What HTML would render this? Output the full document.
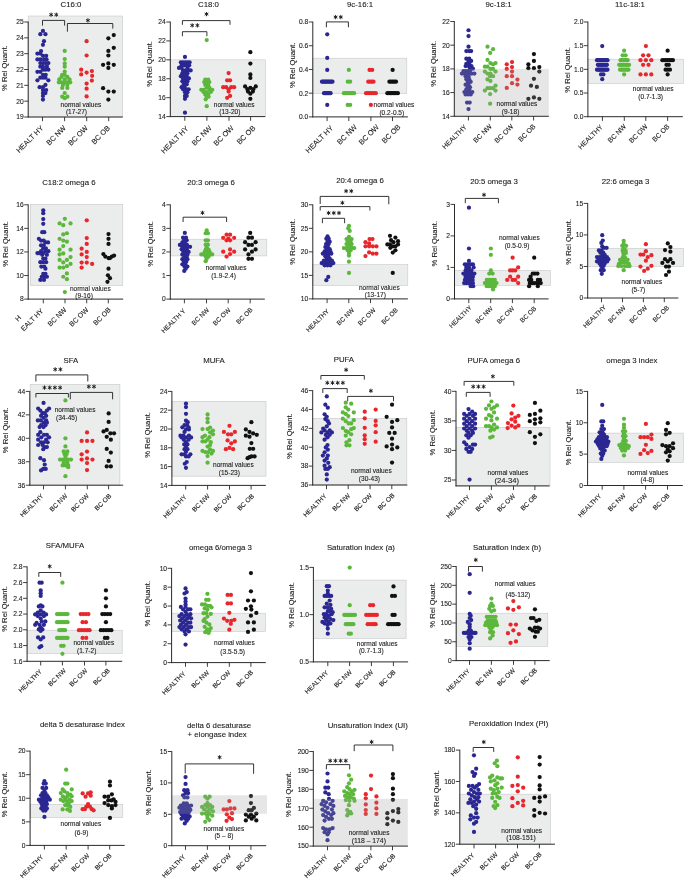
<!DOCTYPE html>
<html><head><meta charset="utf-8"><title>Fatty acid profile figure</title>
<style>
html,body{margin:0;padding:0;background:#fff;}
body{width:685px;height:881px;overflow:hidden;}
svg{display:block;will-change:transform;font-family:"Liberation Sans",sans-serif;}
text{fill:#1a1a1a;stroke:#1a1a1a;stroke-width:0.1px;}
</style></head><body>
<svg width="685" height="881" viewBox="0 0 685 881">
<rect width="685" height="881" fill="#ffffff"/>
<rect x="28.2" y="16" width="94.4" height="101" fill="#ebecec" stroke="#c9c9c9" stroke-width="0.6"/>
<circle cx="42.96" cy="30.98" r="2.12" fill="#2b2792"/>
<circle cx="40.33" cy="34.19" r="2.12" fill="#2b2792"/>
<circle cx="45.44" cy="34.19" r="2.12" fill="#2b2792"/>
<circle cx="43.98" cy="41.2" r="2.12" fill="#2b2792"/>
<circle cx="42.96" cy="44.85" r="2.12" fill="#2b2792"/>
<circle cx="41.06" cy="51.12" r="2.12" fill="#2b2792"/>
<circle cx="37.41" cy="53.61" r="2.12" fill="#2b2792"/>
<circle cx="40.33" cy="53.61" r="2.12" fill="#2b2792"/>
<circle cx="42.96" cy="55.8" r="2.12" fill="#2b2792"/>
<circle cx="46.17" cy="55.8" r="2.12" fill="#2b2792"/>
<circle cx="37.41" cy="59.45" r="2.12" fill="#2b2792"/>
<circle cx="40.33" cy="59.45" r="2.12" fill="#2b2792"/>
<circle cx="43.98" cy="59.45" r="2.12" fill="#2b2792"/>
<circle cx="46.61" cy="59.45" r="2.12" fill="#2b2792"/>
<circle cx="40.33" cy="63.09" r="2.12" fill="#2b2792"/>
<circle cx="42.96" cy="63.09" r="2.12" fill="#2b2792"/>
<circle cx="45.73" cy="63.09" r="2.12" fill="#2b2792"/>
<circle cx="48.36" cy="63.09" r="2.12" fill="#2b2792"/>
<circle cx="40.33" cy="66.74" r="2.12" fill="#2b2792"/>
<circle cx="42.96" cy="66.74" r="2.12" fill="#2b2792"/>
<circle cx="46.9" cy="66.74" r="2.12" fill="#2b2792"/>
<circle cx="42.96" cy="69.66" r="2.12" fill="#2b2792"/>
<circle cx="45.44" cy="69.66" r="2.12" fill="#2b2792"/>
<circle cx="48.36" cy="69.66" r="2.12" fill="#2b2792"/>
<circle cx="37.41" cy="71.85" r="2.12" fill="#2b2792"/>
<circle cx="40.33" cy="71.85" r="2.12" fill="#2b2792"/>
<circle cx="42.96" cy="74.77" r="2.12" fill="#2b2792"/>
<circle cx="45.73" cy="74.77" r="2.12" fill="#2b2792"/>
<circle cx="40.33" cy="77.69" r="2.12" fill="#2b2792"/>
<circle cx="42.96" cy="77.69" r="2.12" fill="#2b2792"/>
<circle cx="45.44" cy="77.69" r="2.12" fill="#2b2792"/>
<circle cx="37.41" cy="80.32" r="2.12" fill="#2b2792"/>
<circle cx="48.36" cy="80.32" r="2.12" fill="#2b2792"/>
<circle cx="45.44" cy="84.99" r="2.12" fill="#2b2792"/>
<circle cx="39.6" cy="87.18" r="2.12" fill="#2b2792"/>
<circle cx="42.96" cy="87.18" r="2.12" fill="#2b2792"/>
<circle cx="42.96" cy="90.1" r="2.12" fill="#2b2792"/>
<circle cx="46.17" cy="90.1" r="2.12" fill="#2b2792"/>
<circle cx="42.96" cy="93.02" r="2.12" fill="#2b2792"/>
<circle cx="45.44" cy="93.02" r="2.12" fill="#2b2792"/>
<circle cx="42.96" cy="95.94" r="2.12" fill="#2b2792"/>
<circle cx="42.96" cy="99.59" r="2.12" fill="#2b2792"/>
<circle cx="64.71" cy="50.98" r="2.12" fill="#5cb83c"/>
<circle cx="64.71" cy="59.01" r="2.12" fill="#5cb83c"/>
<circle cx="64.71" cy="63.39" r="2.12" fill="#5cb83c"/>
<circle cx="64.71" cy="66.74" r="2.12" fill="#5cb83c"/>
<circle cx="64.71" cy="71.56" r="2.12" fill="#5cb83c"/>
<circle cx="64.71" cy="74.77" r="2.12" fill="#5cb83c"/>
<circle cx="62.23" cy="74.77" r="2.12" fill="#5cb83c"/>
<circle cx="61.5" cy="76.96" r="2.12" fill="#5cb83c"/>
<circle cx="67.34" cy="76.96" r="2.12" fill="#5cb83c"/>
<circle cx="59.31" cy="79.45" r="2.12" fill="#5cb83c"/>
<circle cx="64.71" cy="79.45" r="2.12" fill="#5cb83c"/>
<circle cx="69.53" cy="79.45" r="2.12" fill="#5cb83c"/>
<circle cx="58.87" cy="82.36" r="2.12" fill="#5cb83c"/>
<circle cx="61.5" cy="82.36" r="2.12" fill="#5cb83c"/>
<circle cx="64.42" cy="82.36" r="2.12" fill="#5cb83c"/>
<circle cx="67.34" cy="82.36" r="2.12" fill="#5cb83c"/>
<circle cx="70.26" cy="82.36" r="2.12" fill="#5cb83c"/>
<circle cx="62.96" cy="84.99" r="2.12" fill="#5cb83c"/>
<circle cx="67.34" cy="84.99" r="2.12" fill="#5cb83c"/>
<circle cx="62.23" cy="87.91" r="2.12" fill="#5cb83c"/>
<circle cx="67.34" cy="87.91" r="2.12" fill="#5cb83c"/>
<circle cx="64.71" cy="93.02" r="2.12" fill="#5cb83c"/>
<circle cx="62.23" cy="96.67" r="2.12" fill="#5cb83c"/>
<circle cx="67.34" cy="96.67" r="2.12" fill="#5cb83c"/>
<circle cx="64.71" cy="98.13" r="2.12" fill="#5cb83c"/>
<circle cx="86.61" cy="41.2" r="2.12" fill="#e8262b"/>
<circle cx="86.61" cy="55.5" r="2.12" fill="#e8262b"/>
<circle cx="81.2" cy="69.66" r="2.12" fill="#e8262b"/>
<circle cx="86.61" cy="72.58" r="2.12" fill="#e8262b"/>
<circle cx="91.86" cy="71.12" r="2.12" fill="#e8262b"/>
<circle cx="81.2" cy="74.48" r="2.12" fill="#e8262b"/>
<circle cx="92.15" cy="75.8" r="2.12" fill="#e8262b"/>
<circle cx="91.86" cy="80.61" r="2.12" fill="#e8262b"/>
<circle cx="86.61" cy="83.53" r="2.12" fill="#e8262b"/>
<circle cx="86.61" cy="88.64" r="2.12" fill="#e8262b"/>
<circle cx="86.61" cy="96.38" r="2.12" fill="#e8262b"/>
<circle cx="113.76" cy="35.07" r="2.12" fill="#111111"/>
<circle cx="108.36" cy="38.28" r="2.12" fill="#111111"/>
<circle cx="113.76" cy="47.77" r="2.12" fill="#111111"/>
<circle cx="108.36" cy="50.98" r="2.12" fill="#111111"/>
<circle cx="108.36" cy="55.5" r="2.12" fill="#111111"/>
<circle cx="108.36" cy="63.39" r="2.12" fill="#111111"/>
<circle cx="103.1" cy="64.85" r="2.12" fill="#111111"/>
<circle cx="113.76" cy="64.85" r="2.12" fill="#111111"/>
<circle cx="108.36" cy="67.91" r="2.12" fill="#111111"/>
<circle cx="103.1" cy="88.2" r="2.12" fill="#111111"/>
<circle cx="108.36" cy="91.56" r="2.12" fill="#111111"/>
<circle cx="113.76" cy="91.56" r="2.12" fill="#111111"/>
<circle cx="108.36" cy="99.59" r="2.12" fill="#111111"/>
<text x="71" y="7.3" font-size="7.8" text-anchor="middle">C16:0</text>
<line x1="28.2" y1="21.6" x2="28.2" y2="117.45" stroke="#2a2a2a" stroke-width="1"/>
<line x1="27.75" y1="117" x2="122.8" y2="117" stroke="#2a2a2a" stroke-width="1"/>
<line x1="24.2" y1="22" x2="28.2" y2="22" stroke="#2a2a2a" stroke-width="0.9"/>
<text x="23.7" y="24.35" font-size="6.7" text-anchor="end">25</text>
<line x1="24.2" y1="37.83" x2="28.2" y2="37.83" stroke="#2a2a2a" stroke-width="0.9"/>
<text x="23.7" y="40.18" font-size="6.7" text-anchor="end">24</text>
<line x1="24.2" y1="53.67" x2="28.2" y2="53.67" stroke="#2a2a2a" stroke-width="0.9"/>
<text x="23.7" y="56.02" font-size="6.7" text-anchor="end">23</text>
<line x1="24.2" y1="69.5" x2="28.2" y2="69.5" stroke="#2a2a2a" stroke-width="0.9"/>
<text x="23.7" y="71.85" font-size="6.7" text-anchor="end">22</text>
<line x1="24.2" y1="85.33" x2="28.2" y2="85.33" stroke="#2a2a2a" stroke-width="0.9"/>
<text x="23.7" y="87.68" font-size="6.7" text-anchor="end">21</text>
<line x1="24.2" y1="101.17" x2="28.2" y2="101.17" stroke="#2a2a2a" stroke-width="0.9"/>
<text x="23.7" y="103.52" font-size="6.7" text-anchor="end">20</text>
<line x1="24.2" y1="117" x2="28.2" y2="117" stroke="#2a2a2a" stroke-width="0.9"/>
<text x="23.7" y="119.35" font-size="6.7" text-anchor="end">19</text>
<text x="7.1" y="68.2" font-size="7.7" text-anchor="middle" transform="rotate(-90 7.1 68.2)">% Rel Quant.</text>
<line x1="42.5" y1="117" x2="42.5" y2="121.2" stroke="#2a2a2a" stroke-width="0.9"/>
<text x="43.9" y="128.6" font-size="7.3" text-anchor="end" transform="rotate(-45 43.9 128.6)">HEALT HY</text>
<line x1="64.6" y1="117" x2="64.6" y2="121.2" stroke="#2a2a2a" stroke-width="0.9"/>
<text x="66.4" y="128.6" font-size="7.3" text-anchor="end" transform="rotate(-45 66.4 128.6)">BC NW</text>
<line x1="86.7" y1="117" x2="86.7" y2="121.2" stroke="#2a2a2a" stroke-width="0.9"/>
<text x="88.5" y="128.6" font-size="7.3" text-anchor="end" transform="rotate(-45 88.5 128.6)">BC OW</text>
<line x1="108.7" y1="117" x2="108.7" y2="121.2" stroke="#2a2a2a" stroke-width="0.9"/>
<text x="110.5" y="128.6" font-size="7.3" text-anchor="end" transform="rotate(-45 110.5 128.6)">BC OB</text>
<text x="81" y="106.5" font-size="6.55" text-anchor="middle">normal values</text>
<text x="76.5" y="114.3" font-size="6.55" text-anchor="middle">(17-27)</text>
<path d="M42.5 25.6 V20.4 H64.6 V25.6" fill="none" stroke="#2a2a2a" stroke-width="0.95"/>
<path d="M51.1 12.58 L51.1 16.82 M49.26 13.64 L52.94 15.76 M52.94 13.64 L49.26 15.76" stroke="#1a1a1a" stroke-width="0.95" fill="none"/>
<path d="M56.3 12.58 L56.3 16.82 M54.46 13.64 L58.14 15.76 M58.14 13.64 L54.46 15.76" stroke="#1a1a1a" stroke-width="0.95" fill="none"/>
<path d="M67.4 31.7 V23.5 H112.8 V28.6" fill="none" stroke="#2a2a2a" stroke-width="0.95"/>
<path d="M87.9 18.28 L87.9 22.52 M86.06 19.34 L89.74 21.46 M89.74 19.34 L86.06 21.46" stroke="#1a1a1a" stroke-width="0.95" fill="none"/>
<rect x="170.3" y="59.84" width="95" height="56.76" fill="#ebecec" stroke="#c9c9c9" stroke-width="0.6"/>
<circle cx="184.96" cy="56.96" r="2.12" fill="#2b2792"/>
<circle cx="180.87" cy="62.36" r="2.12" fill="#2b2792"/>
<circle cx="183.06" cy="62.36" r="2.12" fill="#2b2792"/>
<circle cx="185.25" cy="62.36" r="2.12" fill="#2b2792"/>
<circle cx="187.44" cy="62.36" r="2.12" fill="#2b2792"/>
<circle cx="189.63" cy="62.36" r="2.12" fill="#2b2792"/>
<circle cx="181.6" cy="65.28" r="2.12" fill="#2b2792"/>
<circle cx="184.23" cy="65.28" r="2.12" fill="#2b2792"/>
<circle cx="186.71" cy="65.28" r="2.12" fill="#2b2792"/>
<circle cx="189.19" cy="65.28" r="2.12" fill="#2b2792"/>
<circle cx="178.97" cy="67.91" r="2.12" fill="#2b2792"/>
<circle cx="181.6" cy="67.91" r="2.12" fill="#2b2792"/>
<circle cx="187.44" cy="67.91" r="2.12" fill="#2b2792"/>
<circle cx="183.06" cy="70.39" r="2.12" fill="#2b2792"/>
<circle cx="185.69" cy="70.39" r="2.12" fill="#2b2792"/>
<circle cx="188.17" cy="70.39" r="2.12" fill="#2b2792"/>
<circle cx="190.65" cy="70.39" r="2.12" fill="#2b2792"/>
<circle cx="182.33" cy="73.31" r="2.12" fill="#2b2792"/>
<circle cx="184.96" cy="73.31" r="2.12" fill="#2b2792"/>
<circle cx="187.44" cy="73.31" r="2.12" fill="#2b2792"/>
<circle cx="180.87" cy="76.23" r="2.12" fill="#2b2792"/>
<circle cx="183.79" cy="76.23" r="2.12" fill="#2b2792"/>
<circle cx="186.71" cy="76.23" r="2.12" fill="#2b2792"/>
<circle cx="183.06" cy="78.42" r="2.12" fill="#2b2792"/>
<circle cx="185.69" cy="78.42" r="2.12" fill="#2b2792"/>
<circle cx="188.9" cy="78.42" r="2.12" fill="#2b2792"/>
<circle cx="182.33" cy="81.34" r="2.12" fill="#2b2792"/>
<circle cx="184.96" cy="81.34" r="2.12" fill="#2b2792"/>
<circle cx="187.44" cy="81.34" r="2.12" fill="#2b2792"/>
<circle cx="183.79" cy="84.26" r="2.12" fill="#2b2792"/>
<circle cx="186.71" cy="84.26" r="2.12" fill="#2b2792"/>
<circle cx="181.6" cy="87.18" r="2.12" fill="#2b2792"/>
<circle cx="184.52" cy="87.18" r="2.12" fill="#2b2792"/>
<circle cx="183.06" cy="89.37" r="2.12" fill="#2b2792"/>
<circle cx="185.98" cy="89.37" r="2.12" fill="#2b2792"/>
<circle cx="188.61" cy="89.37" r="2.12" fill="#2b2792"/>
<circle cx="184.96" cy="92.29" r="2.12" fill="#2b2792"/>
<circle cx="187.44" cy="92.29" r="2.12" fill="#2b2792"/>
<circle cx="184.96" cy="95.94" r="2.12" fill="#2b2792"/>
<circle cx="186.71" cy="95.94" r="2.12" fill="#2b2792"/>
<circle cx="184.96" cy="98.86" r="2.12" fill="#2b2792"/>
<circle cx="184.96" cy="112.73" r="2.12" fill="#2b2792"/>
<circle cx="206.71" cy="40.03" r="2.12" fill="#5cb83c"/>
<circle cx="205.25" cy="79.59" r="2.12" fill="#5cb83c"/>
<circle cx="208.17" cy="79.59" r="2.12" fill="#5cb83c"/>
<circle cx="204.23" cy="82.07" r="2.12" fill="#5cb83c"/>
<circle cx="206.71" cy="82.07" r="2.12" fill="#5cb83c"/>
<circle cx="209.34" cy="82.07" r="2.12" fill="#5cb83c"/>
<circle cx="205.25" cy="84.99" r="2.12" fill="#5cb83c"/>
<circle cx="208.17" cy="84.99" r="2.12" fill="#5cb83c"/>
<circle cx="206.71" cy="87.62" r="2.12" fill="#5cb83c"/>
<circle cx="209.34" cy="87.62" r="2.12" fill="#5cb83c"/>
<circle cx="201.31" cy="89.81" r="2.12" fill="#5cb83c"/>
<circle cx="203.79" cy="89.81" r="2.12" fill="#5cb83c"/>
<circle cx="209.34" cy="89.81" r="2.12" fill="#5cb83c"/>
<circle cx="212.26" cy="89.81" r="2.12" fill="#5cb83c"/>
<circle cx="203.5" cy="92" r="2.12" fill="#5cb83c"/>
<circle cx="206.71" cy="92" r="2.12" fill="#5cb83c"/>
<circle cx="210.8" cy="92" r="2.12" fill="#5cb83c"/>
<circle cx="205.25" cy="94.48" r="2.12" fill="#5cb83c"/>
<circle cx="208.17" cy="94.48" r="2.12" fill="#5cb83c"/>
<circle cx="206.71" cy="96.67" r="2.12" fill="#5cb83c"/>
<circle cx="208.61" cy="96.67" r="2.12" fill="#5cb83c"/>
<circle cx="205.69" cy="99.3" r="2.12" fill="#5cb83c"/>
<circle cx="206.71" cy="106.16" r="2.12" fill="#5cb83c"/>
<circle cx="228.61" cy="73.02" r="2.12" fill="#e8262b"/>
<circle cx="227.15" cy="80.32" r="2.12" fill="#e8262b"/>
<circle cx="230.07" cy="80.32" r="2.12" fill="#e8262b"/>
<circle cx="223.2" cy="87.18" r="2.12" fill="#e8262b"/>
<circle cx="226.12" cy="87.18" r="2.12" fill="#e8262b"/>
<circle cx="231.23" cy="87.18" r="2.12" fill="#e8262b"/>
<circle cx="234.15" cy="87.18" r="2.12" fill="#e8262b"/>
<circle cx="228.61" cy="89.37" r="2.12" fill="#e8262b"/>
<circle cx="228.61" cy="91.56" r="2.12" fill="#e8262b"/>
<circle cx="230.07" cy="95.94" r="2.12" fill="#e8262b"/>
<circle cx="227.15" cy="97.84" r="2.12" fill="#e8262b"/>
<circle cx="250.36" cy="52.15" r="2.12" fill="#111111"/>
<circle cx="250.36" cy="63.53" r="2.12" fill="#111111"/>
<circle cx="250.36" cy="74.48" r="2.12" fill="#111111"/>
<circle cx="250.36" cy="77.99" r="2.12" fill="#111111"/>
<circle cx="245.1" cy="86.45" r="2.12" fill="#111111"/>
<circle cx="255.76" cy="86.45" r="2.12" fill="#111111"/>
<circle cx="250.36" cy="87.91" r="2.12" fill="#111111"/>
<circle cx="247.29" cy="89.08" r="2.12" fill="#111111"/>
<circle cx="253.42" cy="89.08" r="2.12" fill="#111111"/>
<circle cx="248.02" cy="91.56" r="2.12" fill="#111111"/>
<circle cx="252.84" cy="91.56" r="2.12" fill="#111111"/>
<circle cx="250.36" cy="93.75" r="2.12" fill="#111111"/>
<circle cx="250.36" cy="98.86" r="2.12" fill="#111111"/>
<text x="208.5" y="7.3" font-size="7.8" text-anchor="middle">C18:0</text>
<line x1="170.3" y1="21.6" x2="170.3" y2="117.05" stroke="#2a2a2a" stroke-width="1"/>
<line x1="169.85" y1="116.6" x2="265.3" y2="116.6" stroke="#2a2a2a" stroke-width="1"/>
<line x1="166.3" y1="22" x2="170.3" y2="22" stroke="#2a2a2a" stroke-width="0.9"/>
<text x="165.8" y="24.35" font-size="6.7" text-anchor="end">24</text>
<line x1="166.3" y1="40.92" x2="170.3" y2="40.92" stroke="#2a2a2a" stroke-width="0.9"/>
<text x="165.8" y="43.27" font-size="6.7" text-anchor="end">22</text>
<line x1="166.3" y1="59.84" x2="170.3" y2="59.84" stroke="#2a2a2a" stroke-width="0.9"/>
<text x="165.8" y="62.19" font-size="6.7" text-anchor="end">20</text>
<line x1="166.3" y1="78.76" x2="170.3" y2="78.76" stroke="#2a2a2a" stroke-width="0.9"/>
<text x="165.8" y="81.11" font-size="6.7" text-anchor="end">18</text>
<line x1="166.3" y1="97.68" x2="170.3" y2="97.68" stroke="#2a2a2a" stroke-width="0.9"/>
<text x="165.8" y="100.03" font-size="6.7" text-anchor="end">16</text>
<line x1="166.3" y1="116.6" x2="170.3" y2="116.6" stroke="#2a2a2a" stroke-width="0.9"/>
<text x="165.8" y="118.95" font-size="6.7" text-anchor="end">14</text>
<text x="151.9" y="63.9" font-size="7.7" text-anchor="middle" transform="rotate(-90 151.9 63.9)">% Rel Quant.</text>
<line x1="184.8" y1="116.6" x2="184.8" y2="120.8" stroke="#2a2a2a" stroke-width="0.9"/>
<text x="189.1" y="129" font-size="7.4" text-anchor="end" transform="rotate(-45 189.1 129)">HEALT HY</text>
<line x1="206.9" y1="116.6" x2="206.9" y2="120.8" stroke="#2a2a2a" stroke-width="0.9"/>
<text x="212.2" y="128.6" font-size="7.4" text-anchor="end" transform="rotate(-45 212.2 128.6)">BC NW</text>
<line x1="229" y1="116.6" x2="229" y2="120.8" stroke="#2a2a2a" stroke-width="0.9"/>
<text x="234.3" y="128.6" font-size="7.4" text-anchor="end" transform="rotate(-45 234.3 128.6)">BC OW</text>
<line x1="250.6" y1="116.6" x2="250.6" y2="120.8" stroke="#2a2a2a" stroke-width="0.9"/>
<text x="255.9" y="128.6" font-size="7.4" text-anchor="end" transform="rotate(-45 255.9 128.6)">BC OB</text>
<text x="234.2" y="106.5" font-size="6.55" text-anchor="middle">normal values</text>
<text x="229.8" y="114.2" font-size="6.55" text-anchor="middle">(13-20)</text>
<path d="M182.4 24.8 V20.6 H230 V24.8" fill="none" stroke="#2a2a2a" stroke-width="0.95"/>
<path d="M206.5 11.98 L206.5 16.22 M204.66 13.04 L208.34 15.16 M208.34 13.04 L204.66 15.16" stroke="#1a1a1a" stroke-width="0.95" fill="none"/>
<path d="M182.4 36.2 V31.7 H206.9 V36.2" fill="none" stroke="#2a2a2a" stroke-width="0.95"/>
<path d="M192.2 23.28 L192.2 27.52 M190.36 24.34 L194.04 26.46 M194.04 24.34 L190.36 26.46" stroke="#1a1a1a" stroke-width="0.95" fill="none"/>
<path d="M197.4 23.28 L197.4 27.52 M195.56 24.34 L199.24 26.46 M199.24 24.34 L195.56 26.46" stroke="#1a1a1a" stroke-width="0.95" fill="none"/>
<rect x="312.8" y="58.2" width="94" height="35.2" fill="#ebecec" stroke="#c9c9c9" stroke-width="0.6"/>
<circle cx="327.23" cy="34.34" r="2.12" fill="#2b2792"/>
<circle cx="327.23" cy="57.99" r="2.12" fill="#2b2792"/>
<circle cx="327.23" cy="69.96" r="2.12" fill="#2b2792"/>
<circle cx="321.97" cy="81.64" r="2.12" fill="#2b2792"/>
<circle cx="323.14" cy="81.64" r="2.12" fill="#2b2792"/>
<circle cx="324.31" cy="81.64" r="2.12" fill="#2b2792"/>
<circle cx="325.47" cy="81.64" r="2.12" fill="#2b2792"/>
<circle cx="326.64" cy="81.64" r="2.12" fill="#2b2792"/>
<circle cx="327.81" cy="81.64" r="2.12" fill="#2b2792"/>
<circle cx="328.98" cy="81.64" r="2.12" fill="#2b2792"/>
<circle cx="330.15" cy="81.64" r="2.12" fill="#2b2792"/>
<circle cx="331.31" cy="81.64" r="2.12" fill="#2b2792"/>
<circle cx="332.48" cy="81.64" r="2.12" fill="#2b2792"/>
<circle cx="324.01" cy="93.17" r="2.12" fill="#2b2792"/>
<circle cx="325.18" cy="93.17" r="2.12" fill="#2b2792"/>
<circle cx="326.35" cy="93.17" r="2.12" fill="#2b2792"/>
<circle cx="327.37" cy="93.17" r="2.12" fill="#2b2792"/>
<circle cx="328.39" cy="93.17" r="2.12" fill="#2b2792"/>
<circle cx="329.56" cy="93.17" r="2.12" fill="#2b2792"/>
<circle cx="330.58" cy="93.17" r="2.12" fill="#2b2792"/>
<circle cx="327.23" cy="104.99" r="2.12" fill="#2b2792"/>
<circle cx="348.83" cy="69.96" r="2.12" fill="#5cb83c"/>
<circle cx="347.81" cy="81.64" r="2.12" fill="#5cb83c"/>
<circle cx="350.15" cy="81.64" r="2.12" fill="#5cb83c"/>
<circle cx="343.87" cy="93.17" r="2.12" fill="#5cb83c"/>
<circle cx="345.33" cy="93.17" r="2.12" fill="#5cb83c"/>
<circle cx="346.79" cy="93.17" r="2.12" fill="#5cb83c"/>
<circle cx="348.25" cy="93.17" r="2.12" fill="#5cb83c"/>
<circle cx="349.71" cy="93.17" r="2.12" fill="#5cb83c"/>
<circle cx="351.17" cy="93.17" r="2.12" fill="#5cb83c"/>
<circle cx="352.63" cy="93.17" r="2.12" fill="#5cb83c"/>
<circle cx="354.09" cy="93.17" r="2.12" fill="#5cb83c"/>
<circle cx="347.66" cy="104.99" r="2.12" fill="#5cb83c"/>
<circle cx="350.15" cy="104.99" r="2.12" fill="#5cb83c"/>
<circle cx="369.56" cy="69.96" r="2.12" fill="#e8262b"/>
<circle cx="372.19" cy="69.96" r="2.12" fill="#e8262b"/>
<circle cx="368.25" cy="81.64" r="2.12" fill="#e8262b"/>
<circle cx="370" cy="81.64" r="2.12" fill="#e8262b"/>
<circle cx="371.75" cy="81.64" r="2.12" fill="#e8262b"/>
<circle cx="373.5" cy="81.64" r="2.12" fill="#e8262b"/>
<circle cx="366.06" cy="93.17" r="2.12" fill="#e8262b"/>
<circle cx="367.96" cy="93.17" r="2.12" fill="#e8262b"/>
<circle cx="369.85" cy="93.17" r="2.12" fill="#e8262b"/>
<circle cx="371.75" cy="93.17" r="2.12" fill="#e8262b"/>
<circle cx="373.65" cy="93.17" r="2.12" fill="#e8262b"/>
<circle cx="375.84" cy="93.17" r="2.12" fill="#e8262b"/>
<circle cx="370.88" cy="104.99" r="2.12" fill="#e8262b"/>
<circle cx="392.63" cy="69.96" r="2.12" fill="#111111"/>
<circle cx="389.42" cy="81.64" r="2.12" fill="#111111"/>
<circle cx="391.02" cy="81.64" r="2.12" fill="#111111"/>
<circle cx="392.63" cy="81.64" r="2.12" fill="#111111"/>
<circle cx="394.23" cy="81.64" r="2.12" fill="#111111"/>
<circle cx="395.99" cy="81.64" r="2.12" fill="#111111"/>
<circle cx="387.37" cy="93.17" r="2.12" fill="#111111"/>
<circle cx="388.83" cy="93.17" r="2.12" fill="#111111"/>
<circle cx="390.29" cy="93.17" r="2.12" fill="#111111"/>
<circle cx="391.75" cy="93.17" r="2.12" fill="#111111"/>
<circle cx="393.21" cy="93.17" r="2.12" fill="#111111"/>
<circle cx="394.67" cy="93.17" r="2.12" fill="#111111"/>
<circle cx="396.13" cy="93.17" r="2.12" fill="#111111"/>
<circle cx="397.88" cy="93.17" r="2.12" fill="#111111"/>
<text x="360" y="7.3" font-size="7.8" text-anchor="middle">9c-16:1</text>
<line x1="312.8" y1="21.6" x2="312.8" y2="117.35" stroke="#2a2a2a" stroke-width="1"/>
<line x1="312.35" y1="116.9" x2="407.9" y2="116.9" stroke="#2a2a2a" stroke-width="1"/>
<line x1="308.8" y1="22" x2="312.8" y2="22" stroke="#2a2a2a" stroke-width="0.9"/>
<text x="308.3" y="24.35" font-size="6.7" text-anchor="end">0.8</text>
<line x1="308.8" y1="45.73" x2="312.8" y2="45.73" stroke="#2a2a2a" stroke-width="0.9"/>
<text x="308.3" y="48.08" font-size="6.7" text-anchor="end">0.6</text>
<line x1="308.8" y1="69.45" x2="312.8" y2="69.45" stroke="#2a2a2a" stroke-width="0.9"/>
<text x="308.3" y="71.8" font-size="6.7" text-anchor="end">0.4</text>
<line x1="308.8" y1="93.18" x2="312.8" y2="93.18" stroke="#2a2a2a" stroke-width="0.9"/>
<text x="308.3" y="95.53" font-size="6.7" text-anchor="end">0.2</text>
<line x1="308.8" y1="116.9" x2="312.8" y2="116.9" stroke="#2a2a2a" stroke-width="0.9"/>
<text x="308.3" y="119.25" font-size="6.7" text-anchor="end">0.0</text>
<text x="295" y="65.2" font-size="7.7" text-anchor="middle" transform="rotate(-90 295 65.2)">% Rel Quant.</text>
<line x1="327.1" y1="116.9" x2="327.1" y2="121.1" stroke="#2a2a2a" stroke-width="0.9"/>
<text x="333.7" y="128.4" font-size="7.4" text-anchor="end" transform="rotate(-45 333.7 128.4)">HEALT HY</text>
<line x1="348.8" y1="116.9" x2="348.8" y2="121.1" stroke="#2a2a2a" stroke-width="0.9"/>
<text x="357.4" y="127.5" font-size="7.4" text-anchor="end" transform="rotate(-45 357.4 127.5)">BC NW</text>
<line x1="370.9" y1="116.9" x2="370.9" y2="121.1" stroke="#2a2a2a" stroke-width="0.9"/>
<text x="379.5" y="127.5" font-size="7.4" text-anchor="end" transform="rotate(-45 379.5 127.5)">BC OW</text>
<line x1="392.5" y1="116.9" x2="392.5" y2="121.1" stroke="#2a2a2a" stroke-width="0.9"/>
<text x="401.1" y="127.5" font-size="7.4" text-anchor="end" transform="rotate(-45 401.1 127.5)">BC OB</text>
<text x="394" y="107.2" font-size="6.55" text-anchor="middle">normal values</text>
<text x="391.8" y="114.6" font-size="6.55" text-anchor="middle">(0.2-0.5)</text>
<path d="M326.4 27.3 V21.9 H348.4 V27.3" fill="none" stroke="#2a2a2a" stroke-width="0.95"/>
<path d="M335.6 14.98 L335.6 19.22 M333.76 16.04 L337.44 18.16 M337.44 16.04 L333.76 18.16" stroke="#1a1a1a" stroke-width="0.95" fill="none"/>
<path d="M340.8 14.98 L340.8 19.22 M338.96 16.04 L342.64 18.16 M342.64 16.04 L338.96 18.16" stroke="#1a1a1a" stroke-width="0.95" fill="none"/>
<circle cx="468.52" cy="30.25" r="2.12" fill="#2b2792"/>
<circle cx="468.52" cy="36.09" r="2.12" fill="#2b2792"/>
<circle cx="468.52" cy="46.74" r="2.12" fill="#2b2792"/>
<circle cx="466.33" cy="51.12" r="2.12" fill="#2b2792"/>
<circle cx="469.25" cy="51.12" r="2.12" fill="#2b2792"/>
<circle cx="471.15" cy="51.12" r="2.12" fill="#2b2792"/>
<circle cx="466.33" cy="58.72" r="2.12" fill="#2b2792"/>
<circle cx="469.25" cy="58.72" r="2.12" fill="#2b2792"/>
<circle cx="468.52" cy="60.91" r="2.12" fill="#2b2792"/>
<circle cx="471.15" cy="60.91" r="2.12" fill="#2b2792"/>
<circle cx="466.33" cy="63.82" r="2.12" fill="#2b2792"/>
<circle cx="469.25" cy="63.82" r="2.12" fill="#2b2792"/>
<circle cx="465.6" cy="66.01" r="2.12" fill="#2b2792"/>
<circle cx="468.52" cy="66.01" r="2.12" fill="#2b2792"/>
<circle cx="471.44" cy="66.01" r="2.12" fill="#2b2792"/>
<circle cx="469.98" cy="68.64" r="2.12" fill="#2b2792"/>
<circle cx="472.9" cy="68.64" r="2.12" fill="#2b2792"/>
<circle cx="463.41" cy="71.12" r="2.12" fill="#2b2792"/>
<circle cx="465.6" cy="71.12" r="2.12" fill="#2b2792"/>
<circle cx="467.79" cy="71.12" r="2.12" fill="#2b2792"/>
<circle cx="469.98" cy="71.12" r="2.12" fill="#2b2792"/>
<circle cx="461.95" cy="73.61" r="2.12" fill="#2b2792"/>
<circle cx="464.43" cy="73.61" r="2.12" fill="#2b2792"/>
<circle cx="466.77" cy="73.61" r="2.12" fill="#2b2792"/>
<circle cx="469.25" cy="73.61" r="2.12" fill="#2b2792"/>
<circle cx="471.73" cy="73.61" r="2.12" fill="#2b2792"/>
<circle cx="474.36" cy="73.61" r="2.12" fill="#2b2792"/>
<circle cx="465.6" cy="76.23" r="2.12" fill="#2b2792"/>
<circle cx="468.52" cy="76.23" r="2.12" fill="#2b2792"/>
<circle cx="466.33" cy="79.15" r="2.12" fill="#2b2792"/>
<circle cx="469.25" cy="79.15" r="2.12" fill="#2b2792"/>
<circle cx="467.79" cy="81.78" r="2.12" fill="#2b2792"/>
<circle cx="470.71" cy="81.78" r="2.12" fill="#2b2792"/>
<circle cx="465.6" cy="84.7" r="2.12" fill="#2b2792"/>
<circle cx="468.52" cy="84.7" r="2.12" fill="#2b2792"/>
<circle cx="467.79" cy="87.18" r="2.12" fill="#2b2792"/>
<circle cx="469.98" cy="87.18" r="2.12" fill="#2b2792"/>
<circle cx="466.33" cy="89.37" r="2.12" fill="#2b2792"/>
<circle cx="469.25" cy="89.37" r="2.12" fill="#2b2792"/>
<circle cx="464.43" cy="92" r="2.12" fill="#2b2792"/>
<circle cx="467.06" cy="92" r="2.12" fill="#2b2792"/>
<circle cx="469.69" cy="92" r="2.12" fill="#2b2792"/>
<circle cx="472.31" cy="92" r="2.12" fill="#2b2792"/>
<circle cx="465.6" cy="94.48" r="2.12" fill="#2b2792"/>
<circle cx="468.23" cy="94.48" r="2.12" fill="#2b2792"/>
<circle cx="470.71" cy="94.48" r="2.12" fill="#2b2792"/>
<circle cx="467.06" cy="102.51" r="2.12" fill="#2b2792"/>
<circle cx="469.69" cy="102.51" r="2.12" fill="#2b2792"/>
<circle cx="468.52" cy="109.08" r="2.12" fill="#2b2792"/>
<circle cx="487.5" cy="46.74" r="2.12" fill="#5cb83c"/>
<circle cx="493.04" cy="49.23" r="2.12" fill="#5cb83c"/>
<circle cx="490.12" cy="52.88" r="2.12" fill="#5cb83c"/>
<circle cx="487.5" cy="59.88" r="2.12" fill="#5cb83c"/>
<circle cx="490.42" cy="63.09" r="2.12" fill="#5cb83c"/>
<circle cx="495.53" cy="63.09" r="2.12" fill="#5cb83c"/>
<circle cx="493.04" cy="64.26" r="2.12" fill="#5cb83c"/>
<circle cx="484.87" cy="66.74" r="2.12" fill="#5cb83c"/>
<circle cx="487.5" cy="66.74" r="2.12" fill="#5cb83c"/>
<circle cx="490.42" cy="68.93" r="2.12" fill="#5cb83c"/>
<circle cx="493.04" cy="68.93" r="2.12" fill="#5cb83c"/>
<circle cx="484.87" cy="71.56" r="2.12" fill="#5cb83c"/>
<circle cx="495.53" cy="71.56" r="2.12" fill="#5cb83c"/>
<circle cx="487.5" cy="73.61" r="2.12" fill="#5cb83c"/>
<circle cx="490.42" cy="73.61" r="2.12" fill="#5cb83c"/>
<circle cx="490.12" cy="76.23" r="2.12" fill="#5cb83c"/>
<circle cx="493.04" cy="76.23" r="2.12" fill="#5cb83c"/>
<circle cx="487.5" cy="79.45" r="2.12" fill="#5cb83c"/>
<circle cx="490.42" cy="80.91" r="2.12" fill="#5cb83c"/>
<circle cx="495.53" cy="85.72" r="2.12" fill="#5cb83c"/>
<circle cx="487.5" cy="88.2" r="2.12" fill="#5cb83c"/>
<circle cx="490.12" cy="88.2" r="2.12" fill="#5cb83c"/>
<circle cx="493.04" cy="88.2" r="2.12" fill="#5cb83c"/>
<circle cx="484.87" cy="90.54" r="2.12" fill="#5cb83c"/>
<circle cx="495.53" cy="90.54" r="2.12" fill="#5cb83c"/>
<circle cx="490.12" cy="94.04" r="2.12" fill="#5cb83c"/>
<circle cx="490.12" cy="103.68" r="2.12" fill="#5cb83c"/>
<circle cx="512.02" cy="62.07" r="2.12" fill="#e8262b"/>
<circle cx="506.77" cy="64.26" r="2.12" fill="#e8262b"/>
<circle cx="512.02" cy="67.04" r="2.12" fill="#e8262b"/>
<circle cx="506.77" cy="68.93" r="2.12" fill="#e8262b"/>
<circle cx="512.02" cy="71.56" r="2.12" fill="#e8262b"/>
<circle cx="506.77" cy="76.23" r="2.12" fill="#e8262b"/>
<circle cx="512.02" cy="76.23" r="2.12" fill="#e8262b"/>
<circle cx="517.42" cy="79.59" r="2.12" fill="#e8262b"/>
<circle cx="512.02" cy="83.24" r="2.12" fill="#e8262b"/>
<circle cx="517.42" cy="84.55" r="2.12" fill="#e8262b"/>
<circle cx="506.77" cy="87.91" r="2.12" fill="#e8262b"/>
<circle cx="533.92" cy="54.04" r="2.12" fill="#111111"/>
<circle cx="533.92" cy="60.91" r="2.12" fill="#111111"/>
<circle cx="528.37" cy="64.26" r="2.12" fill="#111111"/>
<circle cx="539.32" cy="67.04" r="2.12" fill="#111111"/>
<circle cx="528.37" cy="68.2" r="2.12" fill="#111111"/>
<circle cx="533.92" cy="68.2" r="2.12" fill="#111111"/>
<circle cx="539.32" cy="71.56" r="2.12" fill="#111111"/>
<circle cx="533.92" cy="78.86" r="2.12" fill="#111111"/>
<circle cx="531" cy="85.72" r="2.12" fill="#111111"/>
<circle cx="536.84" cy="86.89" r="2.12" fill="#111111"/>
<circle cx="533.92" cy="97.4" r="2.12" fill="#111111"/>
<circle cx="528.37" cy="98.86" r="2.12" fill="#111111"/>
<circle cx="539.32" cy="98.86" r="2.12" fill="#111111"/>
<rect x="454.3" y="68.9" width="94.5" height="47.4" fill="#9c9c9c" fill-opacity="0.25"/>
<text x="498.5" y="7.3" font-size="7.8" text-anchor="middle">9c-18:1</text>
<line x1="454.3" y1="21.1" x2="454.3" y2="116.75" stroke="#2a2a2a" stroke-width="1"/>
<line x1="453.85" y1="116.3" x2="548.8" y2="116.3" stroke="#2a2a2a" stroke-width="1"/>
<line x1="450.3" y1="21.5" x2="454.3" y2="21.5" stroke="#2a2a2a" stroke-width="0.9"/>
<text x="449.8" y="23.85" font-size="6.7" text-anchor="end">22</text>
<line x1="450.3" y1="45.2" x2="454.3" y2="45.2" stroke="#2a2a2a" stroke-width="0.9"/>
<text x="449.8" y="47.55" font-size="6.7" text-anchor="end">20</text>
<line x1="450.3" y1="68.9" x2="454.3" y2="68.9" stroke="#2a2a2a" stroke-width="0.9"/>
<text x="449.8" y="71.25" font-size="6.7" text-anchor="end">18</text>
<line x1="450.3" y1="92.6" x2="454.3" y2="92.6" stroke="#2a2a2a" stroke-width="0.9"/>
<text x="449.8" y="94.95" font-size="6.7" text-anchor="end">16</text>
<line x1="450.3" y1="116.3" x2="454.3" y2="116.3" stroke="#2a2a2a" stroke-width="0.9"/>
<text x="449.8" y="118.65" font-size="6.7" text-anchor="end">14</text>
<text x="436.1" y="63.8" font-size="7.7" text-anchor="middle" transform="rotate(-90 436.1 63.8)">% Rel Quant.</text>
<line x1="468.4" y1="116.3" x2="468.4" y2="120.5" stroke="#2a2a2a" stroke-width="0.9"/>
<text x="467.2" y="127.4" font-size="6.9" text-anchor="end" transform="rotate(-45 467.2 127.4)">HEALTHY</text>
<line x1="490.3" y1="116.3" x2="490.3" y2="120.5" stroke="#2a2a2a" stroke-width="0.9"/>
<text x="492.3" y="127" font-size="6.9" text-anchor="end" transform="rotate(-45 492.3 127)">BC NW</text>
<line x1="511.8" y1="116.3" x2="511.8" y2="120.5" stroke="#2a2a2a" stroke-width="0.9"/>
<text x="513.8" y="127" font-size="6.9" text-anchor="end" transform="rotate(-45 513.8 127)">BC OW</text>
<line x1="533.6" y1="116.3" x2="533.6" y2="120.5" stroke="#2a2a2a" stroke-width="0.9"/>
<text x="536.1" y="127" font-size="6.9" text-anchor="end" transform="rotate(-45 536.1 127)">BC OB</text>
<text x="517" y="106.2" font-size="6.55" text-anchor="middle">normal values</text>
<text x="510.6" y="114.2" font-size="6.55" text-anchor="middle">(9-18)</text>
<rect x="587.9" y="59.2" width="95.6" height="24.3" fill="#ebecec" stroke="#c9c9c9" stroke-width="0.6"/>
<circle cx="602.23" cy="46.01" r="2.12" fill="#2b2792"/>
<circle cx="596.97" cy="60.18" r="2.12" fill="#2b2792"/>
<circle cx="598.14" cy="60.18" r="2.12" fill="#2b2792"/>
<circle cx="599.31" cy="60.18" r="2.12" fill="#2b2792"/>
<circle cx="600.47" cy="60.18" r="2.12" fill="#2b2792"/>
<circle cx="601.64" cy="60.18" r="2.12" fill="#2b2792"/>
<circle cx="602.81" cy="60.18" r="2.12" fill="#2b2792"/>
<circle cx="603.98" cy="60.18" r="2.12" fill="#2b2792"/>
<circle cx="605.15" cy="60.18" r="2.12" fill="#2b2792"/>
<circle cx="606.31" cy="60.18" r="2.12" fill="#2b2792"/>
<circle cx="607.48" cy="60.18" r="2.12" fill="#2b2792"/>
<circle cx="597.85" cy="64.85" r="2.12" fill="#2b2792"/>
<circle cx="599.01" cy="64.85" r="2.12" fill="#2b2792"/>
<circle cx="600.18" cy="64.85" r="2.12" fill="#2b2792"/>
<circle cx="601.35" cy="64.85" r="2.12" fill="#2b2792"/>
<circle cx="602.52" cy="64.85" r="2.12" fill="#2b2792"/>
<circle cx="603.69" cy="64.85" r="2.12" fill="#2b2792"/>
<circle cx="604.85" cy="64.85" r="2.12" fill="#2b2792"/>
<circle cx="606.02" cy="64.85" r="2.12" fill="#2b2792"/>
<circle cx="606.9" cy="64.85" r="2.12" fill="#2b2792"/>
<circle cx="596.97" cy="69.66" r="2.12" fill="#2b2792"/>
<circle cx="598.14" cy="69.66" r="2.12" fill="#2b2792"/>
<circle cx="599.31" cy="69.66" r="2.12" fill="#2b2792"/>
<circle cx="600.47" cy="69.66" r="2.12" fill="#2b2792"/>
<circle cx="601.64" cy="69.66" r="2.12" fill="#2b2792"/>
<circle cx="602.81" cy="69.66" r="2.12" fill="#2b2792"/>
<circle cx="603.98" cy="69.66" r="2.12" fill="#2b2792"/>
<circle cx="605.15" cy="69.66" r="2.12" fill="#2b2792"/>
<circle cx="606.31" cy="69.66" r="2.12" fill="#2b2792"/>
<circle cx="607.48" cy="69.66" r="2.12" fill="#2b2792"/>
<circle cx="601.06" cy="74.48" r="2.12" fill="#2b2792"/>
<circle cx="603.39" cy="74.48" r="2.12" fill="#2b2792"/>
<circle cx="602.23" cy="79.15" r="2.12" fill="#2b2792"/>
<circle cx="624.12" cy="50.69" r="2.12" fill="#5cb83c"/>
<circle cx="622.66" cy="55.36" r="2.12" fill="#5cb83c"/>
<circle cx="625.58" cy="55.36" r="2.12" fill="#5cb83c"/>
<circle cx="620.62" cy="60.18" r="2.12" fill="#5cb83c"/>
<circle cx="622.08" cy="60.18" r="2.12" fill="#5cb83c"/>
<circle cx="623.54" cy="60.18" r="2.12" fill="#5cb83c"/>
<circle cx="625" cy="60.18" r="2.12" fill="#5cb83c"/>
<circle cx="626.46" cy="60.18" r="2.12" fill="#5cb83c"/>
<circle cx="627.63" cy="60.18" r="2.12" fill="#5cb83c"/>
<circle cx="619.16" cy="64.85" r="2.12" fill="#5cb83c"/>
<circle cx="620.62" cy="64.85" r="2.12" fill="#5cb83c"/>
<circle cx="622.08" cy="64.85" r="2.12" fill="#5cb83c"/>
<circle cx="623.54" cy="64.85" r="2.12" fill="#5cb83c"/>
<circle cx="625" cy="64.85" r="2.12" fill="#5cb83c"/>
<circle cx="626.46" cy="64.85" r="2.12" fill="#5cb83c"/>
<circle cx="627.92" cy="64.85" r="2.12" fill="#5cb83c"/>
<circle cx="629.09" cy="64.85" r="2.12" fill="#5cb83c"/>
<circle cx="620.04" cy="69.66" r="2.12" fill="#5cb83c"/>
<circle cx="621.5" cy="69.66" r="2.12" fill="#5cb83c"/>
<circle cx="622.96" cy="69.66" r="2.12" fill="#5cb83c"/>
<circle cx="624.42" cy="69.66" r="2.12" fill="#5cb83c"/>
<circle cx="625.88" cy="69.66" r="2.12" fill="#5cb83c"/>
<circle cx="627.34" cy="69.66" r="2.12" fill="#5cb83c"/>
<circle cx="628.5" cy="69.66" r="2.12" fill="#5cb83c"/>
<circle cx="624.12" cy="74.48" r="2.12" fill="#5cb83c"/>
<circle cx="645.88" cy="46.01" r="2.12" fill="#e8262b"/>
<circle cx="643.1" cy="55.36" r="2.12" fill="#e8262b"/>
<circle cx="648.5" cy="55.36" r="2.12" fill="#e8262b"/>
<circle cx="640.47" cy="60.18" r="2.12" fill="#e8262b"/>
<circle cx="645.88" cy="60.18" r="2.12" fill="#e8262b"/>
<circle cx="651.28" cy="60.18" r="2.12" fill="#e8262b"/>
<circle cx="643.1" cy="64.85" r="2.12" fill="#e8262b"/>
<circle cx="648.5" cy="64.85" r="2.12" fill="#e8262b"/>
<circle cx="640.47" cy="74.48" r="2.12" fill="#e8262b"/>
<circle cx="645.88" cy="74.48" r="2.12" fill="#e8262b"/>
<circle cx="651.28" cy="74.48" r="2.12" fill="#e8262b"/>
<circle cx="667.63" cy="50.69" r="2.12" fill="#111111"/>
<circle cx="662.37" cy="60.18" r="2.12" fill="#111111"/>
<circle cx="664.12" cy="60.18" r="2.12" fill="#111111"/>
<circle cx="665.88" cy="60.18" r="2.12" fill="#111111"/>
<circle cx="667.63" cy="60.18" r="2.12" fill="#111111"/>
<circle cx="669.38" cy="60.18" r="2.12" fill="#111111"/>
<circle cx="671.13" cy="60.18" r="2.12" fill="#111111"/>
<circle cx="672.88" cy="60.18" r="2.12" fill="#111111"/>
<circle cx="666.46" cy="64.85" r="2.12" fill="#111111"/>
<circle cx="668.8" cy="64.85" r="2.12" fill="#111111"/>
<circle cx="665.58" cy="69.66" r="2.12" fill="#111111"/>
<circle cx="667.63" cy="69.66" r="2.12" fill="#111111"/>
<circle cx="669.96" cy="69.66" r="2.12" fill="#111111"/>
<circle cx="667.63" cy="74.48" r="2.12" fill="#111111"/>
<text x="630" y="7.3" font-size="7.8" text-anchor="middle">11c-18:1</text>
<line x1="587.9" y1="21.6" x2="587.9" y2="117.15" stroke="#2a2a2a" stroke-width="1"/>
<line x1="587.45" y1="116.7" x2="682.8" y2="116.7" stroke="#2a2a2a" stroke-width="1"/>
<line x1="583.9" y1="22" x2="587.9" y2="22" stroke="#2a2a2a" stroke-width="0.9"/>
<text x="583.4" y="24.35" font-size="6.7" text-anchor="end">2.0</text>
<line x1="583.9" y1="45.67" x2="587.9" y2="45.67" stroke="#2a2a2a" stroke-width="0.9"/>
<text x="583.4" y="48.02" font-size="6.7" text-anchor="end">1.5</text>
<line x1="583.9" y1="69.35" x2="587.9" y2="69.35" stroke="#2a2a2a" stroke-width="0.9"/>
<text x="583.4" y="71.7" font-size="6.7" text-anchor="end">1.0</text>
<line x1="583.9" y1="93.03" x2="587.9" y2="93.03" stroke="#2a2a2a" stroke-width="0.9"/>
<text x="583.4" y="95.38" font-size="6.7" text-anchor="end">0.5</text>
<line x1="583.9" y1="116.7" x2="587.9" y2="116.7" stroke="#2a2a2a" stroke-width="0.9"/>
<text x="583.4" y="119.05" font-size="6.7" text-anchor="end">0.0</text>
<text x="570.1" y="69.9" font-size="7.7" text-anchor="middle" transform="rotate(-90 570.1 69.9)">% Rel Quant.</text>
<line x1="602.4" y1="116.7" x2="602.4" y2="120.9" stroke="#2a2a2a" stroke-width="0.9"/>
<text x="603.2" y="127.5" font-size="6.9" text-anchor="end" transform="rotate(-45 603.2 127.5)">HEALTHY</text>
<line x1="624.3" y1="116.7" x2="624.3" y2="120.9" stroke="#2a2a2a" stroke-width="0.9"/>
<text x="626.7" y="127" font-size="6.9" text-anchor="end" transform="rotate(-45 626.7 127)">BC NW</text>
<line x1="645.8" y1="116.7" x2="645.8" y2="120.9" stroke="#2a2a2a" stroke-width="0.9"/>
<text x="648.2" y="127" font-size="6.9" text-anchor="end" transform="rotate(-45 648.2 127)">BC OW</text>
<line x1="667.6" y1="116.7" x2="667.6" y2="120.9" stroke="#2a2a2a" stroke-width="0.9"/>
<text x="670.1" y="127" font-size="6.9" text-anchor="end" transform="rotate(-45 670.1 127)">BC OB</text>
<text x="653.2" y="90.8" font-size="6.55" text-anchor="middle">normal values</text>
<text x="650.7" y="98.6" font-size="6.55" text-anchor="middle">(0.7-1.3)</text>
<rect x="30.3" y="204.4" width="92.5" height="81.1" fill="#ebecec" stroke="#c9c9c9" stroke-width="0.6"/>
<circle cx="43.25" cy="210.33" r="2.12" fill="#2b2792"/>
<circle cx="43.25" cy="213.25" r="2.12" fill="#2b2792"/>
<circle cx="43.25" cy="219.09" r="2.12" fill="#2b2792"/>
<circle cx="43.25" cy="223.76" r="2.12" fill="#2b2792"/>
<circle cx="42.23" cy="232.23" r="2.12" fill="#2b2792"/>
<circle cx="44.27" cy="232.23" r="2.12" fill="#2b2792"/>
<circle cx="38.87" cy="238.8" r="2.12" fill="#2b2792"/>
<circle cx="41.06" cy="240.55" r="2.12" fill="#2b2792"/>
<circle cx="43.69" cy="240.55" r="2.12" fill="#2b2792"/>
<circle cx="45.44" cy="242.45" r="2.12" fill="#2b2792"/>
<circle cx="48.07" cy="242.45" r="2.12" fill="#2b2792"/>
<circle cx="41.06" cy="245.36" r="2.12" fill="#2b2792"/>
<circle cx="43.69" cy="245.36" r="2.12" fill="#2b2792"/>
<circle cx="43.25" cy="248.28" r="2.12" fill="#2b2792"/>
<circle cx="45.88" cy="248.28" r="2.12" fill="#2b2792"/>
<circle cx="41.06" cy="251.2" r="2.12" fill="#2b2792"/>
<circle cx="45.44" cy="251.2" r="2.12" fill="#2b2792"/>
<circle cx="48.36" cy="251.2" r="2.12" fill="#2b2792"/>
<circle cx="37.41" cy="253.1" r="2.12" fill="#2b2792"/>
<circle cx="39.6" cy="253.1" r="2.12" fill="#2b2792"/>
<circle cx="43.25" cy="253.1" r="2.12" fill="#2b2792"/>
<circle cx="42.23" cy="254.85" r="2.12" fill="#2b2792"/>
<circle cx="46.9" cy="254.85" r="2.12" fill="#2b2792"/>
<circle cx="43.25" cy="258.5" r="2.12" fill="#2b2792"/>
<circle cx="45.44" cy="258.5" r="2.12" fill="#2b2792"/>
<circle cx="40.33" cy="262.15" r="2.12" fill="#2b2792"/>
<circle cx="43.25" cy="262.15" r="2.12" fill="#2b2792"/>
<circle cx="46.17" cy="262.15" r="2.12" fill="#2b2792"/>
<circle cx="41.35" cy="266.53" r="2.12" fill="#2b2792"/>
<circle cx="44.27" cy="266.53" r="2.12" fill="#2b2792"/>
<circle cx="45.44" cy="268.72" r="2.12" fill="#2b2792"/>
<circle cx="43.25" cy="273.83" r="2.12" fill="#2b2792"/>
<circle cx="45.44" cy="273.83" r="2.12" fill="#2b2792"/>
<circle cx="41.79" cy="276.75" r="2.12" fill="#2b2792"/>
<circle cx="44.71" cy="276.75" r="2.12" fill="#2b2792"/>
<circle cx="46.9" cy="276.75" r="2.12" fill="#2b2792"/>
<circle cx="40.33" cy="279.96" r="2.12" fill="#2b2792"/>
<circle cx="43.98" cy="279.96" r="2.12" fill="#2b2792"/>
<circle cx="64.85" cy="218.8" r="2.12" fill="#5cb83c"/>
<circle cx="59.6" cy="223.47" r="2.12" fill="#5cb83c"/>
<circle cx="70.55" cy="223.47" r="2.12" fill="#5cb83c"/>
<circle cx="63.25" cy="225.22" r="2.12" fill="#5cb83c"/>
<circle cx="66.9" cy="233.25" r="2.12" fill="#5cb83c"/>
<circle cx="63.25" cy="234.42" r="2.12" fill="#5cb83c"/>
<circle cx="59.6" cy="238.8" r="2.12" fill="#5cb83c"/>
<circle cx="63.25" cy="240.55" r="2.12" fill="#5cb83c"/>
<circle cx="66.9" cy="241.72" r="2.12" fill="#5cb83c"/>
<circle cx="63.25" cy="246.09" r="2.12" fill="#5cb83c"/>
<circle cx="59.6" cy="249.74" r="2.12" fill="#5cb83c"/>
<circle cx="70.55" cy="249.74" r="2.12" fill="#5cb83c"/>
<circle cx="63.25" cy="253.39" r="2.12" fill="#5cb83c"/>
<circle cx="59.6" cy="254.42" r="2.12" fill="#5cb83c"/>
<circle cx="70.55" cy="257.04" r="2.12" fill="#5cb83c"/>
<circle cx="59.6" cy="259.96" r="2.12" fill="#5cb83c"/>
<circle cx="66.9" cy="259.96" r="2.12" fill="#5cb83c"/>
<circle cx="63.25" cy="262.45" r="2.12" fill="#5cb83c"/>
<circle cx="70.55" cy="263.91" r="2.12" fill="#5cb83c"/>
<circle cx="66.9" cy="266.24" r="2.12" fill="#5cb83c"/>
<circle cx="59.6" cy="267.55" r="2.12" fill="#5cb83c"/>
<circle cx="63.25" cy="267.55" r="2.12" fill="#5cb83c"/>
<circle cx="66.9" cy="273.39" r="2.12" fill="#5cb83c"/>
<circle cx="63.25" cy="276.75" r="2.12" fill="#5cb83c"/>
<circle cx="66.9" cy="279.23" r="2.12" fill="#5cb83c"/>
<circle cx="64.85" cy="292.08" r="2.12" fill="#5cb83c"/>
<circle cx="86.75" cy="220.26" r="2.12" fill="#e8262b"/>
<circle cx="86.75" cy="238.07" r="2.12" fill="#e8262b"/>
<circle cx="86.75" cy="243.91" r="2.12" fill="#e8262b"/>
<circle cx="81.64" cy="248.72" r="2.12" fill="#e8262b"/>
<circle cx="86.75" cy="251.93" r="2.12" fill="#e8262b"/>
<circle cx="81.64" cy="254.42" r="2.12" fill="#e8262b"/>
<circle cx="86.75" cy="257.04" r="2.12" fill="#e8262b"/>
<circle cx="81.64" cy="262.59" r="2.12" fill="#e8262b"/>
<circle cx="86.75" cy="262.59" r="2.12" fill="#e8262b"/>
<circle cx="92.15" cy="263.91" r="2.12" fill="#e8262b"/>
<circle cx="81.64" cy="267.55" r="2.12" fill="#e8262b"/>
<circle cx="108.5" cy="234.12" r="2.12" fill="#111111"/>
<circle cx="108.5" cy="238.8" r="2.12" fill="#111111"/>
<circle cx="108.5" cy="243.91" r="2.12" fill="#111111"/>
<circle cx="103.39" cy="254.12" r="2.12" fill="#111111"/>
<circle cx="114.05" cy="255.58" r="2.12" fill="#111111"/>
<circle cx="105.29" cy="256.61" r="2.12" fill="#111111"/>
<circle cx="111.86" cy="256.61" r="2.12" fill="#111111"/>
<circle cx="108.5" cy="258.07" r="2.12" fill="#111111"/>
<circle cx="109.96" cy="258.07" r="2.12" fill="#111111"/>
<circle cx="108.5" cy="268.72" r="2.12" fill="#111111"/>
<circle cx="107.92" cy="275.29" r="2.12" fill="#111111"/>
<circle cx="109.96" cy="278.21" r="2.12" fill="#111111"/>
<circle cx="107.48" cy="281.86" r="2.12" fill="#111111"/>
<text x="68.9" y="184.8" font-size="7.8" text-anchor="middle">C18:2 omega 6</text>
<line x1="28.2" y1="204.4" x2="28.2" y2="299.55" stroke="#2a2a2a" stroke-width="1"/>
<line x1="27.75" y1="299.1" x2="123.2" y2="299.1" stroke="#2a2a2a" stroke-width="1"/>
<line x1="24.2" y1="204.8" x2="28.2" y2="204.8" stroke="#2a2a2a" stroke-width="0.9"/>
<text x="23.7" y="207.15" font-size="6.7" text-anchor="end">16</text>
<line x1="24.2" y1="228.38" x2="28.2" y2="228.38" stroke="#2a2a2a" stroke-width="0.9"/>
<text x="23.7" y="230.72" font-size="6.7" text-anchor="end">14</text>
<line x1="24.2" y1="251.95" x2="28.2" y2="251.95" stroke="#2a2a2a" stroke-width="0.9"/>
<text x="23.7" y="254.3" font-size="6.7" text-anchor="end">12</text>
<line x1="24.2" y1="275.53" x2="28.2" y2="275.53" stroke="#2a2a2a" stroke-width="0.9"/>
<text x="23.7" y="277.88" font-size="6.7" text-anchor="end">10</text>
<line x1="24.2" y1="299.1" x2="28.2" y2="299.1" stroke="#2a2a2a" stroke-width="0.9"/>
<text x="23.7" y="301.45" font-size="6.7" text-anchor="end">8</text>
<text x="8.3" y="243.9" font-size="7.7" text-anchor="middle" transform="rotate(-90 8.3 243.9)">% Rel Quant.</text>
<line x1="43.3" y1="299.1" x2="43.3" y2="303.3" stroke="#2a2a2a" stroke-width="0.9"/>
<text x="21.5" y="318.2" font-size="7" text-anchor="end" transform="rotate(-45 21.5 318.2)">H</text>
<text x="43.9" y="311.4" font-size="7" text-anchor="end" transform="rotate(-45 43.9 311.4)">EALT HY</text>
<line x1="65" y1="299.1" x2="65" y2="303.3" stroke="#2a2a2a" stroke-width="0.9"/>
<text x="67" y="310.3" font-size="7" text-anchor="end" transform="rotate(-45 67 310.3)">BC NW</text>
<line x1="86.7" y1="299.1" x2="86.7" y2="303.3" stroke="#2a2a2a" stroke-width="0.9"/>
<text x="88.9" y="310.3" font-size="7" text-anchor="end" transform="rotate(-45 88.9 310.3)">BC OW</text>
<line x1="108.3" y1="299.1" x2="108.3" y2="303.3" stroke="#2a2a2a" stroke-width="0.9"/>
<text x="111.4" y="310.3" font-size="7" text-anchor="end" transform="rotate(-45 111.4 310.3)">BC OB</text>
<text x="90.3" y="290.6" font-size="6.55" text-anchor="middle">normal values</text>
<text x="84.1" y="297.9" font-size="6.55" text-anchor="middle">(9-16)</text>
<rect x="170.3" y="239.2" width="96.5" height="16.7" fill="#ebecec" stroke="#c9c9c9" stroke-width="0.6"/>
<circle cx="184.81" cy="232.96" r="2.12" fill="#2b2792"/>
<circle cx="183.06" cy="237.63" r="2.12" fill="#2b2792"/>
<circle cx="185.98" cy="237.63" r="2.12" fill="#2b2792"/>
<circle cx="184.23" cy="240.26" r="2.12" fill="#2b2792"/>
<circle cx="186.71" cy="240.26" r="2.12" fill="#2b2792"/>
<circle cx="182.33" cy="242.45" r="2.12" fill="#2b2792"/>
<circle cx="184.81" cy="242.45" r="2.12" fill="#2b2792"/>
<circle cx="179.85" cy="244.93" r="2.12" fill="#2b2792"/>
<circle cx="182.04" cy="244.93" r="2.12" fill="#2b2792"/>
<circle cx="184.52" cy="244.93" r="2.12" fill="#2b2792"/>
<circle cx="187" cy="244.93" r="2.12" fill="#2b2792"/>
<circle cx="182.33" cy="246.82" r="2.12" fill="#2b2792"/>
<circle cx="185.25" cy="246.82" r="2.12" fill="#2b2792"/>
<circle cx="187.73" cy="246.82" r="2.12" fill="#2b2792"/>
<circle cx="190.07" cy="246.82" r="2.12" fill="#2b2792"/>
<circle cx="181.6" cy="249.31" r="2.12" fill="#2b2792"/>
<circle cx="184.23" cy="249.31" r="2.12" fill="#2b2792"/>
<circle cx="186.71" cy="249.31" r="2.12" fill="#2b2792"/>
<circle cx="183.35" cy="251.93" r="2.12" fill="#2b2792"/>
<circle cx="185.98" cy="251.93" r="2.12" fill="#2b2792"/>
<circle cx="188.61" cy="251.93" r="2.12" fill="#2b2792"/>
<circle cx="182.33" cy="254.56" r="2.12" fill="#2b2792"/>
<circle cx="184.81" cy="254.56" r="2.12" fill="#2b2792"/>
<circle cx="187.44" cy="254.56" r="2.12" fill="#2b2792"/>
<circle cx="184.23" cy="257.04" r="2.12" fill="#2b2792"/>
<circle cx="186.71" cy="257.04" r="2.12" fill="#2b2792"/>
<circle cx="182.33" cy="259.23" r="2.12" fill="#2b2792"/>
<circle cx="184.81" cy="259.23" r="2.12" fill="#2b2792"/>
<circle cx="187.44" cy="259.23" r="2.12" fill="#2b2792"/>
<circle cx="183.79" cy="261.86" r="2.12" fill="#2b2792"/>
<circle cx="186.27" cy="261.86" r="2.12" fill="#2b2792"/>
<circle cx="182.33" cy="264.34" r="2.12" fill="#2b2792"/>
<circle cx="185.25" cy="264.34" r="2.12" fill="#2b2792"/>
<circle cx="184.52" cy="266.53" r="2.12" fill="#2b2792"/>
<circle cx="187.44" cy="266.53" r="2.12" fill="#2b2792"/>
<circle cx="185.69" cy="268.72" r="2.12" fill="#2b2792"/>
<circle cx="184.23" cy="270.91" r="2.12" fill="#2b2792"/>
<circle cx="206.71" cy="230.47" r="2.12" fill="#5cb83c"/>
<circle cx="205.69" cy="233.25" r="2.12" fill="#5cb83c"/>
<circle cx="207.88" cy="233.25" r="2.12" fill="#5cb83c"/>
<circle cx="205.69" cy="240.26" r="2.12" fill="#5cb83c"/>
<circle cx="207.88" cy="240.26" r="2.12" fill="#5cb83c"/>
<circle cx="205.69" cy="244.64" r="2.12" fill="#5cb83c"/>
<circle cx="207.88" cy="244.64" r="2.12" fill="#5cb83c"/>
<circle cx="206.71" cy="247.26" r="2.12" fill="#5cb83c"/>
<circle cx="205.69" cy="249.74" r="2.12" fill="#5cb83c"/>
<circle cx="208.61" cy="249.74" r="2.12" fill="#5cb83c"/>
<circle cx="204.66" cy="251.93" r="2.12" fill="#5cb83c"/>
<circle cx="207.15" cy="251.93" r="2.12" fill="#5cb83c"/>
<circle cx="209.63" cy="251.93" r="2.12" fill="#5cb83c"/>
<circle cx="201.31" cy="254.42" r="2.12" fill="#5cb83c"/>
<circle cx="203.5" cy="254.42" r="2.12" fill="#5cb83c"/>
<circle cx="205.69" cy="254.42" r="2.12" fill="#5cb83c"/>
<circle cx="207.88" cy="254.42" r="2.12" fill="#5cb83c"/>
<circle cx="210.07" cy="254.42" r="2.12" fill="#5cb83c"/>
<circle cx="212.26" cy="254.42" r="2.12" fill="#5cb83c"/>
<circle cx="205.69" cy="256.61" r="2.12" fill="#5cb83c"/>
<circle cx="208.61" cy="256.61" r="2.12" fill="#5cb83c"/>
<circle cx="206.71" cy="258.8" r="2.12" fill="#5cb83c"/>
<circle cx="205.69" cy="261.13" r="2.12" fill="#5cb83c"/>
<circle cx="226.56" cy="234.71" r="2.12" fill="#e8262b"/>
<circle cx="230.07" cy="234.71" r="2.12" fill="#e8262b"/>
<circle cx="223.2" cy="237.77" r="2.12" fill="#e8262b"/>
<circle cx="234.15" cy="237.77" r="2.12" fill="#e8262b"/>
<circle cx="228.31" cy="238.5" r="2.12" fill="#e8262b"/>
<circle cx="226.56" cy="240.26" r="2.12" fill="#e8262b"/>
<circle cx="230.07" cy="240.26" r="2.12" fill="#e8262b"/>
<circle cx="230.07" cy="249.45" r="2.12" fill="#e8262b"/>
<circle cx="223.2" cy="251.64" r="2.12" fill="#e8262b"/>
<circle cx="234.15" cy="251.64" r="2.12" fill="#e8262b"/>
<circle cx="230.07" cy="254.12" r="2.12" fill="#e8262b"/>
<circle cx="226.56" cy="256.61" r="2.12" fill="#e8262b"/>
<circle cx="250.21" cy="232.96" r="2.12" fill="#111111"/>
<circle cx="248.46" cy="237.63" r="2.12" fill="#111111"/>
<circle cx="251.96" cy="237.63" r="2.12" fill="#111111"/>
<circle cx="245.1" cy="242.15" r="2.12" fill="#111111"/>
<circle cx="255.61" cy="242.15" r="2.12" fill="#111111"/>
<circle cx="248.46" cy="244.93" r="2.12" fill="#111111"/>
<circle cx="251.96" cy="244.93" r="2.12" fill="#111111"/>
<circle cx="245.1" cy="249.45" r="2.12" fill="#111111"/>
<circle cx="255.61" cy="249.45" r="2.12" fill="#111111"/>
<circle cx="251.96" cy="251.64" r="2.12" fill="#111111"/>
<circle cx="248.46" cy="254.42" r="2.12" fill="#111111"/>
<circle cx="248.46" cy="258.8" r="2.12" fill="#111111"/>
<circle cx="251.96" cy="258.8" r="2.12" fill="#111111"/>
<text x="211" y="184.8" font-size="7.8" text-anchor="middle">20:3 omega 6</text>
<line x1="170.3" y1="204.4" x2="170.3" y2="299.55" stroke="#2a2a2a" stroke-width="1"/>
<line x1="169.85" y1="299.1" x2="264.8" y2="299.1" stroke="#2a2a2a" stroke-width="1"/>
<line x1="166.3" y1="204.8" x2="170.3" y2="204.8" stroke="#2a2a2a" stroke-width="0.9"/>
<text x="165.8" y="207.15" font-size="6.7" text-anchor="end">4</text>
<line x1="166.3" y1="228.38" x2="170.3" y2="228.38" stroke="#2a2a2a" stroke-width="0.9"/>
<text x="165.8" y="230.72" font-size="6.7" text-anchor="end">3</text>
<line x1="166.3" y1="251.95" x2="170.3" y2="251.95" stroke="#2a2a2a" stroke-width="0.9"/>
<text x="165.8" y="254.3" font-size="6.7" text-anchor="end">2</text>
<line x1="166.3" y1="275.53" x2="170.3" y2="275.53" stroke="#2a2a2a" stroke-width="0.9"/>
<text x="165.8" y="277.88" font-size="6.7" text-anchor="end">1</text>
<line x1="166.3" y1="299.1" x2="170.3" y2="299.1" stroke="#2a2a2a" stroke-width="0.9"/>
<text x="165.8" y="301.45" font-size="6.7" text-anchor="end">0</text>
<text x="152.9" y="243.9" font-size="7.7" text-anchor="middle" transform="rotate(-90 152.9 243.9)">% Rel Quant.</text>
<line x1="184.4" y1="299.1" x2="184.4" y2="303.3" stroke="#2a2a2a" stroke-width="0.9"/>
<text x="186" y="311.4" font-size="6.5" text-anchor="end" transform="rotate(-45 186 311.4)">HEALTH Y</text>
<line x1="206.5" y1="299.1" x2="206.5" y2="303.3" stroke="#2a2a2a" stroke-width="0.9"/>
<text x="209.6" y="310.3" font-size="6.5" text-anchor="end" transform="rotate(-45 209.6 310.3)">BC NW</text>
<line x1="228.2" y1="299.1" x2="228.2" y2="303.3" stroke="#2a2a2a" stroke-width="0.9"/>
<text x="231" y="310.3" font-size="6.5" text-anchor="end" transform="rotate(-45 231 310.3)">BC OW</text>
<line x1="250.2" y1="299.1" x2="250.2" y2="303.3" stroke="#2a2a2a" stroke-width="0.9"/>
<text x="253.1" y="310.3" font-size="6.5" text-anchor="end" transform="rotate(-45 253.1 310.3)">BC OB</text>
<text x="226.1" y="269.8" font-size="6.55" text-anchor="middle">normal values</text>
<text x="223.5" y="277.5" font-size="6.55" text-anchor="middle">(1.9-2.4)</text>
<path d="M183.1 222 V217.2 H226.6 V222" fill="none" stroke="#2a2a2a" stroke-width="0.95"/>
<path d="M202.5 210.68 L202.5 214.92 M200.66 211.74 L204.34 213.86 M204.34 211.74 L200.66 213.86" stroke="#1a1a1a" stroke-width="0.95" fill="none"/>
<rect x="312.8" y="264.6" width="95" height="20.8" fill="#ebecec" stroke="#c9c9c9" stroke-width="0.6"/>
<circle cx="327.52" cy="236.39" r="2.12" fill="#2b2792"/>
<circle cx="326.35" cy="238.72" r="2.12" fill="#2b2792"/>
<circle cx="328.69" cy="238.72" r="2.12" fill="#2b2792"/>
<circle cx="327.52" cy="241.64" r="2.12" fill="#2b2792"/>
<circle cx="329.71" cy="241.64" r="2.12" fill="#2b2792"/>
<circle cx="326.06" cy="244.12" r="2.12" fill="#2b2792"/>
<circle cx="328.69" cy="244.12" r="2.12" fill="#2b2792"/>
<circle cx="325.33" cy="247.04" r="2.12" fill="#2b2792"/>
<circle cx="327.81" cy="247.04" r="2.12" fill="#2b2792"/>
<circle cx="326.79" cy="249.23" r="2.12" fill="#2b2792"/>
<circle cx="329.71" cy="249.23" r="2.12" fill="#2b2792"/>
<circle cx="324.6" cy="251.42" r="2.12" fill="#2b2792"/>
<circle cx="327.52" cy="251.42" r="2.12" fill="#2b2792"/>
<circle cx="330.44" cy="251.42" r="2.12" fill="#2b2792"/>
<circle cx="322.85" cy="253.61" r="2.12" fill="#2b2792"/>
<circle cx="325.77" cy="253.61" r="2.12" fill="#2b2792"/>
<circle cx="328.69" cy="253.61" r="2.12" fill="#2b2792"/>
<circle cx="331.31" cy="253.61" r="2.12" fill="#2b2792"/>
<circle cx="325.33" cy="256.24" r="2.12" fill="#2b2792"/>
<circle cx="328.25" cy="256.24" r="2.12" fill="#2b2792"/>
<circle cx="326.79" cy="258.72" r="2.12" fill="#2b2792"/>
<circle cx="329.71" cy="258.72" r="2.12" fill="#2b2792"/>
<circle cx="323.87" cy="260.62" r="2.12" fill="#2b2792"/>
<circle cx="326.35" cy="260.62" r="2.12" fill="#2b2792"/>
<circle cx="328.98" cy="260.62" r="2.12" fill="#2b2792"/>
<circle cx="331.9" cy="260.62" r="2.12" fill="#2b2792"/>
<circle cx="321.68" cy="263.1" r="2.12" fill="#2b2792"/>
<circle cx="324.16" cy="263.1" r="2.12" fill="#2b2792"/>
<circle cx="326.64" cy="263.1" r="2.12" fill="#2b2792"/>
<circle cx="329.12" cy="263.1" r="2.12" fill="#2b2792"/>
<circle cx="331.61" cy="263.1" r="2.12" fill="#2b2792"/>
<circle cx="333.36" cy="263.1" r="2.12" fill="#2b2792"/>
<circle cx="324.6" cy="265.29" r="2.12" fill="#2b2792"/>
<circle cx="327.52" cy="265.29" r="2.12" fill="#2b2792"/>
<circle cx="330.44" cy="265.29" r="2.12" fill="#2b2792"/>
<circle cx="328.25" cy="276.97" r="2.12" fill="#2b2792"/>
<circle cx="326.35" cy="280.18" r="2.12" fill="#2b2792"/>
<circle cx="348.98" cy="225.88" r="2.12" fill="#5cb83c"/>
<circle cx="348.25" cy="228.36" r="2.12" fill="#5cb83c"/>
<circle cx="349.71" cy="230.99" r="2.12" fill="#5cb83c"/>
<circle cx="348.98" cy="236.82" r="2.12" fill="#5cb83c"/>
<circle cx="346.5" cy="239.01" r="2.12" fill="#5cb83c"/>
<circle cx="348.98" cy="239.01" r="2.12" fill="#5cb83c"/>
<circle cx="351.61" cy="239.01" r="2.12" fill="#5cb83c"/>
<circle cx="347.66" cy="241.64" r="2.12" fill="#5cb83c"/>
<circle cx="350.58" cy="241.64" r="2.12" fill="#5cb83c"/>
<circle cx="346.5" cy="244.12" r="2.12" fill="#5cb83c"/>
<circle cx="348.98" cy="244.12" r="2.12" fill="#5cb83c"/>
<circle cx="351.61" cy="244.12" r="2.12" fill="#5cb83c"/>
<circle cx="348.25" cy="246.02" r="2.12" fill="#5cb83c"/>
<circle cx="350.88" cy="246.02" r="2.12" fill="#5cb83c"/>
<circle cx="343.87" cy="248.07" r="2.12" fill="#5cb83c"/>
<circle cx="346.5" cy="248.07" r="2.12" fill="#5cb83c"/>
<circle cx="348.98" cy="248.07" r="2.12" fill="#5cb83c"/>
<circle cx="351.61" cy="248.07" r="2.12" fill="#5cb83c"/>
<circle cx="354.23" cy="248.07" r="2.12" fill="#5cb83c"/>
<circle cx="347.66" cy="250.26" r="2.12" fill="#5cb83c"/>
<circle cx="350.58" cy="250.26" r="2.12" fill="#5cb83c"/>
<circle cx="348.98" cy="252.88" r="2.12" fill="#5cb83c"/>
<circle cx="348.98" cy="255.51" r="2.12" fill="#5cb83c"/>
<circle cx="348.98" cy="261.64" r="2.12" fill="#5cb83c"/>
<circle cx="348.98" cy="272.88" r="2.12" fill="#5cb83c"/>
<circle cx="369.56" cy="239.01" r="2.12" fill="#e8262b"/>
<circle cx="372.48" cy="239.01" r="2.12" fill="#e8262b"/>
<circle cx="365.47" cy="242.23" r="2.12" fill="#e8262b"/>
<circle cx="369.12" cy="243.39" r="2.12" fill="#e8262b"/>
<circle cx="365.47" cy="246.31" r="2.12" fill="#e8262b"/>
<circle cx="369.12" cy="246.31" r="2.12" fill="#e8262b"/>
<circle cx="372.77" cy="246.31" r="2.12" fill="#e8262b"/>
<circle cx="376.42" cy="246.31" r="2.12" fill="#e8262b"/>
<circle cx="369.12" cy="252.45" r="2.12" fill="#e8262b"/>
<circle cx="372.77" cy="253.61" r="2.12" fill="#e8262b"/>
<circle cx="376.42" cy="253.61" r="2.12" fill="#e8262b"/>
<circle cx="365.47" cy="256.09" r="2.12" fill="#e8262b"/>
<circle cx="390" cy="235.8" r="2.12" fill="#111111"/>
<circle cx="395.4" cy="237.55" r="2.12" fill="#111111"/>
<circle cx="391.02" cy="240.18" r="2.12" fill="#111111"/>
<circle cx="398.03" cy="241.2" r="2.12" fill="#111111"/>
<circle cx="393.5" cy="242.23" r="2.12" fill="#111111"/>
<circle cx="387.37" cy="244.42" r="2.12" fill="#111111"/>
<circle cx="390" cy="244.42" r="2.12" fill="#111111"/>
<circle cx="398.03" cy="244.42" r="2.12" fill="#111111"/>
<circle cx="392.77" cy="246.31" r="2.12" fill="#111111"/>
<circle cx="395.4" cy="246.31" r="2.12" fill="#111111"/>
<circle cx="390.29" cy="247.77" r="2.12" fill="#111111"/>
<circle cx="395.4" cy="250.26" r="2.12" fill="#111111"/>
<circle cx="392.77" cy="252.59" r="2.12" fill="#111111"/>
<circle cx="392.77" cy="272.88" r="2.12" fill="#111111"/>
<text x="360" y="183.4" font-size="7.8" text-anchor="middle">20:4 omega 6</text>
<line x1="312.8" y1="204.4" x2="312.8" y2="299.35" stroke="#2a2a2a" stroke-width="1"/>
<line x1="312.35" y1="298.9" x2="407.9" y2="298.9" stroke="#2a2a2a" stroke-width="1"/>
<line x1="308.8" y1="204.8" x2="312.8" y2="204.8" stroke="#2a2a2a" stroke-width="0.9"/>
<text x="308.3" y="207.15" font-size="6.7" text-anchor="end">30</text>
<line x1="308.8" y1="228.32" x2="312.8" y2="228.32" stroke="#2a2a2a" stroke-width="0.9"/>
<text x="308.3" y="230.67" font-size="6.7" text-anchor="end">25</text>
<line x1="308.8" y1="251.85" x2="312.8" y2="251.85" stroke="#2a2a2a" stroke-width="0.9"/>
<text x="308.3" y="254.2" font-size="6.7" text-anchor="end">20</text>
<line x1="308.8" y1="275.38" x2="312.8" y2="275.38" stroke="#2a2a2a" stroke-width="0.9"/>
<text x="308.3" y="277.73" font-size="6.7" text-anchor="end">15</text>
<line x1="308.8" y1="298.9" x2="312.8" y2="298.9" stroke="#2a2a2a" stroke-width="0.9"/>
<text x="308.3" y="301.25" font-size="6.7" text-anchor="end">10</text>
<text x="295" y="241.8" font-size="7.7" text-anchor="middle" transform="rotate(-90 295 241.8)">% Rel Quant.</text>
<line x1="327.1" y1="298.9" x2="327.1" y2="303.1" stroke="#2a2a2a" stroke-width="0.9"/>
<text x="329.6" y="311.6" font-size="6.5" text-anchor="end" transform="rotate(-45 329.6 311.6)">HEALTHY</text>
<line x1="348.8" y1="298.9" x2="348.8" y2="303.1" stroke="#2a2a2a" stroke-width="0.9"/>
<text x="354.7" y="310.5" font-size="6.5" text-anchor="end" transform="rotate(-45 354.7 310.5)">BC NW</text>
<line x1="370.5" y1="298.9" x2="370.5" y2="303.1" stroke="#2a2a2a" stroke-width="0.9"/>
<text x="376.2" y="310.5" font-size="6.5" text-anchor="end" transform="rotate(-45 376.2 310.5)">BC OW</text>
<line x1="392.5" y1="298.9" x2="392.5" y2="303.1" stroke="#2a2a2a" stroke-width="0.9"/>
<text x="398.3" y="310.5" font-size="6.5" text-anchor="end" transform="rotate(-45 398.3 310.5)">BC OB</text>
<text x="379.3" y="289.8" font-size="6.55" text-anchor="middle">normal values</text>
<text x="375.3" y="297.4" font-size="6.55" text-anchor="middle">(13-17)</text>
<path d="M320.2 204 V196.4 H388.8 V204.3" fill="none" stroke="#2a2a2a" stroke-width="0.95"/>
<path d="M346.1 188.98 L346.1 193.22 M344.26 190.04 L347.94 192.16 M347.94 190.04 L344.26 192.16" stroke="#1a1a1a" stroke-width="0.95" fill="none"/>
<path d="M351.3 188.98 L351.3 193.22 M349.46 190.04 L353.14 192.16 M353.14 190.04 L349.46 192.16" stroke="#1a1a1a" stroke-width="0.95" fill="none"/>
<path d="M320.2 210.5 V206.6 H369.9 V210.5" fill="none" stroke="#2a2a2a" stroke-width="0.95"/>
<path d="M342.4 200.68 L342.4 204.92 M340.56 201.74 L344.24 203.86 M344.24 201.74 L340.56 203.86" stroke="#1a1a1a" stroke-width="0.95" fill="none"/>
<path d="M322.4 223.2 V218.3 H344.6 V223.2" fill="none" stroke="#2a2a2a" stroke-width="0.95"/>
<path d="M328.6 210.88 L328.6 215.12 M326.76 211.94 L330.44 214.06 M330.44 211.94 L326.76 214.06" stroke="#1a1a1a" stroke-width="0.95" fill="none"/>
<path d="M333.8 210.88 L333.8 215.12 M331.96 211.94 L335.64 214.06 M335.64 211.94 L331.96 214.06" stroke="#1a1a1a" stroke-width="0.95" fill="none"/>
<path d="M339 210.88 L339 215.12 M337.16 211.94 L340.84 214.06 M340.84 211.94 L337.16 214.06" stroke="#1a1a1a" stroke-width="0.95" fill="none"/>
<rect x="454.5" y="270.4" width="95.9" height="15" fill="#ebecec" stroke="#c9c9c9" stroke-width="0.6"/>
<circle cx="468.96" cy="207.63" r="2.12" fill="#2b2792"/>
<circle cx="468.96" cy="248.5" r="2.12" fill="#2b2792"/>
<circle cx="468.96" cy="260.91" r="2.12" fill="#2b2792"/>
<circle cx="464.87" cy="264.27" r="2.12" fill="#2b2792"/>
<circle cx="467.35" cy="264.27" r="2.12" fill="#2b2792"/>
<circle cx="470.71" cy="264.27" r="2.12" fill="#2b2792"/>
<circle cx="472.9" cy="264.27" r="2.12" fill="#2b2792"/>
<circle cx="466.33" cy="267.48" r="2.12" fill="#2b2792"/>
<circle cx="468.96" cy="267.48" r="2.12" fill="#2b2792"/>
<circle cx="473.63" cy="267.48" r="2.12" fill="#2b2792"/>
<circle cx="465.6" cy="270.4" r="2.12" fill="#2b2792"/>
<circle cx="468.52" cy="270.4" r="2.12" fill="#2b2792"/>
<circle cx="471.44" cy="270.4" r="2.12" fill="#2b2792"/>
<circle cx="463.41" cy="273.61" r="2.12" fill="#2b2792"/>
<circle cx="465.6" cy="273.61" r="2.12" fill="#2b2792"/>
<circle cx="467.79" cy="273.61" r="2.12" fill="#2b2792"/>
<circle cx="469.98" cy="273.61" r="2.12" fill="#2b2792"/>
<circle cx="472.17" cy="273.61" r="2.12" fill="#2b2792"/>
<circle cx="474.36" cy="273.61" r="2.12" fill="#2b2792"/>
<circle cx="465.6" cy="276.68" r="2.12" fill="#2b2792"/>
<circle cx="468.23" cy="276.68" r="2.12" fill="#2b2792"/>
<circle cx="470.85" cy="276.68" r="2.12" fill="#2b2792"/>
<circle cx="472.9" cy="276.68" r="2.12" fill="#2b2792"/>
<circle cx="464.87" cy="279.89" r="2.12" fill="#2b2792"/>
<circle cx="467.35" cy="279.89" r="2.12" fill="#2b2792"/>
<circle cx="469.98" cy="279.89" r="2.12" fill="#2b2792"/>
<circle cx="472.61" cy="279.89" r="2.12" fill="#2b2792"/>
<circle cx="464.14" cy="283.1" r="2.12" fill="#2b2792"/>
<circle cx="466.33" cy="283.1" r="2.12" fill="#2b2792"/>
<circle cx="468.52" cy="283.1" r="2.12" fill="#2b2792"/>
<circle cx="470.71" cy="283.1" r="2.12" fill="#2b2792"/>
<circle cx="472.9" cy="283.1" r="2.12" fill="#2b2792"/>
<circle cx="470.71" cy="286.17" r="2.12" fill="#2b2792"/>
<circle cx="473.19" cy="286.17" r="2.12" fill="#2b2792"/>
<circle cx="490.85" cy="248.5" r="2.12" fill="#5cb83c"/>
<circle cx="490.85" cy="254.78" r="2.12" fill="#5cb83c"/>
<circle cx="490.85" cy="270.4" r="2.12" fill="#5cb83c"/>
<circle cx="489.25" cy="273.61" r="2.12" fill="#5cb83c"/>
<circle cx="492.61" cy="273.61" r="2.12" fill="#5cb83c"/>
<circle cx="486.77" cy="279.89" r="2.12" fill="#5cb83c"/>
<circle cx="488.66" cy="279.89" r="2.12" fill="#5cb83c"/>
<circle cx="490.71" cy="279.89" r="2.12" fill="#5cb83c"/>
<circle cx="492.75" cy="279.89" r="2.12" fill="#5cb83c"/>
<circle cx="494.8" cy="279.89" r="2.12" fill="#5cb83c"/>
<circle cx="484.87" cy="283.1" r="2.12" fill="#5cb83c"/>
<circle cx="486.77" cy="283.1" r="2.12" fill="#5cb83c"/>
<circle cx="488.66" cy="283.1" r="2.12" fill="#5cb83c"/>
<circle cx="490.71" cy="283.1" r="2.12" fill="#5cb83c"/>
<circle cx="492.75" cy="283.1" r="2.12" fill="#5cb83c"/>
<circle cx="494.8" cy="283.1" r="2.12" fill="#5cb83c"/>
<circle cx="496.55" cy="283.1" r="2.12" fill="#5cb83c"/>
<circle cx="486.77" cy="286.17" r="2.12" fill="#5cb83c"/>
<circle cx="488.96" cy="286.17" r="2.12" fill="#5cb83c"/>
<circle cx="491.15" cy="286.17" r="2.12" fill="#5cb83c"/>
<circle cx="493.34" cy="286.17" r="2.12" fill="#5cb83c"/>
<circle cx="494.8" cy="286.17" r="2.12" fill="#5cb83c"/>
<circle cx="493.04" cy="289.38" r="2.12" fill="#5cb83c"/>
<circle cx="512.61" cy="257.7" r="2.12" fill="#e8262b"/>
<circle cx="518.15" cy="267.48" r="2.12" fill="#e8262b"/>
<circle cx="510.12" cy="270.4" r="2.12" fill="#e8262b"/>
<circle cx="512.61" cy="270.4" r="2.12" fill="#e8262b"/>
<circle cx="515.23" cy="270.4" r="2.12" fill="#e8262b"/>
<circle cx="510.12" cy="276.68" r="2.12" fill="#e8262b"/>
<circle cx="518.15" cy="276.68" r="2.12" fill="#e8262b"/>
<circle cx="507.2" cy="279.89" r="2.12" fill="#e8262b"/>
<circle cx="512.61" cy="279.89" r="2.12" fill="#e8262b"/>
<circle cx="515.23" cy="279.89" r="2.12" fill="#e8262b"/>
<circle cx="518.15" cy="283.1" r="2.12" fill="#e8262b"/>
<circle cx="534.21" cy="257.7" r="2.12" fill="#111111"/>
<circle cx="532.75" cy="273.61" r="2.12" fill="#111111"/>
<circle cx="534.94" cy="273.61" r="2.12" fill="#111111"/>
<circle cx="537.42" cy="273.61" r="2.12" fill="#111111"/>
<circle cx="530.56" cy="276.68" r="2.12" fill="#111111"/>
<circle cx="529.1" cy="279.89" r="2.12" fill="#111111"/>
<circle cx="531.29" cy="279.89" r="2.12" fill="#111111"/>
<circle cx="537.86" cy="279.89" r="2.12" fill="#111111"/>
<circle cx="540.05" cy="279.89" r="2.12" fill="#111111"/>
<circle cx="529.83" cy="283.1" r="2.12" fill="#111111"/>
<circle cx="532.02" cy="283.1" r="2.12" fill="#111111"/>
<circle cx="534.21" cy="283.1" r="2.12" fill="#111111"/>
<circle cx="536.4" cy="283.1" r="2.12" fill="#111111"/>
<circle cx="538.59" cy="283.1" r="2.12" fill="#111111"/>
<circle cx="540.78" cy="283.1" r="2.12" fill="#111111"/>
<circle cx="529.1" cy="286.17" r="2.12" fill="#111111"/>
<circle cx="537.86" cy="286.17" r="2.12" fill="#111111"/>
<text x="494" y="184.2" font-size="7.8" text-anchor="middle">20:5 omega 3</text>
<line x1="454.5" y1="204" x2="454.5" y2="299.35" stroke="#2a2a2a" stroke-width="1"/>
<line x1="454.05" y1="298.9" x2="548.6" y2="298.9" stroke="#2a2a2a" stroke-width="1"/>
<line x1="450.5" y1="204.4" x2="454.5" y2="204.4" stroke="#2a2a2a" stroke-width="0.9"/>
<text x="450" y="206.75" font-size="6.7" text-anchor="end">3</text>
<line x1="450.5" y1="235.9" x2="454.5" y2="235.9" stroke="#2a2a2a" stroke-width="0.9"/>
<text x="450" y="238.25" font-size="6.7" text-anchor="end">2</text>
<line x1="450.5" y1="267.4" x2="454.5" y2="267.4" stroke="#2a2a2a" stroke-width="0.9"/>
<text x="450" y="269.75" font-size="6.7" text-anchor="end">1</text>
<line x1="450.5" y1="298.9" x2="454.5" y2="298.9" stroke="#2a2a2a" stroke-width="0.9"/>
<text x="450" y="301.25" font-size="6.7" text-anchor="end">0</text>
<text x="437.1" y="243.7" font-size="7.7" text-anchor="middle" transform="rotate(-90 437.1 243.7)">% Rel Quant.</text>
<line x1="468.8" y1="298.9" x2="468.8" y2="303.1" stroke="#2a2a2a" stroke-width="0.9"/>
<text x="472.3" y="308.1" font-size="6.4" text-anchor="end" transform="rotate(-45 472.3 308.1)">HEALTHY</text>
<line x1="490.7" y1="298.9" x2="490.7" y2="303.1" stroke="#2a2a2a" stroke-width="0.9"/>
<text x="493.2" y="308.9" font-size="6.4" text-anchor="end" transform="rotate(-45 493.2 308.9)">BC NW</text>
<line x1="512.4" y1="298.9" x2="512.4" y2="303.1" stroke="#2a2a2a" stroke-width="0.9"/>
<text x="514.8" y="308.9" font-size="6.4" text-anchor="end" transform="rotate(-45 514.8 308.9)">BC OW</text>
<line x1="534.2" y1="298.9" x2="534.2" y2="303.1" stroke="#2a2a2a" stroke-width="0.9"/>
<text x="536.7" y="308.9" font-size="6.4" text-anchor="end" transform="rotate(-45 536.7 308.9)">BC OB</text>
<text x="519.3" y="239.8" font-size="6.55" text-anchor="middle">normal values</text>
<text x="517" y="247.5" font-size="6.55" text-anchor="middle">(0.5-0.9)</text>
<path d="M465.3 203.2 V198.4 H498.4 V203.2" fill="none" stroke="#2a2a2a" stroke-width="0.95"/>
<path d="M484 192.68 L484 196.92 M482.16 193.74 L485.84 195.86 M485.84 193.74 L482.16 195.86" stroke="#1a1a1a" stroke-width="0.95" fill="none"/>
<rect x="587.7" y="248.3" width="95.8" height="18.2" fill="#ebecec" stroke="#c9c9c9" stroke-width="0.6"/>
<circle cx="602.23" cy="235.15" r="2.12" fill="#2b2792"/>
<circle cx="602.81" cy="240.55" r="2.12" fill="#2b2792"/>
<circle cx="601.35" cy="242.88" r="2.12" fill="#2b2792"/>
<circle cx="602.23" cy="246.39" r="2.12" fill="#2b2792"/>
<circle cx="603.98" cy="247.85" r="2.12" fill="#2b2792"/>
<circle cx="606.61" cy="247.85" r="2.12" fill="#2b2792"/>
<circle cx="598.87" cy="250.47" r="2.12" fill="#2b2792"/>
<circle cx="601.35" cy="250.47" r="2.12" fill="#2b2792"/>
<circle cx="600.33" cy="252.66" r="2.12" fill="#2b2792"/>
<circle cx="603.25" cy="252.66" r="2.12" fill="#2b2792"/>
<circle cx="602.23" cy="254.85" r="2.12" fill="#2b2792"/>
<circle cx="604.71" cy="254.85" r="2.12" fill="#2b2792"/>
<circle cx="596.97" cy="257.04" r="2.12" fill="#2b2792"/>
<circle cx="599.6" cy="257.04" r="2.12" fill="#2b2792"/>
<circle cx="602.23" cy="257.04" r="2.12" fill="#2b2792"/>
<circle cx="604.85" cy="257.04" r="2.12" fill="#2b2792"/>
<circle cx="606.9" cy="257.04" r="2.12" fill="#2b2792"/>
<circle cx="598.87" cy="259.23" r="2.12" fill="#2b2792"/>
<circle cx="601.35" cy="259.23" r="2.12" fill="#2b2792"/>
<circle cx="603.98" cy="259.23" r="2.12" fill="#2b2792"/>
<circle cx="606.61" cy="259.23" r="2.12" fill="#2b2792"/>
<circle cx="608.36" cy="259.23" r="2.12" fill="#2b2792"/>
<circle cx="596.97" cy="261.42" r="2.12" fill="#2b2792"/>
<circle cx="599.6" cy="261.42" r="2.12" fill="#2b2792"/>
<circle cx="602.23" cy="261.42" r="2.12" fill="#2b2792"/>
<circle cx="604.85" cy="261.42" r="2.12" fill="#2b2792"/>
<circle cx="607.19" cy="261.42" r="2.12" fill="#2b2792"/>
<circle cx="599.6" cy="263.61" r="2.12" fill="#2b2792"/>
<circle cx="602.23" cy="263.61" r="2.12" fill="#2b2792"/>
<circle cx="604.71" cy="263.61" r="2.12" fill="#2b2792"/>
<circle cx="601.06" cy="265.8" r="2.12" fill="#2b2792"/>
<circle cx="603.69" cy="265.8" r="2.12" fill="#2b2792"/>
<circle cx="602.23" cy="267.99" r="2.12" fill="#2b2792"/>
<circle cx="600.77" cy="270.18" r="2.12" fill="#2b2792"/>
<circle cx="603.69" cy="270.18" r="2.12" fill="#2b2792"/>
<circle cx="601.79" cy="273.83" r="2.12" fill="#2b2792"/>
<circle cx="623.69" cy="240.99" r="2.12" fill="#5cb83c"/>
<circle cx="623.69" cy="243.91" r="2.12" fill="#5cb83c"/>
<circle cx="622.23" cy="245.8" r="2.12" fill="#5cb83c"/>
<circle cx="626.17" cy="245.8" r="2.12" fill="#5cb83c"/>
<circle cx="623.69" cy="248.28" r="2.12" fill="#5cb83c"/>
<circle cx="622.66" cy="250.47" r="2.12" fill="#5cb83c"/>
<circle cx="625.58" cy="250.47" r="2.12" fill="#5cb83c"/>
<circle cx="623.25" cy="252.96" r="2.12" fill="#5cb83c"/>
<circle cx="625.88" cy="252.96" r="2.12" fill="#5cb83c"/>
<circle cx="623.69" cy="255.15" r="2.12" fill="#5cb83c"/>
<circle cx="622.66" cy="257.77" r="2.12" fill="#5cb83c"/>
<circle cx="625.15" cy="257.77" r="2.12" fill="#5cb83c"/>
<circle cx="620.04" cy="259.96" r="2.12" fill="#5cb83c"/>
<circle cx="622.66" cy="259.96" r="2.12" fill="#5cb83c"/>
<circle cx="625.15" cy="259.96" r="2.12" fill="#5cb83c"/>
<circle cx="627.63" cy="259.96" r="2.12" fill="#5cb83c"/>
<circle cx="621.2" cy="262.15" r="2.12" fill="#5cb83c"/>
<circle cx="623.69" cy="262.15" r="2.12" fill="#5cb83c"/>
<circle cx="626.17" cy="262.15" r="2.12" fill="#5cb83c"/>
<circle cx="618.87" cy="263.91" r="2.12" fill="#5cb83c"/>
<circle cx="628.8" cy="263.91" r="2.12" fill="#5cb83c"/>
<circle cx="618.28" cy="266.09" r="2.12" fill="#5cb83c"/>
<circle cx="621.5" cy="266.09" r="2.12" fill="#5cb83c"/>
<circle cx="624.71" cy="266.09" r="2.12" fill="#5cb83c"/>
<circle cx="627.34" cy="266.09" r="2.12" fill="#5cb83c"/>
<circle cx="629.53" cy="266.09" r="2.12" fill="#5cb83c"/>
<circle cx="623.69" cy="270.18" r="2.12" fill="#5cb83c"/>
<circle cx="645.88" cy="244.2" r="2.12" fill="#e8262b"/>
<circle cx="645.88" cy="251.2" r="2.12" fill="#e8262b"/>
<circle cx="640.47" cy="254.56" r="2.12" fill="#e8262b"/>
<circle cx="643.39" cy="254.56" r="2.12" fill="#e8262b"/>
<circle cx="651.42" cy="255.15" r="2.12" fill="#e8262b"/>
<circle cx="647.77" cy="257.04" r="2.12" fill="#e8262b"/>
<circle cx="645.88" cy="260.69" r="2.12" fill="#e8262b"/>
<circle cx="651.42" cy="265.8" r="2.12" fill="#e8262b"/>
<circle cx="640.47" cy="266.53" r="2.12" fill="#e8262b"/>
<circle cx="647.77" cy="268.72" r="2.12" fill="#e8262b"/>
<circle cx="644.12" cy="270.91" r="2.12" fill="#e8262b"/>
<circle cx="667.77" cy="243.47" r="2.12" fill="#111111"/>
<circle cx="670.4" cy="247.12" r="2.12" fill="#111111"/>
<circle cx="665" cy="250.04" r="2.12" fill="#111111"/>
<circle cx="670.4" cy="251.64" r="2.12" fill="#111111"/>
<circle cx="665" cy="259.23" r="2.12" fill="#111111"/>
<circle cx="670.4" cy="259.23" r="2.12" fill="#111111"/>
<circle cx="667.77" cy="261.42" r="2.12" fill="#111111"/>
<circle cx="662.37" cy="262.88" r="2.12" fill="#111111"/>
<circle cx="673.03" cy="262.88" r="2.12" fill="#111111"/>
<circle cx="666.02" cy="266.53" r="2.12" fill="#111111"/>
<circle cx="668.94" cy="266.53" r="2.12" fill="#111111"/>
<circle cx="668.94" cy="271.64" r="2.12" fill="#111111"/>
<circle cx="666.02" cy="275" r="2.12" fill="#111111"/>
<text x="625.5" y="184.2" font-size="7.8" text-anchor="middle">22:6 omega 3</text>
<line x1="587.7" y1="203" x2="587.7" y2="298.45" stroke="#2a2a2a" stroke-width="1"/>
<line x1="587.25" y1="298" x2="678.4" y2="298" stroke="#2a2a2a" stroke-width="1"/>
<line x1="583.7" y1="203.4" x2="587.7" y2="203.4" stroke="#2a2a2a" stroke-width="0.9"/>
<text x="583.2" y="205.75" font-size="6.7" text-anchor="end">15</text>
<line x1="583.7" y1="234.93" x2="587.7" y2="234.93" stroke="#2a2a2a" stroke-width="0.9"/>
<text x="583.2" y="237.28" font-size="6.7" text-anchor="end">10</text>
<line x1="583.7" y1="266.47" x2="587.7" y2="266.47" stroke="#2a2a2a" stroke-width="0.9"/>
<text x="583.2" y="268.82" font-size="6.7" text-anchor="end">5</text>
<line x1="583.7" y1="298" x2="587.7" y2="298" stroke="#2a2a2a" stroke-width="0.9"/>
<text x="583.2" y="300.35" font-size="6.7" text-anchor="end">0</text>
<text x="570.7" y="241.8" font-size="7.7" text-anchor="middle" transform="rotate(-90 570.7 241.8)">% Rel Quant.</text>
<line x1="601.5" y1="298" x2="601.5" y2="302.2" stroke="#2a2a2a" stroke-width="0.9"/>
<text x="606.6" y="307.6" font-size="6.5" text-anchor="end" transform="rotate(-45 606.6 307.6)">HEALTHY</text>
<line x1="622.5" y1="298" x2="622.5" y2="302.2" stroke="#2a2a2a" stroke-width="0.9"/>
<text x="626.1" y="308.2" font-size="6.5" text-anchor="end" transform="rotate(-45 626.1 308.2)">BC NW</text>
<line x1="643.4" y1="298" x2="643.4" y2="302.2" stroke="#2a2a2a" stroke-width="0.9"/>
<text x="647.5" y="308.2" font-size="6.5" text-anchor="end" transform="rotate(-45 647.5 308.2)">BC OW</text>
<line x1="664.3" y1="298" x2="664.3" y2="302.2" stroke="#2a2a2a" stroke-width="0.9"/>
<text x="669.6" y="308.2" font-size="6.5" text-anchor="end" transform="rotate(-45 669.6 308.2)">BC OB</text>
<text x="641.9" y="283.8" font-size="6.55" text-anchor="middle">normal values</text>
<text x="638.3" y="291.7" font-size="6.55" text-anchor="middle">(5-7)</text>
<rect x="30.2" y="384.3" width="89.7" height="100.9" fill="#ebecec" stroke="#c9c9c9" stroke-width="0.6"/>
<circle cx="43.54" cy="402.96" r="2.12" fill="#2b2792"/>
<circle cx="38.14" cy="408.5" r="2.12" fill="#2b2792"/>
<circle cx="49.09" cy="408.5" r="2.12" fill="#2b2792"/>
<circle cx="40.33" cy="410.55" r="2.12" fill="#2b2792"/>
<circle cx="46.9" cy="410.55" r="2.12" fill="#2b2792"/>
<circle cx="42.52" cy="413.18" r="2.12" fill="#2b2792"/>
<circle cx="44.71" cy="413.18" r="2.12" fill="#2b2792"/>
<circle cx="41.06" cy="415.8" r="2.12" fill="#2b2792"/>
<circle cx="46.17" cy="415.8" r="2.12" fill="#2b2792"/>
<circle cx="43.54" cy="417.85" r="2.12" fill="#2b2792"/>
<circle cx="37.85" cy="420.47" r="2.12" fill="#2b2792"/>
<circle cx="40.77" cy="420.47" r="2.12" fill="#2b2792"/>
<circle cx="46.17" cy="420.47" r="2.12" fill="#2b2792"/>
<circle cx="43.54" cy="422.66" r="2.12" fill="#2b2792"/>
<circle cx="46.9" cy="422.66" r="2.12" fill="#2b2792"/>
<circle cx="41.06" cy="425.15" r="2.12" fill="#2b2792"/>
<circle cx="45.44" cy="425.15" r="2.12" fill="#2b2792"/>
<circle cx="39.6" cy="427.04" r="2.12" fill="#2b2792"/>
<circle cx="43.54" cy="427.04" r="2.12" fill="#2b2792"/>
<circle cx="40.33" cy="432.15" r="2.12" fill="#2b2792"/>
<circle cx="38.14" cy="434.78" r="2.12" fill="#2b2792"/>
<circle cx="43.98" cy="434.78" r="2.12" fill="#2b2792"/>
<circle cx="46.9" cy="434.78" r="2.12" fill="#2b2792"/>
<circle cx="41.35" cy="437.26" r="2.12" fill="#2b2792"/>
<circle cx="49.09" cy="437.26" r="2.12" fill="#2b2792"/>
<circle cx="38.14" cy="439.74" r="2.12" fill="#2b2792"/>
<circle cx="46.17" cy="439.74" r="2.12" fill="#2b2792"/>
<circle cx="41.06" cy="442.37" r="2.12" fill="#2b2792"/>
<circle cx="43.98" cy="442.37" r="2.12" fill="#2b2792"/>
<circle cx="47.63" cy="442.37" r="2.12" fill="#2b2792"/>
<circle cx="38.14" cy="445" r="2.12" fill="#2b2792"/>
<circle cx="42.52" cy="445" r="2.12" fill="#2b2792"/>
<circle cx="44.71" cy="447.04" r="2.12" fill="#2b2792"/>
<circle cx="46.9" cy="447.04" r="2.12" fill="#2b2792"/>
<circle cx="43.25" cy="449.23" r="2.12" fill="#2b2792"/>
<circle cx="40.33" cy="458.14" r="2.12" fill="#2b2792"/>
<circle cx="43.98" cy="460.18" r="2.12" fill="#2b2792"/>
<circle cx="44.71" cy="464.56" r="2.12" fill="#2b2792"/>
<circle cx="43.25" cy="468.94" r="2.12" fill="#2b2792"/>
<circle cx="45.73" cy="468.94" r="2.12" fill="#2b2792"/>
<circle cx="41.06" cy="470.4" r="2.12" fill="#2b2792"/>
<circle cx="65.44" cy="400.47" r="2.12" fill="#5cb83c"/>
<circle cx="65.44" cy="438.28" r="2.12" fill="#5cb83c"/>
<circle cx="65.44" cy="446.46" r="2.12" fill="#5cb83c"/>
<circle cx="63.69" cy="451.42" r="2.12" fill="#5cb83c"/>
<circle cx="67.34" cy="451.42" r="2.12" fill="#5cb83c"/>
<circle cx="64.42" cy="454.05" r="2.12" fill="#5cb83c"/>
<circle cx="66.61" cy="454.05" r="2.12" fill="#5cb83c"/>
<circle cx="65.44" cy="456.68" r="2.12" fill="#5cb83c"/>
<circle cx="60.04" cy="459.6" r="2.12" fill="#5cb83c"/>
<circle cx="62.66" cy="459.6" r="2.12" fill="#5cb83c"/>
<circle cx="65.44" cy="459.6" r="2.12" fill="#5cb83c"/>
<circle cx="68.21" cy="459.6" r="2.12" fill="#5cb83c"/>
<circle cx="70.99" cy="459.6" r="2.12" fill="#5cb83c"/>
<circle cx="63.69" cy="462.52" r="2.12" fill="#5cb83c"/>
<circle cx="67.34" cy="462.52" r="2.12" fill="#5cb83c"/>
<circle cx="62.66" cy="465.44" r="2.12" fill="#5cb83c"/>
<circle cx="65.44" cy="465.44" r="2.12" fill="#5cb83c"/>
<circle cx="68.21" cy="465.44" r="2.12" fill="#5cb83c"/>
<circle cx="68.21" cy="467.19" r="2.12" fill="#5cb83c"/>
<circle cx="65.44" cy="476.24" r="2.12" fill="#5cb83c"/>
<circle cx="87.04" cy="432.45" r="2.12" fill="#e8262b"/>
<circle cx="81.64" cy="440.91" r="2.12" fill="#e8262b"/>
<circle cx="87.04" cy="440.91" r="2.12" fill="#e8262b"/>
<circle cx="92.45" cy="440.91" r="2.12" fill="#e8262b"/>
<circle cx="87.04" cy="451.57" r="2.12" fill="#e8262b"/>
<circle cx="81.64" cy="454.34" r="2.12" fill="#e8262b"/>
<circle cx="87.04" cy="458.43" r="2.12" fill="#e8262b"/>
<circle cx="81.64" cy="459.6" r="2.12" fill="#e8262b"/>
<circle cx="92.45" cy="459.6" r="2.12" fill="#e8262b"/>
<circle cx="87.04" cy="463.1" r="2.12" fill="#e8262b"/>
<circle cx="87.04" cy="470.11" r="2.12" fill="#e8262b"/>
<circle cx="108.65" cy="413.47" r="2.12" fill="#111111"/>
<circle cx="108.65" cy="421.93" r="2.12" fill="#111111"/>
<circle cx="106.75" cy="429.96" r="2.12" fill="#111111"/>
<circle cx="103.54" cy="431.42" r="2.12" fill="#111111"/>
<circle cx="110.4" cy="433.32" r="2.12" fill="#111111"/>
<circle cx="114.05" cy="433.32" r="2.12" fill="#111111"/>
<circle cx="106.75" cy="436.82" r="2.12" fill="#111111"/>
<circle cx="110.84" cy="439.74" r="2.12" fill="#111111"/>
<circle cx="106.75" cy="448.94" r="2.12" fill="#111111"/>
<circle cx="110.84" cy="452.59" r="2.12" fill="#111111"/>
<circle cx="108.65" cy="460.91" r="2.12" fill="#111111"/>
<circle cx="106.75" cy="466.46" r="2.12" fill="#111111"/>
<circle cx="110.84" cy="466.46" r="2.12" fill="#111111"/>
<text x="70.9" y="363.2" font-size="7.8" text-anchor="middle">SFA</text>
<line x1="29.8" y1="391" x2="29.8" y2="485.65" stroke="#2a2a2a" stroke-width="1"/>
<line x1="29.35" y1="485.2" x2="123.2" y2="485.2" stroke="#2a2a2a" stroke-width="1"/>
<line x1="25.8" y1="391.4" x2="29.8" y2="391.4" stroke="#2a2a2a" stroke-width="0.9"/>
<text x="25.3" y="393.75" font-size="6.7" text-anchor="end">44</text>
<line x1="25.8" y1="414.85" x2="29.8" y2="414.85" stroke="#2a2a2a" stroke-width="0.9"/>
<text x="25.3" y="417.2" font-size="6.7" text-anchor="end">42</text>
<line x1="25.8" y1="438.3" x2="29.8" y2="438.3" stroke="#2a2a2a" stroke-width="0.9"/>
<text x="25.3" y="440.65" font-size="6.7" text-anchor="end">40</text>
<line x1="25.8" y1="461.75" x2="29.8" y2="461.75" stroke="#2a2a2a" stroke-width="0.9"/>
<text x="25.3" y="464.1" font-size="6.7" text-anchor="end">38</text>
<line x1="25.8" y1="485.2" x2="29.8" y2="485.2" stroke="#2a2a2a" stroke-width="0.9"/>
<text x="25.3" y="487.55" font-size="6.7" text-anchor="end">36</text>
<text x="7.7" y="430.4" font-size="7.7" text-anchor="middle" transform="rotate(-90 7.7 430.4)">% Rel Quant.</text>
<line x1="43.5" y1="485.2" x2="43.5" y2="489.4" stroke="#2a2a2a" stroke-width="0.9"/>
<text x="43.9" y="496.4" font-size="6.6" text-anchor="end" transform="rotate(-45 43.9 496.4)">HEALTHY</text>
<line x1="65.4" y1="485.2" x2="65.4" y2="489.4" stroke="#2a2a2a" stroke-width="0.9"/>
<text x="67.9" y="496.4" font-size="6.6" text-anchor="end" transform="rotate(-45 67.9 496.4)">BC NW</text>
<line x1="87.3" y1="485.2" x2="87.3" y2="489.4" stroke="#2a2a2a" stroke-width="0.9"/>
<text x="89.5" y="496.4" font-size="6.6" text-anchor="end" transform="rotate(-45 89.5 496.4)">BC OW</text>
<line x1="108.6" y1="485.2" x2="108.6" y2="489.4" stroke="#2a2a2a" stroke-width="0.9"/>
<text x="111.8" y="496.4" font-size="6.6" text-anchor="end" transform="rotate(-45 111.8 496.4)">BC OB</text>
<text x="75.1" y="411.7" font-size="6.55" text-anchor="middle">normal values</text>
<text x="66.6" y="419.5" font-size="6.55" text-anchor="middle">(34-45)</text>
<path d="M35.9 381.5 V374.9 H87.8 V381.5" fill="none" stroke="#2a2a2a" stroke-width="0.95"/>
<path d="M55.2 367.28 L55.2 371.52 M53.36 368.34 L57.04 370.46 M57.04 368.34 L53.36 370.46" stroke="#1a1a1a" stroke-width="0.95" fill="none"/>
<path d="M60.4 367.28 L60.4 371.52 M58.56 368.34 L62.24 370.46 M62.24 368.34 L58.56 370.46" stroke="#1a1a1a" stroke-width="0.95" fill="none"/>
<path d="M35.9 397.4 V393.5 H68.4 V397.4" fill="none" stroke="#2a2a2a" stroke-width="0.95"/>
<path d="M44.5 385.48 L44.5 389.72 M42.66 386.54 L46.34 388.66 M46.34 386.54 L42.66 388.66" stroke="#1a1a1a" stroke-width="0.95" fill="none"/>
<path d="M49.7 385.48 L49.7 389.72 M47.86 386.54 L51.54 388.66 M51.54 386.54 L47.86 388.66" stroke="#1a1a1a" stroke-width="0.95" fill="none"/>
<path d="M54.9 385.48 L54.9 389.72 M53.06 386.54 L56.74 388.66 M56.74 386.54 L53.06 388.66" stroke="#1a1a1a" stroke-width="0.95" fill="none"/>
<path d="M60.1 385.48 L60.1 389.72 M58.26 386.54 L61.94 388.66 M61.94 386.54 L58.26 388.66" stroke="#1a1a1a" stroke-width="0.95" fill="none"/>
<path d="M70.3 399.3 V392.4 H112.6 V399.3" fill="none" stroke="#2a2a2a" stroke-width="0.95"/>
<path d="M88.8 384.48 L88.8 388.72 M86.96 385.54 L90.64 387.66 M90.64 385.54 L86.96 387.66" stroke="#1a1a1a" stroke-width="0.95" fill="none"/>
<path d="M94 384.48 L94 388.72 M92.16 385.54 L95.84 387.66 M95.84 385.54 L92.16 387.66" stroke="#1a1a1a" stroke-width="0.95" fill="none"/>
<rect x="171.9" y="401.3" width="94.1" height="74.9" fill="#ebecec" stroke="#c9c9c9" stroke-width="0.6"/>
<circle cx="185.98" cy="403.61" r="2.12" fill="#2b2792"/>
<circle cx="185.98" cy="407.11" r="2.12" fill="#2b2792"/>
<circle cx="185.98" cy="413.82" r="2.12" fill="#2b2792"/>
<circle cx="185.98" cy="420.69" r="2.12" fill="#2b2792"/>
<circle cx="187.73" cy="422.15" r="2.12" fill="#2b2792"/>
<circle cx="184.52" cy="425.07" r="2.12" fill="#2b2792"/>
<circle cx="187.15" cy="425.07" r="2.12" fill="#2b2792"/>
<circle cx="182.33" cy="427.26" r="2.12" fill="#2b2792"/>
<circle cx="188.61" cy="427.26" r="2.12" fill="#2b2792"/>
<circle cx="185.98" cy="429.45" r="2.12" fill="#2b2792"/>
<circle cx="188.9" cy="429.45" r="2.12" fill="#2b2792"/>
<circle cx="184.52" cy="431.93" r="2.12" fill="#2b2792"/>
<circle cx="180.43" cy="435.72" r="2.12" fill="#2b2792"/>
<circle cx="183.35" cy="435.72" r="2.12" fill="#2b2792"/>
<circle cx="188.9" cy="435.72" r="2.12" fill="#2b2792"/>
<circle cx="185.98" cy="437.47" r="2.12" fill="#2b2792"/>
<circle cx="191.09" cy="437.47" r="2.12" fill="#2b2792"/>
<circle cx="181.6" cy="437.47" r="2.12" fill="#2b2792"/>
<circle cx="183.79" cy="439.66" r="2.12" fill="#2b2792"/>
<circle cx="188.61" cy="439.66" r="2.12" fill="#2b2792"/>
<circle cx="185.98" cy="442.15" r="2.12" fill="#2b2792"/>
<circle cx="184.23" cy="444.48" r="2.12" fill="#2b2792"/>
<circle cx="187.44" cy="444.48" r="2.12" fill="#2b2792"/>
<circle cx="185.98" cy="446.96" r="2.12" fill="#2b2792"/>
<circle cx="184.52" cy="449.15" r="2.12" fill="#2b2792"/>
<circle cx="187.44" cy="449.15" r="2.12" fill="#2b2792"/>
<circle cx="185.98" cy="451.78" r="2.12" fill="#2b2792"/>
<circle cx="181.6" cy="454.26" r="2.12" fill="#2b2792"/>
<circle cx="184.52" cy="454.26" r="2.12" fill="#2b2792"/>
<circle cx="190.36" cy="454.26" r="2.12" fill="#2b2792"/>
<circle cx="185.98" cy="456.45" r="2.12" fill="#2b2792"/>
<circle cx="188.61" cy="456.45" r="2.12" fill="#2b2792"/>
<circle cx="186.71" cy="462" r="2.12" fill="#2b2792"/>
<circle cx="184.81" cy="463.75" r="2.12" fill="#2b2792"/>
<circle cx="185.98" cy="467.84" r="2.12" fill="#2b2792"/>
<circle cx="207.58" cy="414.41" r="2.12" fill="#5cb83c"/>
<circle cx="207.58" cy="418.5" r="2.12" fill="#5cb83c"/>
<circle cx="207.58" cy="422.15" r="2.12" fill="#5cb83c"/>
<circle cx="210.07" cy="427.55" r="2.12" fill="#5cb83c"/>
<circle cx="202.47" cy="429.01" r="2.12" fill="#5cb83c"/>
<circle cx="207.58" cy="429.01" r="2.12" fill="#5cb83c"/>
<circle cx="212.99" cy="430.61" r="2.12" fill="#5cb83c"/>
<circle cx="210.07" cy="432.36" r="2.12" fill="#5cb83c"/>
<circle cx="212.99" cy="434.26" r="2.12" fill="#5cb83c"/>
<circle cx="204.96" cy="435.72" r="2.12" fill="#5cb83c"/>
<circle cx="202.47" cy="437.18" r="2.12" fill="#5cb83c"/>
<circle cx="209.34" cy="437.18" r="2.12" fill="#5cb83c"/>
<circle cx="207.58" cy="439.66" r="2.12" fill="#5cb83c"/>
<circle cx="202.47" cy="441.42" r="2.12" fill="#5cb83c"/>
<circle cx="205.25" cy="441.42" r="2.12" fill="#5cb83c"/>
<circle cx="210.8" cy="442.15" r="2.12" fill="#5cb83c"/>
<circle cx="210.07" cy="445.07" r="2.12" fill="#5cb83c"/>
<circle cx="207.58" cy="446.53" r="2.12" fill="#5cb83c"/>
<circle cx="210.07" cy="449.45" r="2.12" fill="#5cb83c"/>
<circle cx="202.47" cy="450.91" r="2.12" fill="#5cb83c"/>
<circle cx="212.99" cy="450.91" r="2.12" fill="#5cb83c"/>
<circle cx="205.25" cy="452.07" r="2.12" fill="#5cb83c"/>
<circle cx="208.17" cy="452.07" r="2.12" fill="#5cb83c"/>
<circle cx="211.53" cy="453.53" r="2.12" fill="#5cb83c"/>
<circle cx="207.58" cy="456.01" r="2.12" fill="#5cb83c"/>
<circle cx="207.58" cy="462.73" r="2.12" fill="#5cb83c"/>
<circle cx="229.48" cy="425.8" r="2.12" fill="#e8262b"/>
<circle cx="223.93" cy="431.93" r="2.12" fill="#e8262b"/>
<circle cx="234.88" cy="431.93" r="2.12" fill="#e8262b"/>
<circle cx="228.02" cy="434.26" r="2.12" fill="#e8262b"/>
<circle cx="231.23" cy="434.26" r="2.12" fill="#e8262b"/>
<circle cx="227.58" cy="440.39" r="2.12" fill="#e8262b"/>
<circle cx="234.88" cy="441.42" r="2.12" fill="#e8262b"/>
<circle cx="231.23" cy="443.31" r="2.12" fill="#e8262b"/>
<circle cx="229.48" cy="447.99" r="2.12" fill="#e8262b"/>
<circle cx="225.83" cy="449.15" r="2.12" fill="#e8262b"/>
<circle cx="233.13" cy="449.15" r="2.12" fill="#e8262b"/>
<circle cx="251.38" cy="422.15" r="2.12" fill="#111111"/>
<circle cx="245.83" cy="429.45" r="2.12" fill="#111111"/>
<circle cx="249.48" cy="431.93" r="2.12" fill="#111111"/>
<circle cx="253.13" cy="433.39" r="2.12" fill="#111111"/>
<circle cx="256.78" cy="434.85" r="2.12" fill="#111111"/>
<circle cx="245.83" cy="435.72" r="2.12" fill="#111111"/>
<circle cx="249.48" cy="436.74" r="2.12" fill="#111111"/>
<circle cx="251.38" cy="443.02" r="2.12" fill="#111111"/>
<circle cx="249.77" cy="448.86" r="2.12" fill="#111111"/>
<circle cx="253.13" cy="448.86" r="2.12" fill="#111111"/>
<circle cx="251.38" cy="456.45" r="2.12" fill="#111111"/>
<circle cx="254.59" cy="456.45" r="2.12" fill="#111111"/>
<circle cx="249.48" cy="457.18" r="2.12" fill="#111111"/>
<circle cx="247.58" cy="458.2" r="2.12" fill="#111111"/>
<text x="214" y="363.2" font-size="7.8" text-anchor="middle">MUFA</text>
<line x1="171.9" y1="391" x2="171.9" y2="485.85" stroke="#2a2a2a" stroke-width="1"/>
<line x1="171.45" y1="485.4" x2="265.8" y2="485.4" stroke="#2a2a2a" stroke-width="1"/>
<line x1="167.9" y1="391.4" x2="171.9" y2="391.4" stroke="#2a2a2a" stroke-width="0.9"/>
<text x="167.4" y="393.75" font-size="6.7" text-anchor="end">24</text>
<line x1="167.9" y1="410.2" x2="171.9" y2="410.2" stroke="#2a2a2a" stroke-width="0.9"/>
<text x="167.4" y="412.55" font-size="6.7" text-anchor="end">22</text>
<line x1="167.9" y1="429" x2="171.9" y2="429" stroke="#2a2a2a" stroke-width="0.9"/>
<text x="167.4" y="431.35" font-size="6.7" text-anchor="end">20</text>
<line x1="167.9" y1="447.8" x2="171.9" y2="447.8" stroke="#2a2a2a" stroke-width="0.9"/>
<text x="167.4" y="450.15" font-size="6.7" text-anchor="end">18</text>
<line x1="167.9" y1="466.6" x2="171.9" y2="466.6" stroke="#2a2a2a" stroke-width="0.9"/>
<text x="167.4" y="468.95" font-size="6.7" text-anchor="end">16</text>
<line x1="167.9" y1="485.4" x2="171.9" y2="485.4" stroke="#2a2a2a" stroke-width="0.9"/>
<text x="167.4" y="487.75" font-size="6.7" text-anchor="end">14</text>
<text x="150.5" y="434.9" font-size="7.7" text-anchor="middle" transform="rotate(-90 150.5 434.9)">% Rel Quant.</text>
<line x1="185.7" y1="485.4" x2="185.7" y2="489.6" stroke="#2a2a2a" stroke-width="0.9"/>
<text x="187.1" y="497.5" font-size="6.6" text-anchor="end" transform="rotate(-45 187.1 497.5)">HEALTHY</text>
<line x1="207.6" y1="485.4" x2="207.6" y2="489.6" stroke="#2a2a2a" stroke-width="0.9"/>
<text x="210.2" y="496.6" font-size="6.6" text-anchor="end" transform="rotate(-45 210.2 496.6)">BC NW</text>
<line x1="229.5" y1="485.4" x2="229.5" y2="489.6" stroke="#2a2a2a" stroke-width="0.9"/>
<text x="232.2" y="496.6" font-size="6.6" text-anchor="end" transform="rotate(-45 232.2 496.6)">BC OW</text>
<line x1="251.1" y1="485.4" x2="251.1" y2="489.6" stroke="#2a2a2a" stroke-width="0.9"/>
<text x="254.5" y="496.6" font-size="6.6" text-anchor="end" transform="rotate(-45 254.5 496.6)">BC OB</text>
<text x="233.4" y="467.4" font-size="6.55" text-anchor="middle">normal values</text>
<text x="229.3" y="474.7" font-size="6.55" text-anchor="middle">(15-23)</text>
<rect x="312.7" y="418.3" width="94.1" height="66.7" fill="#ebecec" stroke="#c9c9c9" stroke-width="0.6"/>
<circle cx="326.79" cy="396.39" r="2.12" fill="#2b2792"/>
<circle cx="325.33" cy="404.71" r="2.12" fill="#2b2792"/>
<circle cx="327.81" cy="407.63" r="2.12" fill="#2b2792"/>
<circle cx="324.6" cy="414.34" r="2.12" fill="#2b2792"/>
<circle cx="326.79" cy="416.82" r="2.12" fill="#2b2792"/>
<circle cx="325.33" cy="419.01" r="2.12" fill="#2b2792"/>
<circle cx="327.81" cy="421.2" r="2.12" fill="#2b2792"/>
<circle cx="328.98" cy="423.39" r="2.12" fill="#2b2792"/>
<circle cx="326.79" cy="426.31" r="2.12" fill="#2b2792"/>
<circle cx="323.14" cy="428.5" r="2.12" fill="#2b2792"/>
<circle cx="324.6" cy="430.4" r="2.12" fill="#2b2792"/>
<circle cx="329.71" cy="430.4" r="2.12" fill="#2b2792"/>
<circle cx="321.39" cy="432.45" r="2.12" fill="#2b2792"/>
<circle cx="327.52" cy="432.45" r="2.12" fill="#2b2792"/>
<circle cx="331.9" cy="432.45" r="2.12" fill="#2b2792"/>
<circle cx="325.77" cy="434.78" r="2.12" fill="#2b2792"/>
<circle cx="329.71" cy="434.78" r="2.12" fill="#2b2792"/>
<circle cx="327.52" cy="437.26" r="2.12" fill="#2b2792"/>
<circle cx="324.6" cy="439.74" r="2.12" fill="#2b2792"/>
<circle cx="327.52" cy="445" r="2.12" fill="#2b2792"/>
<circle cx="325.77" cy="447.48" r="2.12" fill="#2b2792"/>
<circle cx="327.81" cy="449.67" r="2.12" fill="#2b2792"/>
<circle cx="324.6" cy="452.3" r="2.12" fill="#2b2792"/>
<circle cx="322.85" cy="455.51" r="2.12" fill="#2b2792"/>
<circle cx="327.81" cy="455.51" r="2.12" fill="#2b2792"/>
<circle cx="326.79" cy="458.43" r="2.12" fill="#2b2792"/>
<circle cx="324.6" cy="460.62" r="2.12" fill="#2b2792"/>
<circle cx="328.25" cy="462.81" r="2.12" fill="#2b2792"/>
<circle cx="324.6" cy="465.73" r="2.12" fill="#2b2792"/>
<circle cx="329.71" cy="467.19" r="2.12" fill="#2b2792"/>
<circle cx="325.33" cy="468.94" r="2.12" fill="#2b2792"/>
<circle cx="327.81" cy="468.94" r="2.12" fill="#2b2792"/>
<circle cx="326.79" cy="474.49" r="2.12" fill="#2b2792"/>
<circle cx="326.79" cy="479.6" r="2.12" fill="#2b2792"/>
<circle cx="345.77" cy="402.66" r="2.12" fill="#5cb83c"/>
<circle cx="351.17" cy="403.69" r="2.12" fill="#5cb83c"/>
<circle cx="345.77" cy="407.34" r="2.12" fill="#5cb83c"/>
<circle cx="348.25" cy="409.53" r="2.12" fill="#5cb83c"/>
<circle cx="342.85" cy="412.45" r="2.12" fill="#5cb83c"/>
<circle cx="353.8" cy="412.45" r="2.12" fill="#5cb83c"/>
<circle cx="345.77" cy="413.91" r="2.12" fill="#5cb83c"/>
<circle cx="348.25" cy="416.09" r="2.12" fill="#5cb83c"/>
<circle cx="342.85" cy="418.72" r="2.12" fill="#5cb83c"/>
<circle cx="353.8" cy="420.18" r="2.12" fill="#5cb83c"/>
<circle cx="345.77" cy="421.2" r="2.12" fill="#5cb83c"/>
<circle cx="348.69" cy="423.39" r="2.12" fill="#5cb83c"/>
<circle cx="351.17" cy="423.39" r="2.12" fill="#5cb83c"/>
<circle cx="342.85" cy="428.07" r="2.12" fill="#5cb83c"/>
<circle cx="353.8" cy="428.07" r="2.12" fill="#5cb83c"/>
<circle cx="351.17" cy="429.23" r="2.12" fill="#5cb83c"/>
<circle cx="345.77" cy="430.99" r="2.12" fill="#5cb83c"/>
<circle cx="348.25" cy="432.15" r="2.12" fill="#5cb83c"/>
<circle cx="351.17" cy="434.34" r="2.12" fill="#5cb83c"/>
<circle cx="345.77" cy="435.51" r="2.12" fill="#5cb83c"/>
<circle cx="349.42" cy="440.18" r="2.12" fill="#5cb83c"/>
<circle cx="346.5" cy="442.37" r="2.12" fill="#5cb83c"/>
<circle cx="346.5" cy="445.29" r="2.12" fill="#5cb83c"/>
<circle cx="349.42" cy="445.29" r="2.12" fill="#5cb83c"/>
<circle cx="375.69" cy="409.53" r="2.12" fill="#e8262b"/>
<circle cx="364.74" cy="411.72" r="2.12" fill="#e8262b"/>
<circle cx="364.74" cy="418.28" r="2.12" fill="#e8262b"/>
<circle cx="375.69" cy="420.91" r="2.12" fill="#e8262b"/>
<circle cx="375.69" cy="425.29" r="2.12" fill="#e8262b"/>
<circle cx="364.74" cy="427.77" r="2.12" fill="#e8262b"/>
<circle cx="375.69" cy="432.15" r="2.12" fill="#e8262b"/>
<circle cx="364.74" cy="435.36" r="2.12" fill="#e8262b"/>
<circle cx="364.74" cy="439.16" r="2.12" fill="#e8262b"/>
<circle cx="375.69" cy="441.64" r="2.12" fill="#e8262b"/>
<circle cx="364.74" cy="443.83" r="2.12" fill="#e8262b"/>
<circle cx="392.04" cy="404.71" r="2.12" fill="#111111"/>
<circle cx="386.64" cy="416.82" r="2.12" fill="#111111"/>
<circle cx="397.3" cy="420.18" r="2.12" fill="#111111"/>
<circle cx="392.04" cy="421.93" r="2.12" fill="#111111"/>
<circle cx="392.04" cy="427.48" r="2.12" fill="#111111"/>
<circle cx="389.27" cy="432.88" r="2.12" fill="#111111"/>
<circle cx="394.67" cy="432.88" r="2.12" fill="#111111"/>
<circle cx="392.04" cy="438.72" r="2.12" fill="#111111"/>
<circle cx="392.04" cy="444.56" r="2.12" fill="#111111"/>
<circle cx="386.64" cy="446.46" r="2.12" fill="#111111"/>
<circle cx="397.3" cy="447.48" r="2.12" fill="#111111"/>
<circle cx="392.04" cy="449.23" r="2.12" fill="#111111"/>
<circle cx="392.04" cy="462.52" r="2.12" fill="#111111"/>
<text x="343.9" y="362.2" font-size="7.8" text-anchor="middle">PUFA</text>
<line x1="312.7" y1="390.2" x2="312.7" y2="485.45" stroke="#2a2a2a" stroke-width="1"/>
<line x1="312.25" y1="485" x2="407.3" y2="485" stroke="#2a2a2a" stroke-width="1"/>
<line x1="308.7" y1="390.6" x2="312.7" y2="390.6" stroke="#2a2a2a" stroke-width="0.9"/>
<text x="308.2" y="392.95" font-size="6.7" text-anchor="end">46</text>
<line x1="308.7" y1="409.48" x2="312.7" y2="409.48" stroke="#2a2a2a" stroke-width="0.9"/>
<text x="308.2" y="411.83" font-size="6.7" text-anchor="end">44</text>
<line x1="308.7" y1="428.36" x2="312.7" y2="428.36" stroke="#2a2a2a" stroke-width="0.9"/>
<text x="308.2" y="430.71" font-size="6.7" text-anchor="end">42</text>
<line x1="308.7" y1="447.24" x2="312.7" y2="447.24" stroke="#2a2a2a" stroke-width="0.9"/>
<text x="308.2" y="449.59" font-size="6.7" text-anchor="end">40</text>
<line x1="308.7" y1="466.12" x2="312.7" y2="466.12" stroke="#2a2a2a" stroke-width="0.9"/>
<text x="308.2" y="468.47" font-size="6.7" text-anchor="end">38</text>
<line x1="308.7" y1="485" x2="312.7" y2="485" stroke="#2a2a2a" stroke-width="0.9"/>
<text x="308.2" y="487.35" font-size="6.7" text-anchor="end">36</text>
<text x="292.4" y="436.1" font-size="7.7" text-anchor="middle" transform="rotate(-90 292.4 436.1)">% Rel Quant.</text>
<line x1="326.5" y1="485" x2="326.5" y2="489.2" stroke="#2a2a2a" stroke-width="0.9"/>
<text x="327.1" y="496.4" font-size="6.6" text-anchor="end" transform="rotate(-45 327.1 496.4)">HEALTHY</text>
<line x1="348.2" y1="485" x2="348.2" y2="489.2" stroke="#2a2a2a" stroke-width="0.9"/>
<text x="350.6" y="496" font-size="6.6" text-anchor="end" transform="rotate(-45 350.6 496)">BC NW</text>
<line x1="370.1" y1="485" x2="370.1" y2="489.2" stroke="#2a2a2a" stroke-width="0.9"/>
<text x="372.5" y="496" font-size="6.6" text-anchor="end" transform="rotate(-45 372.5 496)">BC OW</text>
<line x1="391.8" y1="485" x2="391.8" y2="489.2" stroke="#2a2a2a" stroke-width="0.9"/>
<text x="395" y="496" font-size="6.6" text-anchor="end" transform="rotate(-45 395 496)">BC OB</text>
<text x="371.3" y="473.3" font-size="6.55" text-anchor="middle">normal values</text>
<text x="369.4" y="480.8" font-size="6.55" text-anchor="middle">(30-43)</text>
<path d="M320.9 379.6 V375.5 H364.3 V379.6" fill="none" stroke="#2a2a2a" stroke-width="0.95"/>
<path d="M346.1 367.68 L346.1 371.92 M344.26 368.74 L347.94 370.86 M347.94 368.74 L344.26 370.86" stroke="#1a1a1a" stroke-width="0.95" fill="none"/>
<path d="M322.8 393 V388.6 H347.2 V393" fill="none" stroke="#2a2a2a" stroke-width="0.95"/>
<path d="M327.3 380.68 L327.3 384.92 M325.46 381.74 L329.14 383.86 M329.14 381.74 L325.46 383.86" stroke="#1a1a1a" stroke-width="0.95" fill="none"/>
<path d="M332.5 380.68 L332.5 384.92 M330.66 381.74 L334.34 383.86 M334.34 381.74 L330.66 383.86" stroke="#1a1a1a" stroke-width="0.95" fill="none"/>
<path d="M337.7 380.68 L337.7 384.92 M335.86 381.74 L339.54 383.86 M339.54 381.74 L335.86 383.86" stroke="#1a1a1a" stroke-width="0.95" fill="none"/>
<path d="M342.9 380.68 L342.9 384.92 M341.06 381.74 L344.74 383.86 M344.74 381.74 L341.06 383.86" stroke="#1a1a1a" stroke-width="0.95" fill="none"/>
<path d="M347.7 401.2 V396.4 H393.5 V401.2" fill="none" stroke="#2a2a2a" stroke-width="0.95"/>
<path d="M370.9 388.68 L370.9 392.92 M369.06 389.74 L372.74 391.86 M372.74 389.74 L369.06 391.86" stroke="#1a1a1a" stroke-width="0.95" fill="none"/>
<rect x="456" y="427.3" width="94" height="58.6" fill="#ebecec" stroke="#c9c9c9" stroke-width="0.6"/>
<circle cx="468.52" cy="409.09" r="2.12" fill="#2b2792"/>
<circle cx="472.17" cy="411.72" r="2.12" fill="#2b2792"/>
<circle cx="464.14" cy="413.91" r="2.12" fill="#2b2792"/>
<circle cx="475.09" cy="413.91" r="2.12" fill="#2b2792"/>
<circle cx="469.54" cy="413.91" r="2.12" fill="#2b2792"/>
<circle cx="466.77" cy="415.8" r="2.12" fill="#2b2792"/>
<circle cx="472.9" cy="415.8" r="2.12" fill="#2b2792"/>
<circle cx="464.14" cy="418.72" r="2.12" fill="#2b2792"/>
<circle cx="469.54" cy="418.72" r="2.12" fill="#2b2792"/>
<circle cx="475.09" cy="418.72" r="2.12" fill="#2b2792"/>
<circle cx="466.77" cy="421.2" r="2.12" fill="#2b2792"/>
<circle cx="472.17" cy="421.2" r="2.12" fill="#2b2792"/>
<circle cx="464.14" cy="423.69" r="2.12" fill="#2b2792"/>
<circle cx="469.54" cy="423.69" r="2.12" fill="#2b2792"/>
<circle cx="475.09" cy="423.69" r="2.12" fill="#2b2792"/>
<circle cx="466.77" cy="426.02" r="2.12" fill="#2b2792"/>
<circle cx="472.17" cy="426.02" r="2.12" fill="#2b2792"/>
<circle cx="464.14" cy="428.5" r="2.12" fill="#2b2792"/>
<circle cx="469.54" cy="428.5" r="2.12" fill="#2b2792"/>
<circle cx="475.09" cy="428.5" r="2.12" fill="#2b2792"/>
<circle cx="466.77" cy="430.69" r="2.12" fill="#2b2792"/>
<circle cx="472.17" cy="430.69" r="2.12" fill="#2b2792"/>
<circle cx="468.52" cy="432.88" r="2.12" fill="#2b2792"/>
<circle cx="472.9" cy="432.88" r="2.12" fill="#2b2792"/>
<circle cx="466.33" cy="435.36" r="2.12" fill="#2b2792"/>
<circle cx="470.71" cy="435.36" r="2.12" fill="#2b2792"/>
<circle cx="468.52" cy="437.7" r="2.12" fill="#2b2792"/>
<circle cx="464.14" cy="442.37" r="2.12" fill="#2b2792"/>
<circle cx="466.33" cy="444.56" r="2.12" fill="#2b2792"/>
<circle cx="472.9" cy="444.56" r="2.12" fill="#2b2792"/>
<circle cx="475.09" cy="444.56" r="2.12" fill="#2b2792"/>
<circle cx="469.54" cy="447.04" r="2.12" fill="#2b2792"/>
<circle cx="466.33" cy="448.94" r="2.12" fill="#2b2792"/>
<circle cx="472.17" cy="448.94" r="2.12" fill="#2b2792"/>
<circle cx="470.71" cy="451.86" r="2.12" fill="#2b2792"/>
<circle cx="468.52" cy="451.86" r="2.12" fill="#2b2792"/>
<circle cx="469.54" cy="479.6" r="2.12" fill="#2b2792"/>
<circle cx="491.44" cy="401.5" r="2.12" fill="#5cb83c"/>
<circle cx="488.96" cy="405.44" r="2.12" fill="#5cb83c"/>
<circle cx="496.99" cy="405.44" r="2.12" fill="#5cb83c"/>
<circle cx="494.07" cy="407.34" r="2.12" fill="#5cb83c"/>
<circle cx="486.04" cy="408.8" r="2.12" fill="#5cb83c"/>
<circle cx="491.44" cy="408.8" r="2.12" fill="#5cb83c"/>
<circle cx="494.07" cy="412.45" r="2.12" fill="#5cb83c"/>
<circle cx="488.96" cy="415.07" r="2.12" fill="#5cb83c"/>
<circle cx="491.44" cy="416.39" r="2.12" fill="#5cb83c"/>
<circle cx="486.04" cy="418.72" r="2.12" fill="#5cb83c"/>
<circle cx="496.99" cy="418.72" r="2.12" fill="#5cb83c"/>
<circle cx="491.44" cy="420.47" r="2.12" fill="#5cb83c"/>
<circle cx="494.07" cy="424.56" r="2.12" fill="#5cb83c"/>
<circle cx="486.04" cy="426.02" r="2.12" fill="#5cb83c"/>
<circle cx="488.96" cy="426.02" r="2.12" fill="#5cb83c"/>
<circle cx="491.44" cy="427.48" r="2.12" fill="#5cb83c"/>
<circle cx="496.99" cy="427.48" r="2.12" fill="#5cb83c"/>
<circle cx="494.07" cy="429.53" r="2.12" fill="#5cb83c"/>
<circle cx="490.42" cy="430.69" r="2.12" fill="#5cb83c"/>
<circle cx="492.61" cy="436.53" r="2.12" fill="#5cb83c"/>
<circle cx="490.12" cy="437.55" r="2.12" fill="#5cb83c"/>
<circle cx="513.34" cy="405.58" r="2.12" fill="#e8262b"/>
<circle cx="511.58" cy="413.47" r="2.12" fill="#e8262b"/>
<circle cx="518.45" cy="415.8" r="2.12" fill="#e8262b"/>
<circle cx="515.23" cy="417.55" r="2.12" fill="#e8262b"/>
<circle cx="511.58" cy="419.31" r="2.12" fill="#e8262b"/>
<circle cx="515.23" cy="421.64" r="2.12" fill="#e8262b"/>
<circle cx="507.93" cy="423.1" r="2.12" fill="#e8262b"/>
<circle cx="511.58" cy="425.58" r="2.12" fill="#e8262b"/>
<circle cx="518.45" cy="425.58" r="2.12" fill="#e8262b"/>
<circle cx="515.23" cy="427.48" r="2.12" fill="#e8262b"/>
<circle cx="507.64" cy="428.07" r="2.12" fill="#e8262b"/>
<circle cx="534.94" cy="402.96" r="2.12" fill="#111111"/>
<circle cx="540.34" cy="410.69" r="2.12" fill="#111111"/>
<circle cx="534.94" cy="413.91" r="2.12" fill="#111111"/>
<circle cx="529.83" cy="414.93" r="2.12" fill="#111111"/>
<circle cx="540.34" cy="418.28" r="2.12" fill="#111111"/>
<circle cx="534.94" cy="419.31" r="2.12" fill="#111111"/>
<circle cx="529.83" cy="421.2" r="2.12" fill="#111111"/>
<circle cx="540.34" cy="422.37" r="2.12" fill="#111111"/>
<circle cx="534.94" cy="423.69" r="2.12" fill="#111111"/>
<circle cx="529.83" cy="432.15" r="2.12" fill="#111111"/>
<circle cx="540.34" cy="434.34" r="2.12" fill="#111111"/>
<circle cx="534.94" cy="436.82" r="2.12" fill="#111111"/>
<circle cx="534.94" cy="443.1" r="2.12" fill="#111111"/>
<text x="493.8" y="362.7" font-size="7.8" text-anchor="middle">PUFA omega 6</text>
<line x1="456" y1="390.9" x2="456" y2="486.35" stroke="#2a2a2a" stroke-width="1"/>
<line x1="455.55" y1="485.9" x2="549.6" y2="485.9" stroke="#2a2a2a" stroke-width="1"/>
<line x1="452" y1="391.3" x2="456" y2="391.3" stroke="#2a2a2a" stroke-width="0.9"/>
<text x="451.5" y="393.65" font-size="6.7" text-anchor="end">40</text>
<line x1="452" y1="420.86" x2="456" y2="420.86" stroke="#2a2a2a" stroke-width="0.9"/>
<text x="451.5" y="423.21" font-size="6.7" text-anchor="end">35</text>
<line x1="452" y1="450.43" x2="456" y2="450.43" stroke="#2a2a2a" stroke-width="0.9"/>
<text x="451.5" y="452.78" font-size="6.7" text-anchor="end">30</text>
<line x1="452" y1="479.99" x2="456" y2="479.99" stroke="#2a2a2a" stroke-width="0.9"/>
<text x="451.5" y="482.34" font-size="6.7" text-anchor="end">25</text>
<text x="434.7" y="432.7" font-size="7.7" text-anchor="middle" transform="rotate(-90 434.7 432.7)">% Rel Quant.</text>
<line x1="469.5" y1="485.9" x2="469.5" y2="490.1" stroke="#2a2a2a" stroke-width="0.9"/>
<text x="470.3" y="497.6" font-size="6.6" text-anchor="end" transform="rotate(-45 470.3 497.6)">HEALTHY</text>
<line x1="491.4" y1="485.9" x2="491.4" y2="490.1" stroke="#2a2a2a" stroke-width="0.9"/>
<text x="493.8" y="496.5" font-size="6.6" text-anchor="end" transform="rotate(-45 493.8 496.5)">BC NW</text>
<line x1="513.5" y1="485.9" x2="513.5" y2="490.1" stroke="#2a2a2a" stroke-width="0.9"/>
<text x="515.6" y="496.5" font-size="6.6" text-anchor="end" transform="rotate(-45 515.6 496.5)">BC OW</text>
<line x1="534.9" y1="485.9" x2="534.9" y2="490.1" stroke="#2a2a2a" stroke-width="0.9"/>
<text x="537.7" y="496.5" font-size="6.6" text-anchor="end" transform="rotate(-45 537.7 496.5)">BC OB</text>
<text x="507.9" y="474.9" font-size="6.55" text-anchor="middle">normal values</text>
<text x="506.8" y="483" font-size="7.6" text-anchor="middle">(24-34)</text>
<path d="M464.1 385.7 V381.4 H513.8 V385.7" fill="none" stroke="#2a2a2a" stroke-width="0.95"/>
<path d="M492.9 374.28 L492.9 378.52 M491.06 375.34 L494.74 377.46 M494.74 375.34 L491.06 377.46" stroke="#1a1a1a" stroke-width="0.95" fill="none"/>
<path d="M466.3 396.8 V392.4 H490.1 V396.8" fill="none" stroke="#2a2a2a" stroke-width="0.95"/>
<path d="M473.2 384.48 L473.2 388.72 M471.36 385.54 L475.04 387.66 M475.04 385.54 L471.36 387.66" stroke="#1a1a1a" stroke-width="0.95" fill="none"/>
<path d="M478.4 384.48 L478.4 388.72 M476.56 385.54 L480.24 387.66 M480.24 385.54 L476.56 387.66" stroke="#1a1a1a" stroke-width="0.95" fill="none"/>
<path d="M483.6 384.48 L483.6 388.72 M481.76 385.54 L485.44 387.66 M485.44 385.54 L481.76 387.66" stroke="#1a1a1a" stroke-width="0.95" fill="none"/>
<rect x="587.6" y="433.1" width="95.9" height="29.2" fill="#ebecec" stroke="#c9c9c9" stroke-width="0.6"/>
<circle cx="602.23" cy="404.92" r="2.12" fill="#2b2792"/>
<circle cx="601.35" cy="421.42" r="2.12" fill="#2b2792"/>
<circle cx="603.25" cy="421.42" r="2.12" fill="#2b2792"/>
<circle cx="602.23" cy="425.8" r="2.12" fill="#2b2792"/>
<circle cx="601.35" cy="429.01" r="2.12" fill="#2b2792"/>
<circle cx="603.98" cy="429.01" r="2.12" fill="#2b2792"/>
<circle cx="599.6" cy="432.36" r="2.12" fill="#2b2792"/>
<circle cx="602.52" cy="432.36" r="2.12" fill="#2b2792"/>
<circle cx="601.06" cy="434.55" r="2.12" fill="#2b2792"/>
<circle cx="603.98" cy="434.55" r="2.12" fill="#2b2792"/>
<circle cx="598.87" cy="437.18" r="2.12" fill="#2b2792"/>
<circle cx="601.79" cy="437.18" r="2.12" fill="#2b2792"/>
<circle cx="604.71" cy="437.18" r="2.12" fill="#2b2792"/>
<circle cx="606.9" cy="437.18" r="2.12" fill="#2b2792"/>
<circle cx="597.41" cy="439.37" r="2.12" fill="#2b2792"/>
<circle cx="600.33" cy="439.37" r="2.12" fill="#2b2792"/>
<circle cx="603.25" cy="439.37" r="2.12" fill="#2b2792"/>
<circle cx="606.17" cy="439.37" r="2.12" fill="#2b2792"/>
<circle cx="595.95" cy="441.56" r="2.12" fill="#2b2792"/>
<circle cx="598.43" cy="441.56" r="2.12" fill="#2b2792"/>
<circle cx="601.06" cy="441.56" r="2.12" fill="#2b2792"/>
<circle cx="603.69" cy="441.56" r="2.12" fill="#2b2792"/>
<circle cx="606.31" cy="441.56" r="2.12" fill="#2b2792"/>
<circle cx="608.36" cy="441.56" r="2.12" fill="#2b2792"/>
<circle cx="597.85" cy="444.04" r="2.12" fill="#2b2792"/>
<circle cx="600.33" cy="444.04" r="2.12" fill="#2b2792"/>
<circle cx="602.81" cy="444.04" r="2.12" fill="#2b2792"/>
<circle cx="605.44" cy="444.04" r="2.12" fill="#2b2792"/>
<circle cx="607.63" cy="444.04" r="2.12" fill="#2b2792"/>
<circle cx="599.31" cy="446.23" r="2.12" fill="#2b2792"/>
<circle cx="601.79" cy="446.23" r="2.12" fill="#2b2792"/>
<circle cx="604.27" cy="446.23" r="2.12" fill="#2b2792"/>
<circle cx="606.61" cy="446.23" r="2.12" fill="#2b2792"/>
<circle cx="600.33" cy="448.42" r="2.12" fill="#2b2792"/>
<circle cx="603.25" cy="448.42" r="2.12" fill="#2b2792"/>
<circle cx="602.23" cy="450.61" r="2.12" fill="#2b2792"/>
<circle cx="604.71" cy="450.61" r="2.12" fill="#2b2792"/>
<circle cx="600.77" cy="453.53" r="2.12" fill="#2b2792"/>
<circle cx="603.25" cy="453.53" r="2.12" fill="#2b2792"/>
<circle cx="602.23" cy="455.72" r="2.12" fill="#2b2792"/>
<circle cx="601.35" cy="458.93" r="2.12" fill="#2b2792"/>
<circle cx="623.98" cy="418.79" r="2.12" fill="#5cb83c"/>
<circle cx="623.98" cy="424.63" r="2.12" fill="#5cb83c"/>
<circle cx="623.98" cy="427.99" r="2.12" fill="#5cb83c"/>
<circle cx="622.96" cy="431.34" r="2.12" fill="#5cb83c"/>
<circle cx="625.15" cy="431.34" r="2.12" fill="#5cb83c"/>
<circle cx="623.98" cy="433.82" r="2.12" fill="#5cb83c"/>
<circle cx="622.96" cy="436.01" r="2.12" fill="#5cb83c"/>
<circle cx="625.58" cy="436.01" r="2.12" fill="#5cb83c"/>
<circle cx="623.98" cy="438.64" r="2.12" fill="#5cb83c"/>
<circle cx="623.25" cy="440.83" r="2.12" fill="#5cb83c"/>
<circle cx="625.88" cy="440.83" r="2.12" fill="#5cb83c"/>
<circle cx="622.23" cy="443.31" r="2.12" fill="#5cb83c"/>
<circle cx="624.71" cy="443.31" r="2.12" fill="#5cb83c"/>
<circle cx="619.31" cy="445.07" r="2.12" fill="#5cb83c"/>
<circle cx="621.5" cy="445.07" r="2.12" fill="#5cb83c"/>
<circle cx="623.98" cy="445.07" r="2.12" fill="#5cb83c"/>
<circle cx="626.61" cy="445.07" r="2.12" fill="#5cb83c"/>
<circle cx="628.8" cy="446.23" r="2.12" fill="#5cb83c"/>
<circle cx="620.77" cy="447.99" r="2.12" fill="#5cb83c"/>
<circle cx="623.25" cy="447.99" r="2.12" fill="#5cb83c"/>
<circle cx="625.88" cy="447.99" r="2.12" fill="#5cb83c"/>
<circle cx="628.07" cy="447.99" r="2.12" fill="#5cb83c"/>
<circle cx="622.23" cy="450.61" r="2.12" fill="#5cb83c"/>
<circle cx="625.15" cy="450.61" r="2.12" fill="#5cb83c"/>
<circle cx="623.98" cy="455.43" r="2.12" fill="#5cb83c"/>
<circle cx="645.88" cy="423.9" r="2.12" fill="#e8262b"/>
<circle cx="651.42" cy="434.55" r="2.12" fill="#e8262b"/>
<circle cx="640.47" cy="437.18" r="2.12" fill="#e8262b"/>
<circle cx="644.12" cy="437.18" r="2.12" fill="#e8262b"/>
<circle cx="647.77" cy="437.18" r="2.12" fill="#e8262b"/>
<circle cx="651.42" cy="438.93" r="2.12" fill="#e8262b"/>
<circle cx="645.88" cy="444.77" r="2.12" fill="#e8262b"/>
<circle cx="644.12" cy="450.18" r="2.12" fill="#e8262b"/>
<circle cx="651.42" cy="450.91" r="2.12" fill="#e8262b"/>
<circle cx="647.77" cy="453.09" r="2.12" fill="#e8262b"/>
<circle cx="640.47" cy="453.97" r="2.12" fill="#e8262b"/>
<circle cx="667.77" cy="423.17" r="2.12" fill="#111111"/>
<circle cx="666.02" cy="429.88" r="2.12" fill="#111111"/>
<circle cx="669.67" cy="432.8" r="2.12" fill="#111111"/>
<circle cx="666.02" cy="434.26" r="2.12" fill="#111111"/>
<circle cx="673.03" cy="443.31" r="2.12" fill="#111111"/>
<circle cx="662.37" cy="445.07" r="2.12" fill="#111111"/>
<circle cx="666.02" cy="446.23" r="2.12" fill="#111111"/>
<circle cx="669.67" cy="446.23" r="2.12" fill="#111111"/>
<circle cx="673.03" cy="448.13" r="2.12" fill="#111111"/>
<circle cx="667.77" cy="449.45" r="2.12" fill="#111111"/>
<circle cx="669.67" cy="451.34" r="2.12" fill="#111111"/>
<circle cx="666.02" cy="452.36" r="2.12" fill="#111111"/>
<circle cx="669.67" cy="456.01" r="2.12" fill="#111111"/>
<circle cx="667.77" cy="460.54" r="2.12" fill="#111111"/>
<text x="631.9" y="363.2" font-size="7.8" text-anchor="middle">omega 3 index</text>
<line x1="587.6" y1="391" x2="587.6" y2="485.95" stroke="#2a2a2a" stroke-width="1"/>
<line x1="587.15" y1="485.5" x2="682.8" y2="485.5" stroke="#2a2a2a" stroke-width="1"/>
<line x1="583.6" y1="391.4" x2="587.6" y2="391.4" stroke="#2a2a2a" stroke-width="0.9"/>
<text x="583.1" y="393.75" font-size="6.7" text-anchor="end">15</text>
<line x1="583.6" y1="422.77" x2="587.6" y2="422.77" stroke="#2a2a2a" stroke-width="0.9"/>
<text x="583.1" y="425.12" font-size="6.7" text-anchor="end">10</text>
<line x1="583.6" y1="454.13" x2="587.6" y2="454.13" stroke="#2a2a2a" stroke-width="0.9"/>
<text x="583.1" y="456.48" font-size="6.7" text-anchor="end">5</text>
<line x1="583.6" y1="485.5" x2="587.6" y2="485.5" stroke="#2a2a2a" stroke-width="0.9"/>
<text x="583.1" y="487.85" font-size="6.7" text-anchor="end">0</text>
<text x="570.7" y="442.3" font-size="7.7" text-anchor="middle" transform="rotate(-90 570.7 442.3)">% Rel Quant.</text>
<line x1="602.2" y1="485.5" x2="602.2" y2="489.7" stroke="#2a2a2a" stroke-width="0.9"/>
<text x="601.8" y="496.5" font-size="6.6" text-anchor="end" transform="rotate(-45 601.8 496.5)">HEALTHY</text>
<line x1="623.9" y1="485.5" x2="623.9" y2="489.7" stroke="#2a2a2a" stroke-width="0.9"/>
<text x="626.1" y="496.1" font-size="6.6" text-anchor="end" transform="rotate(-45 626.1 496.1)">BC NW</text>
<line x1="645.6" y1="485.5" x2="645.6" y2="489.7" stroke="#2a2a2a" stroke-width="0.9"/>
<text x="647.6" y="496.1" font-size="6.6" text-anchor="end" transform="rotate(-45 647.6 496.1)">BC OW</text>
<line x1="667.5" y1="485.5" x2="667.5" y2="489.7" stroke="#2a2a2a" stroke-width="0.9"/>
<text x="670.1" y="496.1" font-size="6.6" text-anchor="end" transform="rotate(-45 670.1 496.1)">BC OB</text>
<text x="647.8" y="474.7" font-size="6.55" text-anchor="middle">normal values</text>
<text x="647.5" y="482" font-size="6.55" text-anchor="middle">(4-8)</text>
<rect x="27.1" y="630.2" width="95.1" height="23.3" fill="#ebecec" stroke="#c9c9c9" stroke-width="0.6"/>
<circle cx="39.52" cy="582.74" r="2.12" fill="#2b2792"/>
<circle cx="41.71" cy="582.74" r="2.12" fill="#2b2792"/>
<circle cx="40.69" cy="590.47" r="2.12" fill="#2b2792"/>
<circle cx="40.69" cy="593.25" r="2.12" fill="#2b2792"/>
<circle cx="40.69" cy="595.88" r="2.12" fill="#2b2792"/>
<circle cx="40.69" cy="605.36" r="2.12" fill="#2b2792"/>
<circle cx="38.79" cy="606.39" r="2.12" fill="#2b2792"/>
<circle cx="42.44" cy="606.39" r="2.12" fill="#2b2792"/>
<circle cx="40.69" cy="610.47" r="2.12" fill="#2b2792"/>
<circle cx="37.77" cy="612.66" r="2.12" fill="#2b2792"/>
<circle cx="43.61" cy="612.66" r="2.12" fill="#2b2792"/>
<circle cx="35.14" cy="614.42" r="2.12" fill="#2b2792"/>
<circle cx="40.69" cy="614.42" r="2.12" fill="#2b2792"/>
<circle cx="46.09" cy="614.42" r="2.12" fill="#2b2792"/>
<circle cx="37.77" cy="616.02" r="2.12" fill="#2b2792"/>
<circle cx="43.9" cy="616.02" r="2.12" fill="#2b2792"/>
<circle cx="40.69" cy="618.5" r="2.12" fill="#2b2792"/>
<circle cx="41.71" cy="621.42" r="2.12" fill="#2b2792"/>
<circle cx="45.36" cy="621.42" r="2.12" fill="#2b2792"/>
<circle cx="36.6" cy="622.88" r="2.12" fill="#2b2792"/>
<circle cx="35.14" cy="624.78" r="2.12" fill="#2b2792"/>
<circle cx="39.52" cy="624.78" r="2.12" fill="#2b2792"/>
<circle cx="43.9" cy="624.78" r="2.12" fill="#2b2792"/>
<circle cx="40.69" cy="627.26" r="2.12" fill="#2b2792"/>
<circle cx="38.79" cy="629.45" r="2.12" fill="#2b2792"/>
<circle cx="42.44" cy="629.45" r="2.12" fill="#2b2792"/>
<circle cx="40.69" cy="630.91" r="2.12" fill="#2b2792"/>
<circle cx="38.06" cy="637.48" r="2.12" fill="#2b2792"/>
<circle cx="43.17" cy="637.48" r="2.12" fill="#2b2792"/>
<circle cx="40.69" cy="639.38" r="2.12" fill="#2b2792"/>
<circle cx="41.27" cy="646.24" r="2.12" fill="#2b2792"/>
<circle cx="39.52" cy="647.26" r="2.12" fill="#2b2792"/>
<circle cx="62.44" cy="582.74" r="2.12" fill="#5cb83c"/>
<circle cx="57.04" cy="614.12" r="2.12" fill="#5cb83c"/>
<circle cx="58.79" cy="614.12" r="2.12" fill="#5cb83c"/>
<circle cx="60.54" cy="614.12" r="2.12" fill="#5cb83c"/>
<circle cx="62.29" cy="614.12" r="2.12" fill="#5cb83c"/>
<circle cx="64.04" cy="614.12" r="2.12" fill="#5cb83c"/>
<circle cx="65.8" cy="614.12" r="2.12" fill="#5cb83c"/>
<circle cx="67.55" cy="614.12" r="2.12" fill="#5cb83c"/>
<circle cx="57.04" cy="622.15" r="2.12" fill="#5cb83c"/>
<circle cx="58.79" cy="622.15" r="2.12" fill="#5cb83c"/>
<circle cx="60.54" cy="622.15" r="2.12" fill="#5cb83c"/>
<circle cx="62.29" cy="622.15" r="2.12" fill="#5cb83c"/>
<circle cx="64.04" cy="622.15" r="2.12" fill="#5cb83c"/>
<circle cx="65.8" cy="622.15" r="2.12" fill="#5cb83c"/>
<circle cx="67.55" cy="622.15" r="2.12" fill="#5cb83c"/>
<circle cx="59.23" cy="630.18" r="2.12" fill="#5cb83c"/>
<circle cx="61.12" cy="630.18" r="2.12" fill="#5cb83c"/>
<circle cx="63.17" cy="630.18" r="2.12" fill="#5cb83c"/>
<circle cx="65.07" cy="630.18" r="2.12" fill="#5cb83c"/>
<circle cx="57.04" cy="637.92" r="2.12" fill="#5cb83c"/>
<circle cx="58.79" cy="637.92" r="2.12" fill="#5cb83c"/>
<circle cx="60.54" cy="637.92" r="2.12" fill="#5cb83c"/>
<circle cx="62.29" cy="637.92" r="2.12" fill="#5cb83c"/>
<circle cx="64.04" cy="637.92" r="2.12" fill="#5cb83c"/>
<circle cx="65.8" cy="637.92" r="2.12" fill="#5cb83c"/>
<circle cx="67.55" cy="637.92" r="2.12" fill="#5cb83c"/>
<circle cx="61.12" cy="645.8" r="2.12" fill="#5cb83c"/>
<circle cx="63.61" cy="645.8" r="2.12" fill="#5cb83c"/>
<circle cx="62.44" cy="653.83" r="2.12" fill="#5cb83c"/>
<circle cx="80.69" cy="614.12" r="2.12" fill="#e8262b"/>
<circle cx="83.31" cy="614.12" r="2.12" fill="#e8262b"/>
<circle cx="85.94" cy="614.12" r="2.12" fill="#e8262b"/>
<circle cx="88.42" cy="614.12" r="2.12" fill="#e8262b"/>
<circle cx="82.58" cy="622.15" r="2.12" fill="#e8262b"/>
<circle cx="85.94" cy="622.15" r="2.12" fill="#e8262b"/>
<circle cx="78.93" cy="630.18" r="2.12" fill="#e8262b"/>
<circle cx="81.56" cy="630.18" r="2.12" fill="#e8262b"/>
<circle cx="84.34" cy="630.18" r="2.12" fill="#e8262b"/>
<circle cx="87.11" cy="630.18" r="2.12" fill="#e8262b"/>
<circle cx="89.59" cy="630.18" r="2.12" fill="#e8262b"/>
<circle cx="82.58" cy="637.92" r="2.12" fill="#e8262b"/>
<circle cx="86.23" cy="637.92" r="2.12" fill="#e8262b"/>
<circle cx="105.94" cy="590.47" r="2.12" fill="#111111"/>
<circle cx="105.94" cy="598.36" r="2.12" fill="#111111"/>
<circle cx="105.94" cy="606.39" r="2.12" fill="#111111"/>
<circle cx="102.29" cy="614.12" r="2.12" fill="#111111"/>
<circle cx="104.92" cy="614.12" r="2.12" fill="#111111"/>
<circle cx="107.55" cy="614.12" r="2.12" fill="#111111"/>
<circle cx="110.18" cy="614.12" r="2.12" fill="#111111"/>
<circle cx="105.94" cy="622.15" r="2.12" fill="#111111"/>
<circle cx="100.83" cy="630.18" r="2.12" fill="#111111"/>
<circle cx="103.46" cy="630.18" r="2.12" fill="#111111"/>
<circle cx="106.09" cy="630.18" r="2.12" fill="#111111"/>
<circle cx="108.72" cy="630.18" r="2.12" fill="#111111"/>
<circle cx="111.34" cy="630.18" r="2.12" fill="#111111"/>
<circle cx="104.92" cy="637.92" r="2.12" fill="#111111"/>
<circle cx="107.4" cy="637.92" r="2.12" fill="#111111"/>
<text x="65" y="548.3" font-size="7.8" text-anchor="middle">SFA/MUFA</text>
<line x1="27.1" y1="566.4" x2="27.1" y2="661.75" stroke="#2a2a2a" stroke-width="1"/>
<line x1="26.65" y1="661.3" x2="122.2" y2="661.3" stroke="#2a2a2a" stroke-width="1"/>
<line x1="23.1" y1="566.8" x2="27.1" y2="566.8" stroke="#2a2a2a" stroke-width="0.9"/>
<text x="22.6" y="569.15" font-size="6.7" text-anchor="end">2.8</text>
<line x1="23.1" y1="582.55" x2="27.1" y2="582.55" stroke="#2a2a2a" stroke-width="0.9"/>
<text x="22.6" y="584.9" font-size="6.7" text-anchor="end">2.6</text>
<line x1="23.1" y1="598.3" x2="27.1" y2="598.3" stroke="#2a2a2a" stroke-width="0.9"/>
<text x="22.6" y="600.65" font-size="6.7" text-anchor="end">2.4</text>
<line x1="23.1" y1="614.05" x2="27.1" y2="614.05" stroke="#2a2a2a" stroke-width="0.9"/>
<text x="22.6" y="616.4" font-size="6.7" text-anchor="end">2.2</text>
<line x1="23.1" y1="629.8" x2="27.1" y2="629.8" stroke="#2a2a2a" stroke-width="0.9"/>
<text x="22.6" y="632.15" font-size="6.7" text-anchor="end">2.0</text>
<line x1="23.1" y1="645.55" x2="27.1" y2="645.55" stroke="#2a2a2a" stroke-width="0.9"/>
<text x="22.6" y="647.9" font-size="6.7" text-anchor="end">1.8</text>
<line x1="23.1" y1="661.3" x2="27.1" y2="661.3" stroke="#2a2a2a" stroke-width="0.9"/>
<text x="22.6" y="663.65" font-size="6.7" text-anchor="end">1.6</text>
<text x="6.7" y="609" font-size="7.7" text-anchor="middle" transform="rotate(-90 6.7 609)">% Rel Quant.</text>
<line x1="40.7" y1="661.3" x2="40.7" y2="665.5" stroke="#2a2a2a" stroke-width="0.9"/>
<text x="42.5" y="671.9" font-size="6.6" text-anchor="end" transform="rotate(-45 42.5 671.9)">HEALTHY</text>
<line x1="62.4" y1="661.3" x2="62.4" y2="665.5" stroke="#2a2a2a" stroke-width="0.9"/>
<text x="66.4" y="671.1" font-size="6.6" text-anchor="end" transform="rotate(-45 66.4 671.1)">BC NW</text>
<line x1="84.5" y1="661.3" x2="84.5" y2="665.5" stroke="#2a2a2a" stroke-width="0.9"/>
<text x="87.9" y="671.1" font-size="6.6" text-anchor="end" transform="rotate(-45 87.9 671.1)">BC OW</text>
<line x1="105.9" y1="661.3" x2="105.9" y2="665.5" stroke="#2a2a2a" stroke-width="0.9"/>
<text x="110.4" y="671.1" font-size="6.6" text-anchor="end" transform="rotate(-45 110.4 671.1)">BC OB</text>
<text x="93.8" y="644.5" font-size="6.55" text-anchor="middle">normal values</text>
<text x="86.7" y="653.3" font-size="6.55" text-anchor="middle">(1.7-2)</text>
<path d="M38.8 576.9 V572.5 H60.7 V576.9" fill="none" stroke="#2a2a2a" stroke-width="0.95"/>
<path d="M49.7 564.28 L49.7 568.52 M47.86 565.34 L51.54 567.46 M51.54 565.34 L47.86 567.46" stroke="#1a1a1a" stroke-width="0.95" fill="none"/>
<rect x="171.6" y="613.2" width="93.9" height="18.3" fill="#ebecec" stroke="#c9c9c9" stroke-width="0.6"/>
<circle cx="185.54" cy="588.39" r="2.12" fill="#2b2792"/>
<circle cx="186.71" cy="592.04" r="2.12" fill="#2b2792"/>
<circle cx="184.52" cy="593.5" r="2.12" fill="#2b2792"/>
<circle cx="185.54" cy="598.61" r="2.12" fill="#2b2792"/>
<circle cx="185.54" cy="601.53" r="2.12" fill="#2b2792"/>
<circle cx="185.54" cy="604.45" r="2.12" fill="#2b2792"/>
<circle cx="180.87" cy="606.93" r="2.12" fill="#2b2792"/>
<circle cx="185.54" cy="606.93" r="2.12" fill="#2b2792"/>
<circle cx="183.06" cy="609.26" r="2.12" fill="#2b2792"/>
<circle cx="188.17" cy="609.26" r="2.12" fill="#2b2792"/>
<circle cx="190.36" cy="609.26" r="2.12" fill="#2b2792"/>
<circle cx="185.54" cy="611.74" r="2.12" fill="#2b2792"/>
<circle cx="181.6" cy="614.23" r="2.12" fill="#2b2792"/>
<circle cx="186.71" cy="614.23" r="2.12" fill="#2b2792"/>
<circle cx="190.36" cy="614.23" r="2.12" fill="#2b2792"/>
<circle cx="179.41" cy="616.12" r="2.12" fill="#2b2792"/>
<circle cx="184.52" cy="616.12" r="2.12" fill="#2b2792"/>
<circle cx="188.9" cy="616.12" r="2.12" fill="#2b2792"/>
<circle cx="182.33" cy="618.31" r="2.12" fill="#2b2792"/>
<circle cx="187.44" cy="618.31" r="2.12" fill="#2b2792"/>
<circle cx="191.09" cy="618.31" r="2.12" fill="#2b2792"/>
<circle cx="180.14" cy="620.5" r="2.12" fill="#2b2792"/>
<circle cx="185.25" cy="620.5" r="2.12" fill="#2b2792"/>
<circle cx="183.06" cy="622.69" r="2.12" fill="#2b2792"/>
<circle cx="188.17" cy="622.69" r="2.12" fill="#2b2792"/>
<circle cx="190.36" cy="622.69" r="2.12" fill="#2b2792"/>
<circle cx="180.87" cy="624.88" r="2.12" fill="#2b2792"/>
<circle cx="185.98" cy="624.88" r="2.12" fill="#2b2792"/>
<circle cx="179.41" cy="627.07" r="2.12" fill="#2b2792"/>
<circle cx="183.79" cy="627.07" r="2.12" fill="#2b2792"/>
<circle cx="188.9" cy="627.07" r="2.12" fill="#2b2792"/>
<circle cx="191.09" cy="627.07" r="2.12" fill="#2b2792"/>
<circle cx="181.6" cy="629.26" r="2.12" fill="#2b2792"/>
<circle cx="186.71" cy="629.26" r="2.12" fill="#2b2792"/>
<circle cx="184.52" cy="631.45" r="2.12" fill="#2b2792"/>
<circle cx="188.9" cy="631.45" r="2.12" fill="#2b2792"/>
<circle cx="185.54" cy="634.37" r="2.12" fill="#2b2792"/>
<circle cx="185.54" cy="644.59" r="2.12" fill="#2b2792"/>
<circle cx="207.44" cy="593.79" r="2.12" fill="#5cb83c"/>
<circle cx="206.12" cy="599.77" r="2.12" fill="#5cb83c"/>
<circle cx="208.61" cy="599.77" r="2.12" fill="#5cb83c"/>
<circle cx="202.04" cy="604.45" r="2.12" fill="#5cb83c"/>
<circle cx="204.96" cy="604.45" r="2.12" fill="#5cb83c"/>
<circle cx="207.44" cy="605.91" r="2.12" fill="#5cb83c"/>
<circle cx="210.07" cy="605.91" r="2.12" fill="#5cb83c"/>
<circle cx="211.53" cy="607.36" r="2.12" fill="#5cb83c"/>
<circle cx="204.66" cy="608.39" r="2.12" fill="#5cb83c"/>
<circle cx="207.44" cy="609.55" r="2.12" fill="#5cb83c"/>
<circle cx="203.5" cy="613.2" r="2.12" fill="#5cb83c"/>
<circle cx="206.42" cy="613.2" r="2.12" fill="#5cb83c"/>
<circle cx="210.8" cy="613.93" r="2.12" fill="#5cb83c"/>
<circle cx="207.44" cy="616.56" r="2.12" fill="#5cb83c"/>
<circle cx="204.66" cy="619.04" r="2.12" fill="#5cb83c"/>
<circle cx="203.5" cy="620.94" r="2.12" fill="#5cb83c"/>
<circle cx="206.42" cy="622.69" r="2.12" fill="#5cb83c"/>
<circle cx="209.34" cy="624.45" r="2.12" fill="#5cb83c"/>
<circle cx="204.66" cy="626.78" r="2.12" fill="#5cb83c"/>
<circle cx="210.8" cy="628.09" r="2.12" fill="#5cb83c"/>
<circle cx="207.15" cy="629.26" r="2.12" fill="#5cb83c"/>
<circle cx="209.34" cy="630.72" r="2.12" fill="#5cb83c"/>
<circle cx="205.25" cy="632.18" r="2.12" fill="#5cb83c"/>
<circle cx="208.61" cy="632.91" r="2.12" fill="#5cb83c"/>
<circle cx="227.58" cy="594.96" r="2.12" fill="#e8262b"/>
<circle cx="230.94" cy="594.96" r="2.12" fill="#e8262b"/>
<circle cx="227.58" cy="603.42" r="2.12" fill="#e8262b"/>
<circle cx="230.94" cy="603.42" r="2.12" fill="#e8262b"/>
<circle cx="229.34" cy="612.77" r="2.12" fill="#e8262b"/>
<circle cx="223.93" cy="618.61" r="2.12" fill="#e8262b"/>
<circle cx="234.45" cy="619.77" r="2.12" fill="#e8262b"/>
<circle cx="227.15" cy="620.8" r="2.12" fill="#e8262b"/>
<circle cx="231.23" cy="620.8" r="2.12" fill="#e8262b"/>
<circle cx="230.8" cy="623.86" r="2.12" fill="#e8262b"/>
<circle cx="229.34" cy="629.7" r="2.12" fill="#e8262b"/>
<circle cx="250.94" cy="573.06" r="2.12" fill="#111111"/>
<circle cx="250.94" cy="591.31" r="2.12" fill="#111111"/>
<circle cx="248.02" cy="600.5" r="2.12" fill="#111111"/>
<circle cx="253.86" cy="600.5" r="2.12" fill="#111111"/>
<circle cx="250.94" cy="606.34" r="2.12" fill="#111111"/>
<circle cx="245.83" cy="608.82" r="2.12" fill="#111111"/>
<circle cx="251.38" cy="609.55" r="2.12" fill="#111111"/>
<circle cx="256.34" cy="612.91" r="2.12" fill="#111111"/>
<circle cx="250.94" cy="615.69" r="2.12" fill="#111111"/>
<circle cx="248.02" cy="622.4" r="2.12" fill="#111111"/>
<circle cx="253.86" cy="622.4" r="2.12" fill="#111111"/>
<circle cx="253.86" cy="629.7" r="2.12" fill="#111111"/>
<circle cx="248.02" cy="631.89" r="2.12" fill="#111111"/>
<text x="220.4" y="550.4" font-size="7.8" text-anchor="middle">omega 6/omega 3</text>
<line x1="171.6" y1="567.9" x2="171.6" y2="663.05" stroke="#2a2a2a" stroke-width="1"/>
<line x1="171.15" y1="662.6" x2="265.8" y2="662.6" stroke="#2a2a2a" stroke-width="1"/>
<line x1="167.6" y1="568.3" x2="171.6" y2="568.3" stroke="#2a2a2a" stroke-width="0.9"/>
<text x="167.1" y="570.65" font-size="6.7" text-anchor="end">10</text>
<line x1="167.6" y1="587.16" x2="171.6" y2="587.16" stroke="#2a2a2a" stroke-width="0.9"/>
<text x="167.1" y="589.51" font-size="6.7" text-anchor="end">8</text>
<line x1="167.6" y1="606.02" x2="171.6" y2="606.02" stroke="#2a2a2a" stroke-width="0.9"/>
<text x="167.1" y="608.37" font-size="6.7" text-anchor="end">6</text>
<line x1="167.6" y1="624.88" x2="171.6" y2="624.88" stroke="#2a2a2a" stroke-width="0.9"/>
<text x="167.1" y="627.23" font-size="6.7" text-anchor="end">4</text>
<line x1="167.6" y1="643.74" x2="171.6" y2="643.74" stroke="#2a2a2a" stroke-width="0.9"/>
<text x="167.1" y="646.09" font-size="6.7" text-anchor="end">2</text>
<line x1="167.6" y1="662.6" x2="171.6" y2="662.6" stroke="#2a2a2a" stroke-width="0.9"/>
<text x="167.1" y="664.95" font-size="6.7" text-anchor="end">0</text>
<text x="150.5" y="603.7" font-size="7.7" text-anchor="middle" transform="rotate(-90 150.5 603.7)">% Rel Quant.</text>
<line x1="185.5" y1="662.6" x2="185.5" y2="666.8" stroke="#2a2a2a" stroke-width="0.9"/>
<text x="186" y="674.1" font-size="6.6" text-anchor="end" transform="rotate(-45 186 674.1)">HEALTHY</text>
<line x1="207.4" y1="662.6" x2="207.4" y2="666.8" stroke="#2a2a2a" stroke-width="0.9"/>
<text x="209.6" y="673" font-size="6.6" text-anchor="end" transform="rotate(-45 209.6 673)">BC NW</text>
<line x1="229.3" y1="662.6" x2="229.3" y2="666.8" stroke="#2a2a2a" stroke-width="0.9"/>
<text x="231" y="673" font-size="6.6" text-anchor="end" transform="rotate(-45 231 673)">BC OW</text>
<line x1="250.9" y1="662.6" x2="250.9" y2="666.8" stroke="#2a2a2a" stroke-width="0.9"/>
<text x="253.5" y="673" font-size="6.6" text-anchor="end" transform="rotate(-45 253.5 673)">BC OB</text>
<text x="234.4" y="645.3" font-size="6.55" text-anchor="middle">normal values</text>
<text x="232.7" y="654.1" font-size="6.55" text-anchor="middle">(3.5-5.5)</text>
<rect x="313.4" y="580.1" width="92.7" height="58.4" fill="#ebecec" stroke="#c9c9c9" stroke-width="0.6"/>
<circle cx="326.79" cy="586.2" r="2.12" fill="#2b2792"/>
<circle cx="328.98" cy="586.2" r="2.12" fill="#2b2792"/>
<circle cx="327.81" cy="590.58" r="2.12" fill="#2b2792"/>
<circle cx="327.81" cy="593.5" r="2.12" fill="#2b2792"/>
<circle cx="324.6" cy="595.98" r="2.12" fill="#2b2792"/>
<circle cx="326.79" cy="595.98" r="2.12" fill="#2b2792"/>
<circle cx="328.98" cy="595.98" r="2.12" fill="#2b2792"/>
<circle cx="331.17" cy="595.98" r="2.12" fill="#2b2792"/>
<circle cx="329.71" cy="600.5" r="2.12" fill="#2b2792"/>
<circle cx="326.79" cy="603.72" r="2.12" fill="#2b2792"/>
<circle cx="330.44" cy="604.88" r="2.12" fill="#2b2792"/>
<circle cx="324.6" cy="607.36" r="2.12" fill="#2b2792"/>
<circle cx="327.81" cy="607.36" r="2.12" fill="#2b2792"/>
<circle cx="331.17" cy="608.82" r="2.12" fill="#2b2792"/>
<circle cx="327.81" cy="611.01" r="2.12" fill="#2b2792"/>
<circle cx="329.71" cy="611.01" r="2.12" fill="#2b2792"/>
<circle cx="332.63" cy="612.18" r="2.12" fill="#2b2792"/>
<circle cx="323.87" cy="614.23" r="2.12" fill="#2b2792"/>
<circle cx="326.06" cy="614.23" r="2.12" fill="#2b2792"/>
<circle cx="331.61" cy="614.23" r="2.12" fill="#2b2792"/>
<circle cx="328.98" cy="615.39" r="2.12" fill="#2b2792"/>
<circle cx="324.6" cy="617.58" r="2.12" fill="#2b2792"/>
<circle cx="327.81" cy="617.58" r="2.12" fill="#2b2792"/>
<circle cx="330.44" cy="619.04" r="2.12" fill="#2b2792"/>
<circle cx="326.06" cy="620.07" r="2.12" fill="#2b2792"/>
<circle cx="333.36" cy="620.07" r="2.12" fill="#2b2792"/>
<circle cx="322.41" cy="621.96" r="2.12" fill="#2b2792"/>
<circle cx="328.25" cy="621.96" r="2.12" fill="#2b2792"/>
<circle cx="324.6" cy="623.42" r="2.12" fill="#2b2792"/>
<circle cx="330.44" cy="623.42" r="2.12" fill="#2b2792"/>
<circle cx="327.52" cy="624.88" r="2.12" fill="#2b2792"/>
<circle cx="327.81" cy="628.53" r="2.12" fill="#2b2792"/>
<circle cx="327.81" cy="633.64" r="2.12" fill="#2b2792"/>
<circle cx="349.71" cy="567.51" r="2.12" fill="#5cb83c"/>
<circle cx="349.71" cy="605.18" r="2.12" fill="#5cb83c"/>
<circle cx="344.31" cy="614.96" r="2.12" fill="#5cb83c"/>
<circle cx="345.77" cy="614.96" r="2.12" fill="#5cb83c"/>
<circle cx="347.23" cy="614.96" r="2.12" fill="#5cb83c"/>
<circle cx="348.69" cy="614.96" r="2.12" fill="#5cb83c"/>
<circle cx="350.15" cy="614.96" r="2.12" fill="#5cb83c"/>
<circle cx="351.61" cy="614.96" r="2.12" fill="#5cb83c"/>
<circle cx="353.07" cy="614.96" r="2.12" fill="#5cb83c"/>
<circle cx="354.96" cy="614.96" r="2.12" fill="#5cb83c"/>
<circle cx="345.77" cy="624.15" r="2.12" fill="#5cb83c"/>
<circle cx="347.23" cy="624.15" r="2.12" fill="#5cb83c"/>
<circle cx="348.69" cy="624.15" r="2.12" fill="#5cb83c"/>
<circle cx="350.15" cy="624.15" r="2.12" fill="#5cb83c"/>
<circle cx="351.61" cy="624.15" r="2.12" fill="#5cb83c"/>
<circle cx="353.36" cy="624.15" r="2.12" fill="#5cb83c"/>
<circle cx="348.69" cy="633.64" r="2.12" fill="#5cb83c"/>
<circle cx="350.88" cy="633.64" r="2.12" fill="#5cb83c"/>
<circle cx="370.15" cy="605.18" r="2.12" fill="#e8262b"/>
<circle cx="373.07" cy="605.18" r="2.12" fill="#e8262b"/>
<circle cx="366.2" cy="614.96" r="2.12" fill="#e8262b"/>
<circle cx="368.39" cy="614.96" r="2.12" fill="#e8262b"/>
<circle cx="370.58" cy="614.96" r="2.12" fill="#e8262b"/>
<circle cx="372.77" cy="614.96" r="2.12" fill="#e8262b"/>
<circle cx="374.96" cy="614.96" r="2.12" fill="#e8262b"/>
<circle cx="376.86" cy="614.96" r="2.12" fill="#e8262b"/>
<circle cx="367.66" cy="624.15" r="2.12" fill="#e8262b"/>
<circle cx="369.85" cy="624.15" r="2.12" fill="#e8262b"/>
<circle cx="372.04" cy="624.15" r="2.12" fill="#e8262b"/>
<circle cx="374.23" cy="624.15" r="2.12" fill="#e8262b"/>
<circle cx="375.69" cy="624.15" r="2.12" fill="#e8262b"/>
<circle cx="393.5" cy="586.49" r="2.12" fill="#111111"/>
<circle cx="392.04" cy="595.98" r="2.12" fill="#111111"/>
<circle cx="394.96" cy="595.98" r="2.12" fill="#111111"/>
<circle cx="392.48" cy="614.96" r="2.12" fill="#111111"/>
<circle cx="394.67" cy="614.96" r="2.12" fill="#111111"/>
<circle cx="388.1" cy="624.15" r="2.12" fill="#111111"/>
<circle cx="389.85" cy="624.15" r="2.12" fill="#111111"/>
<circle cx="391.61" cy="624.15" r="2.12" fill="#111111"/>
<circle cx="393.36" cy="624.15" r="2.12" fill="#111111"/>
<circle cx="395.11" cy="624.15" r="2.12" fill="#111111"/>
<circle cx="396.86" cy="624.15" r="2.12" fill="#111111"/>
<circle cx="398.61" cy="624.15" r="2.12" fill="#111111"/>
<text x="360.9" y="550.4" font-size="7.8" text-anchor="middle">Saturation index (a)</text>
<line x1="313.4" y1="567" x2="313.4" y2="662.35" stroke="#2a2a2a" stroke-width="1"/>
<line x1="312.95" y1="661.9" x2="408.1" y2="661.9" stroke="#2a2a2a" stroke-width="1"/>
<line x1="309.4" y1="567.4" x2="313.4" y2="567.4" stroke="#2a2a2a" stroke-width="0.9"/>
<text x="308.9" y="569.75" font-size="6.7" text-anchor="end">1.5</text>
<line x1="309.4" y1="614.65" x2="313.4" y2="614.65" stroke="#2a2a2a" stroke-width="0.9"/>
<text x="308.9" y="617" font-size="6.7" text-anchor="end">1.0</text>
<line x1="309.4" y1="661.9" x2="313.4" y2="661.9" stroke="#2a2a2a" stroke-width="0.9"/>
<text x="308.9" y="664.25" font-size="6.7" text-anchor="end">0.5</text>
<text x="293.6" y="604.9" font-size="7.7" text-anchor="middle" transform="rotate(-90 293.6 604.9)">% Rel Quant.</text>
<line x1="327.8" y1="661.9" x2="327.8" y2="666.1" stroke="#2a2a2a" stroke-width="0.9"/>
<text x="328.8" y="673.1" font-size="6.6" text-anchor="end" transform="rotate(-45 328.8 673.1)">HEALTHY</text>
<line x1="349.6" y1="661.9" x2="349.6" y2="666.1" stroke="#2a2a2a" stroke-width="0.9"/>
<text x="352.3" y="672.5" font-size="6.6" text-anchor="end" transform="rotate(-45 352.3 672.5)">BC NW</text>
<line x1="371.4" y1="661.9" x2="371.4" y2="666.1" stroke="#2a2a2a" stroke-width="0.9"/>
<text x="373.7" y="672.5" font-size="6.6" text-anchor="end" transform="rotate(-45 373.7 672.5)">BC OW</text>
<line x1="393.4" y1="661.9" x2="393.4" y2="666.1" stroke="#2a2a2a" stroke-width="0.9"/>
<text x="396.2" y="672.5" font-size="6.6" text-anchor="end" transform="rotate(-45 396.2 672.5)">BC OB</text>
<text x="377.2" y="646.1" font-size="6.55" text-anchor="middle">normal values</text>
<text x="371.3" y="653.1" font-size="6.55" text-anchor="middle">(0.7-1.3)</text>
<rect x="456.2" y="613.2" width="91.6" height="33.1" fill="#ebecec" stroke="#c9c9c9" stroke-width="0.6"/>
<circle cx="469.69" cy="574.23" r="2.12" fill="#2b2792"/>
<circle cx="469.69" cy="592.77" r="2.12" fill="#2b2792"/>
<circle cx="469.69" cy="613.93" r="2.12" fill="#2b2792"/>
<circle cx="470.71" cy="615.69" r="2.12" fill="#2b2792"/>
<circle cx="469.69" cy="618.02" r="2.12" fill="#2b2792"/>
<circle cx="471.15" cy="620.07" r="2.12" fill="#2b2792"/>
<circle cx="467.79" cy="621.96" r="2.12" fill="#2b2792"/>
<circle cx="469.69" cy="624.15" r="2.12" fill="#2b2792"/>
<circle cx="469.69" cy="626.78" r="2.12" fill="#2b2792"/>
<circle cx="469.69" cy="629.26" r="2.12" fill="#2b2792"/>
<circle cx="468.52" cy="631.16" r="2.12" fill="#2b2792"/>
<circle cx="471.15" cy="631.16" r="2.12" fill="#2b2792"/>
<circle cx="463.85" cy="632.91" r="2.12" fill="#2b2792"/>
<circle cx="465.6" cy="632.91" r="2.12" fill="#2b2792"/>
<circle cx="467.35" cy="632.91" r="2.12" fill="#2b2792"/>
<circle cx="469.1" cy="632.91" r="2.12" fill="#2b2792"/>
<circle cx="470.85" cy="632.91" r="2.12" fill="#2b2792"/>
<circle cx="472.61" cy="632.91" r="2.12" fill="#2b2792"/>
<circle cx="474.36" cy="632.91" r="2.12" fill="#2b2792"/>
<circle cx="475.53" cy="632.91" r="2.12" fill="#2b2792"/>
<circle cx="469.69" cy="635.1" r="2.12" fill="#2b2792"/>
<circle cx="468.52" cy="637" r="2.12" fill="#2b2792"/>
<circle cx="471.44" cy="637" r="2.12" fill="#2b2792"/>
<circle cx="469.69" cy="639.48" r="2.12" fill="#2b2792"/>
<circle cx="469.69" cy="643.13" r="2.12" fill="#2b2792"/>
<circle cx="469.69" cy="648.68" r="2.12" fill="#2b2792"/>
<circle cx="491.44" cy="598.61" r="2.12" fill="#5cb83c"/>
<circle cx="491.44" cy="603.72" r="2.12" fill="#5cb83c"/>
<circle cx="490.12" cy="605.91" r="2.12" fill="#5cb83c"/>
<circle cx="492.9" cy="605.91" r="2.12" fill="#5cb83c"/>
<circle cx="489.25" cy="608.82" r="2.12" fill="#5cb83c"/>
<circle cx="494.07" cy="610.28" r="2.12" fill="#5cb83c"/>
<circle cx="491.44" cy="611.31" r="2.12" fill="#5cb83c"/>
<circle cx="486.77" cy="616.85" r="2.12" fill="#5cb83c"/>
<circle cx="488.96" cy="616.85" r="2.12" fill="#5cb83c"/>
<circle cx="491.15" cy="616.85" r="2.12" fill="#5cb83c"/>
<circle cx="493.34" cy="616.85" r="2.12" fill="#5cb83c"/>
<circle cx="495.53" cy="616.85" r="2.12" fill="#5cb83c"/>
<circle cx="487.79" cy="620.5" r="2.12" fill="#5cb83c"/>
<circle cx="490.42" cy="620.5" r="2.12" fill="#5cb83c"/>
<circle cx="493.34" cy="620.5" r="2.12" fill="#5cb83c"/>
<circle cx="495.53" cy="620.5" r="2.12" fill="#5cb83c"/>
<circle cx="486.04" cy="622.69" r="2.12" fill="#5cb83c"/>
<circle cx="489.25" cy="622.69" r="2.12" fill="#5cb83c"/>
<circle cx="492.61" cy="622.69" r="2.12" fill="#5cb83c"/>
<circle cx="496.26" cy="622.69" r="2.12" fill="#5cb83c"/>
<circle cx="485.31" cy="625.18" r="2.12" fill="#5cb83c"/>
<circle cx="488.23" cy="625.18" r="2.12" fill="#5cb83c"/>
<circle cx="491.15" cy="625.18" r="2.12" fill="#5cb83c"/>
<circle cx="494.07" cy="625.18" r="2.12" fill="#5cb83c"/>
<circle cx="496.99" cy="625.18" r="2.12" fill="#5cb83c"/>
<circle cx="489.25" cy="627.07" r="2.12" fill="#5cb83c"/>
<circle cx="492.61" cy="627.07" r="2.12" fill="#5cb83c"/>
<circle cx="490.71" cy="629.55" r="2.12" fill="#5cb83c"/>
<circle cx="490.12" cy="632.18" r="2.12" fill="#5cb83c"/>
<circle cx="493.04" cy="632.18" r="2.12" fill="#5cb83c"/>
<circle cx="492.61" cy="635.54" r="2.12" fill="#5cb83c"/>
<circle cx="490.12" cy="638.46" r="2.12" fill="#5cb83c"/>
<circle cx="513.34" cy="601.09" r="2.12" fill="#e8262b"/>
<circle cx="518.88" cy="607.36" r="2.12" fill="#e8262b"/>
<circle cx="507.93" cy="608.39" r="2.12" fill="#e8262b"/>
<circle cx="513.34" cy="609.85" r="2.12" fill="#e8262b"/>
<circle cx="510.56" cy="624.59" r="2.12" fill="#e8262b"/>
<circle cx="515.96" cy="624.59" r="2.12" fill="#e8262b"/>
<circle cx="513.34" cy="630.28" r="2.12" fill="#e8262b"/>
<circle cx="507.93" cy="633.2" r="2.12" fill="#e8262b"/>
<circle cx="518.88" cy="634.08" r="2.12" fill="#e8262b"/>
<circle cx="515.96" cy="641.38" r="2.12" fill="#e8262b"/>
<circle cx="510.56" cy="642.84" r="2.12" fill="#e8262b"/>
<circle cx="534.94" cy="609.26" r="2.12" fill="#111111"/>
<circle cx="531" cy="618.02" r="2.12" fill="#111111"/>
<circle cx="533.48" cy="618.02" r="2.12" fill="#111111"/>
<circle cx="539.32" cy="619.77" r="2.12" fill="#111111"/>
<circle cx="536.4" cy="620.94" r="2.12" fill="#111111"/>
<circle cx="534.94" cy="627.51" r="2.12" fill="#111111"/>
<circle cx="537.86" cy="627.51" r="2.12" fill="#111111"/>
<circle cx="529.83" cy="628.53" r="2.12" fill="#111111"/>
<circle cx="540.05" cy="628.53" r="2.12" fill="#111111"/>
<circle cx="532.46" cy="630.43" r="2.12" fill="#111111"/>
<circle cx="535.67" cy="631.74" r="2.12" fill="#111111"/>
<circle cx="537.86" cy="631.74" r="2.12" fill="#111111"/>
<circle cx="534.94" cy="636.85" r="2.12" fill="#111111"/>
<text x="507" y="550.4" font-size="7.8" text-anchor="middle">Saturation index (b)</text>
<line x1="456.2" y1="566.1" x2="456.2" y2="661.05" stroke="#2a2a2a" stroke-width="1"/>
<line x1="455.75" y1="660.6" x2="549.7" y2="660.6" stroke="#2a2a2a" stroke-width="1"/>
<line x1="452.2" y1="566.5" x2="456.2" y2="566.5" stroke="#2a2a2a" stroke-width="0.9"/>
<text x="451.7" y="568.85" font-size="6.7" text-anchor="end">250</text>
<line x1="452.2" y1="585.32" x2="456.2" y2="585.32" stroke="#2a2a2a" stroke-width="0.9"/>
<text x="451.7" y="587.67" font-size="6.7" text-anchor="end">200</text>
<line x1="452.2" y1="604.14" x2="456.2" y2="604.14" stroke="#2a2a2a" stroke-width="0.9"/>
<text x="451.7" y="606.49" font-size="6.7" text-anchor="end">150</text>
<line x1="452.2" y1="622.96" x2="456.2" y2="622.96" stroke="#2a2a2a" stroke-width="0.9"/>
<text x="451.7" y="625.31" font-size="6.7" text-anchor="end">100</text>
<line x1="452.2" y1="641.78" x2="456.2" y2="641.78" stroke="#2a2a2a" stroke-width="0.9"/>
<text x="451.7" y="644.13" font-size="6.7" text-anchor="end">50</text>
<line x1="452.2" y1="660.6" x2="456.2" y2="660.6" stroke="#2a2a2a" stroke-width="0.9"/>
<text x="451.7" y="662.95" font-size="6.7" text-anchor="end">0</text>
<text x="434.7" y="604.9" font-size="7.7" text-anchor="middle" transform="rotate(-90 434.7 604.9)">% Rel Quant.</text>
<line x1="469.5" y1="660.6" x2="469.5" y2="664.8" stroke="#2a2a2a" stroke-width="0.9"/>
<text x="470.3" y="671.4" font-size="6.6" text-anchor="end" transform="rotate(-45 470.3 671.4)">HEALTHY</text>
<line x1="491.4" y1="660.6" x2="491.4" y2="664.8" stroke="#2a2a2a" stroke-width="0.9"/>
<text x="493.8" y="670.8" font-size="6.6" text-anchor="end" transform="rotate(-45 493.8 670.8)">BC NW</text>
<line x1="513.5" y1="660.6" x2="513.5" y2="664.8" stroke="#2a2a2a" stroke-width="0.9"/>
<text x="515.6" y="670.8" font-size="6.6" text-anchor="end" transform="rotate(-45 515.6 670.8)">BC OW</text>
<line x1="534.9" y1="660.6" x2="534.9" y2="664.8" stroke="#2a2a2a" stroke-width="0.9"/>
<text x="537.7" y="670.8" font-size="6.6" text-anchor="end" transform="rotate(-45 537.7 670.8)">BC OB</text>
<text x="515.2" y="585.9" font-size="6.55" text-anchor="middle">normal values</text>
<text x="517.9" y="597.4" font-size="6.55" text-anchor="middle">(45-132)</text>
<path d="M468.5 571.6 V566.5 H482.4 V571.6" fill="none" stroke="#2a2a2a" stroke-width="0.95"/>
<path d="M475.8 557.78 L475.8 562.02 M473.96 558.84 L477.64 560.96 M477.64 558.84 L473.96 560.96" stroke="#1a1a1a" stroke-width="0.95" fill="none"/>
<rect x="30.1" y="804.3" width="92.7" height="13.2" fill="#ebecec" stroke="#c9c9c9" stroke-width="0.6"/>
<circle cx="44.42" cy="781.12" r="2.12" fill="#2b2792"/>
<circle cx="43.69" cy="783.61" r="2.12" fill="#2b2792"/>
<circle cx="45.73" cy="783.61" r="2.12" fill="#2b2792"/>
<circle cx="42.52" cy="787.99" r="2.12" fill="#2b2792"/>
<circle cx="46.17" cy="787.99" r="2.12" fill="#2b2792"/>
<circle cx="44.42" cy="790.91" r="2.12" fill="#2b2792"/>
<circle cx="42.52" cy="793.09" r="2.12" fill="#2b2792"/>
<circle cx="45.44" cy="793.09" r="2.12" fill="#2b2792"/>
<circle cx="41.06" cy="795.28" r="2.12" fill="#2b2792"/>
<circle cx="43.98" cy="795.28" r="2.12" fill="#2b2792"/>
<circle cx="46.9" cy="795.28" r="2.12" fill="#2b2792"/>
<circle cx="42.52" cy="797.47" r="2.12" fill="#2b2792"/>
<circle cx="45.44" cy="797.47" r="2.12" fill="#2b2792"/>
<circle cx="48.36" cy="797.47" r="2.12" fill="#2b2792"/>
<circle cx="38.87" cy="799.66" r="2.12" fill="#2b2792"/>
<circle cx="41.35" cy="799.66" r="2.12" fill="#2b2792"/>
<circle cx="43.98" cy="799.66" r="2.12" fill="#2b2792"/>
<circle cx="46.61" cy="799.66" r="2.12" fill="#2b2792"/>
<circle cx="49.82" cy="799.66" r="2.12" fill="#2b2792"/>
<circle cx="40.33" cy="801.85" r="2.12" fill="#2b2792"/>
<circle cx="43.25" cy="801.85" r="2.12" fill="#2b2792"/>
<circle cx="46.17" cy="801.85" r="2.12" fill="#2b2792"/>
<circle cx="41.79" cy="804.04" r="2.12" fill="#2b2792"/>
<circle cx="44.71" cy="804.04" r="2.12" fill="#2b2792"/>
<circle cx="46.9" cy="804.04" r="2.12" fill="#2b2792"/>
<circle cx="42.52" cy="806.23" r="2.12" fill="#2b2792"/>
<circle cx="45.44" cy="806.23" r="2.12" fill="#2b2792"/>
<circle cx="41.35" cy="808.42" r="2.12" fill="#2b2792"/>
<circle cx="44.27" cy="808.42" r="2.12" fill="#2b2792"/>
<circle cx="46.9" cy="808.42" r="2.12" fill="#2b2792"/>
<circle cx="43.25" cy="810.61" r="2.12" fill="#2b2792"/>
<circle cx="45.44" cy="810.61" r="2.12" fill="#2b2792"/>
<circle cx="44.42" cy="816.89" r="2.12" fill="#2b2792"/>
<circle cx="66.17" cy="769.74" r="2.12" fill="#5cb83c"/>
<circle cx="65.15" cy="783.61" r="2.12" fill="#5cb83c"/>
<circle cx="67.34" cy="783.61" r="2.12" fill="#5cb83c"/>
<circle cx="62.66" cy="789.45" r="2.12" fill="#5cb83c"/>
<circle cx="71.72" cy="789.45" r="2.12" fill="#5cb83c"/>
<circle cx="64.42" cy="791.34" r="2.12" fill="#5cb83c"/>
<circle cx="60.77" cy="793.09" r="2.12" fill="#5cb83c"/>
<circle cx="67.34" cy="793.09" r="2.12" fill="#5cb83c"/>
<circle cx="70.26" cy="794.55" r="2.12" fill="#5cb83c"/>
<circle cx="62.96" cy="796.31" r="2.12" fill="#5cb83c"/>
<circle cx="67.34" cy="796.31" r="2.12" fill="#5cb83c"/>
<circle cx="71.72" cy="796.31" r="2.12" fill="#5cb83c"/>
<circle cx="65.15" cy="798.2" r="2.12" fill="#5cb83c"/>
<circle cx="60.77" cy="799.66" r="2.12" fill="#5cb83c"/>
<circle cx="69.53" cy="799.66" r="2.12" fill="#5cb83c"/>
<circle cx="63.25" cy="801.12" r="2.12" fill="#5cb83c"/>
<circle cx="66.61" cy="801.12" r="2.12" fill="#5cb83c"/>
<circle cx="71.72" cy="801.12" r="2.12" fill="#5cb83c"/>
<circle cx="68.8" cy="803.31" r="2.12" fill="#5cb83c"/>
<circle cx="65.15" cy="805.07" r="2.12" fill="#5cb83c"/>
<circle cx="67.34" cy="805.07" r="2.12" fill="#5cb83c"/>
<circle cx="70.26" cy="806.96" r="2.12" fill="#5cb83c"/>
<circle cx="62.66" cy="809.45" r="2.12" fill="#5cb83c"/>
<circle cx="67.34" cy="809.45" r="2.12" fill="#5cb83c"/>
<circle cx="69.96" cy="810.91" r="2.12" fill="#5cb83c"/>
<circle cx="90.69" cy="792.36" r="2.12" fill="#e8262b"/>
<circle cx="82.66" cy="793.39" r="2.12" fill="#e8262b"/>
<circle cx="88.07" cy="793.39" r="2.12" fill="#e8262b"/>
<circle cx="90.69" cy="795.72" r="2.12" fill="#e8262b"/>
<circle cx="85.58" cy="796.74" r="2.12" fill="#e8262b"/>
<circle cx="88.07" cy="804.04" r="2.12" fill="#e8262b"/>
<circle cx="86.31" cy="806.67" r="2.12" fill="#e8262b"/>
<circle cx="89.96" cy="806.67" r="2.12" fill="#e8262b"/>
<circle cx="82.66" cy="809.15" r="2.12" fill="#e8262b"/>
<circle cx="84.85" cy="809.15" r="2.12" fill="#e8262b"/>
<circle cx="91.86" cy="809.15" r="2.12" fill="#e8262b"/>
<circle cx="93.61" cy="810.32" r="2.12" fill="#e8262b"/>
<circle cx="109.96" cy="781.71" r="2.12" fill="#111111"/>
<circle cx="109.96" cy="785.5" r="2.12" fill="#111111"/>
<circle cx="111.86" cy="794.26" r="2.12" fill="#111111"/>
<circle cx="104.56" cy="796.74" r="2.12" fill="#111111"/>
<circle cx="108.21" cy="796.74" r="2.12" fill="#111111"/>
<circle cx="113.61" cy="799.37" r="2.12" fill="#111111"/>
<circle cx="108.21" cy="800.39" r="2.12" fill="#111111"/>
<circle cx="111.42" cy="800.39" r="2.12" fill="#111111"/>
<circle cx="115.51" cy="801.85" r="2.12" fill="#111111"/>
<circle cx="104.56" cy="803.02" r="2.12" fill="#111111"/>
<circle cx="108.21" cy="805.07" r="2.12" fill="#111111"/>
<circle cx="115.51" cy="805.07" r="2.12" fill="#111111"/>
<circle cx="111.86" cy="806.23" r="2.12" fill="#111111"/>
<circle cx="111.86" cy="808.42" r="2.12" fill="#111111"/>
<circle cx="109.96" cy="817.91" r="2.12" fill="#111111"/>
<text x="82.4" y="726.6" font-size="7.8" text-anchor="middle">delta 5 desaturase index</text>
<line x1="30.1" y1="750.7" x2="30.1" y2="845.85" stroke="#2a2a2a" stroke-width="1"/>
<line x1="29.65" y1="845.4" x2="124.7" y2="845.4" stroke="#2a2a2a" stroke-width="1"/>
<line x1="26.1" y1="751.1" x2="30.1" y2="751.1" stroke="#2a2a2a" stroke-width="0.9"/>
<text x="25.6" y="753.45" font-size="6.7" text-anchor="end">20</text>
<line x1="26.1" y1="774.67" x2="30.1" y2="774.67" stroke="#2a2a2a" stroke-width="0.9"/>
<text x="25.6" y="777.02" font-size="6.7" text-anchor="end">15</text>
<line x1="26.1" y1="798.25" x2="30.1" y2="798.25" stroke="#2a2a2a" stroke-width="0.9"/>
<text x="25.6" y="800.6" font-size="6.7" text-anchor="end">10</text>
<line x1="26.1" y1="821.83" x2="30.1" y2="821.83" stroke="#2a2a2a" stroke-width="0.9"/>
<text x="25.6" y="824.18" font-size="6.7" text-anchor="end">5</text>
<line x1="26.1" y1="845.4" x2="30.1" y2="845.4" stroke="#2a2a2a" stroke-width="0.9"/>
<text x="25.6" y="847.75" font-size="6.7" text-anchor="end">0</text>
<text x="7.1" y="794.4" font-size="7.7" text-anchor="middle" transform="rotate(-90 7.1 794.4)">% Rel Quant.</text>
<line x1="44.4" y1="845.4" x2="44.4" y2="849.6" stroke="#2a2a2a" stroke-width="0.9"/>
<text x="43.9" y="857.3" font-size="6.6" text-anchor="end" transform="rotate(-45 43.9 857.3)">HEALTHY</text>
<line x1="66.2" y1="845.4" x2="66.2" y2="849.6" stroke="#2a2a2a" stroke-width="0.9"/>
<text x="68.5" y="856.1" font-size="6.6" text-anchor="end" transform="rotate(-45 68.5 856.1)">BC NW</text>
<line x1="88.1" y1="845.4" x2="88.1" y2="849.6" stroke="#2a2a2a" stroke-width="0.9"/>
<text x="89.9" y="856.1" font-size="6.6" text-anchor="end" transform="rotate(-45 89.9 856.1)">BC OW</text>
<line x1="109.7" y1="845.4" x2="109.7" y2="849.6" stroke="#2a2a2a" stroke-width="0.9"/>
<text x="112" y="856.1" font-size="6.6" text-anchor="end" transform="rotate(-45 112 856.1)">BC OB</text>
<text x="80.9" y="826" font-size="6.55" text-anchor="middle">normal values</text>
<text x="81.5" y="835.4" font-size="6.55" text-anchor="middle">(6-9)</text>
<circle cx="185.54" cy="777.04" r="2.12" fill="#2b2792"/>
<circle cx="185.54" cy="783.9" r="2.12" fill="#2b2792"/>
<circle cx="184.23" cy="790.18" r="2.12" fill="#2b2792"/>
<circle cx="187.44" cy="790.18" r="2.12" fill="#2b2792"/>
<circle cx="185.54" cy="793.09" r="2.12" fill="#2b2792"/>
<circle cx="188.17" cy="793.09" r="2.12" fill="#2b2792"/>
<circle cx="183.06" cy="795.28" r="2.12" fill="#2b2792"/>
<circle cx="184.52" cy="797.47" r="2.12" fill="#2b2792"/>
<circle cx="187.44" cy="797.47" r="2.12" fill="#2b2792"/>
<circle cx="183.79" cy="803.31" r="2.12" fill="#2b2792"/>
<circle cx="186.71" cy="803.31" r="2.12" fill="#2b2792"/>
<circle cx="180.87" cy="805.5" r="2.12" fill="#2b2792"/>
<circle cx="183.06" cy="805.5" r="2.12" fill="#2b2792"/>
<circle cx="185.54" cy="805.5" r="2.12" fill="#2b2792"/>
<circle cx="188.17" cy="805.5" r="2.12" fill="#2b2792"/>
<circle cx="191.09" cy="805.5" r="2.12" fill="#2b2792"/>
<circle cx="179.41" cy="807.69" r="2.12" fill="#2b2792"/>
<circle cx="182.33" cy="807.69" r="2.12" fill="#2b2792"/>
<circle cx="185.25" cy="807.69" r="2.12" fill="#2b2792"/>
<circle cx="188.9" cy="807.69" r="2.12" fill="#2b2792"/>
<circle cx="181.6" cy="809.88" r="2.12" fill="#2b2792"/>
<circle cx="184.52" cy="809.88" r="2.12" fill="#2b2792"/>
<circle cx="187.44" cy="809.88" r="2.12" fill="#2b2792"/>
<circle cx="190.36" cy="809.88" r="2.12" fill="#2b2792"/>
<circle cx="180.14" cy="812.07" r="2.12" fill="#2b2792"/>
<circle cx="183.06" cy="812.07" r="2.12" fill="#2b2792"/>
<circle cx="185.98" cy="812.07" r="2.12" fill="#2b2792"/>
<circle cx="188.9" cy="812.07" r="2.12" fill="#2b2792"/>
<circle cx="181.6" cy="814.26" r="2.12" fill="#2b2792"/>
<circle cx="184.52" cy="814.26" r="2.12" fill="#2b2792"/>
<circle cx="187.44" cy="814.26" r="2.12" fill="#2b2792"/>
<circle cx="183.06" cy="816.45" r="2.12" fill="#2b2792"/>
<circle cx="185.98" cy="816.45" r="2.12" fill="#2b2792"/>
<circle cx="189.63" cy="816.45" r="2.12" fill="#2b2792"/>
<circle cx="181.6" cy="818.64" r="2.12" fill="#2b2792"/>
<circle cx="185.25" cy="818.64" r="2.12" fill="#2b2792"/>
<circle cx="188.17" cy="818.64" r="2.12" fill="#2b2792"/>
<circle cx="186.71" cy="820.83" r="2.12" fill="#2b2792"/>
<circle cx="184.81" cy="823.46" r="2.12" fill="#2b2792"/>
<circle cx="205.25" cy="796.74" r="2.12" fill="#5cb83c"/>
<circle cx="209.63" cy="796.74" r="2.12" fill="#5cb83c"/>
<circle cx="207.44" cy="798.64" r="2.12" fill="#5cb83c"/>
<circle cx="207.44" cy="803.02" r="2.12" fill="#5cb83c"/>
<circle cx="205.25" cy="805.07" r="2.12" fill="#5cb83c"/>
<circle cx="210.07" cy="805.07" r="2.12" fill="#5cb83c"/>
<circle cx="202.04" cy="806.96" r="2.12" fill="#5cb83c"/>
<circle cx="212.26" cy="806.96" r="2.12" fill="#5cb83c"/>
<circle cx="207.44" cy="806.96" r="2.12" fill="#5cb83c"/>
<circle cx="204.23" cy="809.45" r="2.12" fill="#5cb83c"/>
<circle cx="210.07" cy="809.45" r="2.12" fill="#5cb83c"/>
<circle cx="207.44" cy="811.34" r="2.12" fill="#5cb83c"/>
<circle cx="212.99" cy="811.34" r="2.12" fill="#5cb83c"/>
<circle cx="202.04" cy="813.53" r="2.12" fill="#5cb83c"/>
<circle cx="205.69" cy="813.53" r="2.12" fill="#5cb83c"/>
<circle cx="209.34" cy="813.53" r="2.12" fill="#5cb83c"/>
<circle cx="212.26" cy="815.72" r="2.12" fill="#5cb83c"/>
<circle cx="207.44" cy="815.72" r="2.12" fill="#5cb83c"/>
<circle cx="207.44" cy="817.91" r="2.12" fill="#5cb83c"/>
<circle cx="209.34" cy="820.1" r="2.12" fill="#5cb83c"/>
<circle cx="205.25" cy="821.85" r="2.12" fill="#5cb83c"/>
<circle cx="229.34" cy="801.12" r="2.12" fill="#e8262b"/>
<circle cx="230.5" cy="808.42" r="2.12" fill="#e8262b"/>
<circle cx="234.45" cy="808.42" r="2.12" fill="#e8262b"/>
<circle cx="223.64" cy="809.45" r="2.12" fill="#e8262b"/>
<circle cx="226.85" cy="809.45" r="2.12" fill="#e8262b"/>
<circle cx="231.96" cy="813.24" r="2.12" fill="#e8262b"/>
<circle cx="226.85" cy="814.26" r="2.12" fill="#e8262b"/>
<circle cx="229.34" cy="817.62" r="2.12" fill="#e8262b"/>
<circle cx="231.96" cy="819.08" r="2.12" fill="#e8262b"/>
<circle cx="226.56" cy="820.83" r="2.12" fill="#e8262b"/>
<circle cx="250.94" cy="796.01" r="2.12" fill="#111111"/>
<circle cx="250.94" cy="803.02" r="2.12" fill="#111111"/>
<circle cx="253.86" cy="807.99" r="2.12" fill="#111111"/>
<circle cx="248.75" cy="810.18" r="2.12" fill="#111111"/>
<circle cx="251.67" cy="810.18" r="2.12" fill="#111111"/>
<circle cx="256.34" cy="813.53" r="2.12" fill="#111111"/>
<circle cx="245.83" cy="814.55" r="2.12" fill="#111111"/>
<circle cx="250.94" cy="814.55" r="2.12" fill="#111111"/>
<circle cx="248.75" cy="816.74" r="2.12" fill="#111111"/>
<circle cx="253.86" cy="816.74" r="2.12" fill="#111111"/>
<circle cx="251.67" cy="818.64" r="2.12" fill="#111111"/>
<circle cx="245.83" cy="820.39" r="2.12" fill="#111111"/>
<circle cx="256.34" cy="820.39" r="2.12" fill="#111111"/>
<rect x="171.8" y="795.3" width="95.2" height="18.5" fill="#9c9c9c" fill-opacity="0.25"/>
<text x="187" y="727.8" font-size="7.8" text-anchor="start">delta 6 desaturase</text>
<text x="187.6" y="736.8" font-size="7.8" text-anchor="start">+ elongase index</text>
<line x1="171.8" y1="751.1" x2="171.8" y2="846.15" stroke="#2a2a2a" stroke-width="1"/>
<line x1="171.35" y1="845.7" x2="266.2" y2="845.7" stroke="#2a2a2a" stroke-width="1"/>
<line x1="167.8" y1="751.5" x2="171.8" y2="751.5" stroke="#2a2a2a" stroke-width="0.9"/>
<text x="167.3" y="753.85" font-size="6.7" text-anchor="end">15</text>
<line x1="167.8" y1="782.9" x2="171.8" y2="782.9" stroke="#2a2a2a" stroke-width="0.9"/>
<text x="167.3" y="785.25" font-size="6.7" text-anchor="end">10</text>
<line x1="167.8" y1="814.3" x2="171.8" y2="814.3" stroke="#2a2a2a" stroke-width="0.9"/>
<text x="167.3" y="816.65" font-size="6.7" text-anchor="end">5</text>
<line x1="167.8" y1="845.7" x2="171.8" y2="845.7" stroke="#2a2a2a" stroke-width="0.9"/>
<text x="167.3" y="848.05" font-size="6.7" text-anchor="end">0</text>
<text x="150.9" y="792.2" font-size="7.7" text-anchor="middle" transform="rotate(-90 150.9 792.2)">% Rel Quant.</text>
<line x1="185.5" y1="845.7" x2="185.5" y2="849.9" stroke="#2a2a2a" stroke-width="0.9"/>
<text x="186" y="857.2" font-size="6.6" text-anchor="end" transform="rotate(-45 186 857.2)">HEALTHY</text>
<line x1="207.4" y1="845.7" x2="207.4" y2="849.9" stroke="#2a2a2a" stroke-width="0.9"/>
<text x="209.6" y="856.2" font-size="6.6" text-anchor="end" transform="rotate(-45 209.6 856.2)">BC NW</text>
<line x1="229.5" y1="845.7" x2="229.5" y2="849.9" stroke="#2a2a2a" stroke-width="0.9"/>
<text x="231.4" y="856.2" font-size="6.6" text-anchor="end" transform="rotate(-45 231.4 856.2)">BC OW</text>
<line x1="250.9" y1="845.7" x2="250.9" y2="849.9" stroke="#2a2a2a" stroke-width="0.9"/>
<text x="253.5" y="856.2" font-size="6.6" text-anchor="end" transform="rotate(-45 253.5 856.2)">BC OB</text>
<text x="223.9" y="830.8" font-size="6.55" text-anchor="middle">normal  values</text>
<text x="223.9" y="838.4" font-size="6.55" text-anchor="middle">(5 – 8)</text>
<path d="M185.2 773.4 V763.9 H253.6 V773.8" fill="none" stroke="#2a2a2a" stroke-width="0.95"/>
<path d="M219.6 755.18 L219.6 759.42 M217.76 756.24 L221.44 758.36 M221.44 756.24 L217.76 758.36" stroke="#1a1a1a" stroke-width="0.95" fill="none"/>
<circle cx="327.52" cy="773.5" r="2.12" fill="#2b2792"/>
<circle cx="327.52" cy="781.39" r="2.12" fill="#2b2792"/>
<circle cx="325.33" cy="787.66" r="2.12" fill="#2b2792"/>
<circle cx="328.25" cy="787.66" r="2.12" fill="#2b2792"/>
<circle cx="325.33" cy="792.48" r="2.12" fill="#2b2792"/>
<circle cx="328.69" cy="794.23" r="2.12" fill="#2b2792"/>
<circle cx="328.98" cy="798.91" r="2.12" fill="#2b2792"/>
<circle cx="323.14" cy="800.8" r="2.12" fill="#2b2792"/>
<circle cx="332.63" cy="800.8" r="2.12" fill="#2b2792"/>
<circle cx="326.06" cy="802.26" r="2.12" fill="#2b2792"/>
<circle cx="321.68" cy="804.16" r="2.12" fill="#2b2792"/>
<circle cx="330.44" cy="804.16" r="2.12" fill="#2b2792"/>
<circle cx="324.6" cy="805.91" r="2.12" fill="#2b2792"/>
<circle cx="333.36" cy="805.91" r="2.12" fill="#2b2792"/>
<circle cx="327.52" cy="807.81" r="2.12" fill="#2b2792"/>
<circle cx="322.41" cy="809.56" r="2.12" fill="#2b2792"/>
<circle cx="331.9" cy="809.56" r="2.12" fill="#2b2792"/>
<circle cx="325.33" cy="811.46" r="2.12" fill="#2b2792"/>
<circle cx="328.25" cy="813.21" r="2.12" fill="#2b2792"/>
<circle cx="333.36" cy="813.21" r="2.12" fill="#2b2792"/>
<circle cx="323.14" cy="815.11" r="2.12" fill="#2b2792"/>
<circle cx="331.17" cy="815.11" r="2.12" fill="#2b2792"/>
<circle cx="326.06" cy="816.86" r="2.12" fill="#2b2792"/>
<circle cx="328.98" cy="818.76" r="2.12" fill="#2b2792"/>
<circle cx="331.9" cy="818.76" r="2.12" fill="#2b2792"/>
<circle cx="324.6" cy="820.51" r="2.12" fill="#2b2792"/>
<circle cx="323.14" cy="828.1" r="2.12" fill="#2b2792"/>
<circle cx="332.63" cy="828.1" r="2.12" fill="#2b2792"/>
<circle cx="326.06" cy="829.27" r="2.12" fill="#2b2792"/>
<circle cx="329.71" cy="829.27" r="2.12" fill="#2b2792"/>
<circle cx="324.6" cy="832.19" r="2.12" fill="#2b2792"/>
<circle cx="328.69" cy="832.19" r="2.12" fill="#2b2792"/>
<circle cx="327.52" cy="834.38" r="2.12" fill="#2b2792"/>
<circle cx="327.52" cy="840.22" r="2.12" fill="#2b2792"/>
<circle cx="348.98" cy="775.26" r="2.12" fill="#5cb83c"/>
<circle cx="351.17" cy="779.64" r="2.12" fill="#5cb83c"/>
<circle cx="348.98" cy="783.28" r="2.12" fill="#5cb83c"/>
<circle cx="347.23" cy="787.23" r="2.12" fill="#5cb83c"/>
<circle cx="349.42" cy="789.12" r="2.12" fill="#5cb83c"/>
<circle cx="354.53" cy="789.85" r="2.12" fill="#5cb83c"/>
<circle cx="344.31" cy="791.31" r="2.12" fill="#5cb83c"/>
<circle cx="351.61" cy="791.31" r="2.12" fill="#5cb83c"/>
<circle cx="347.23" cy="793.07" r="2.12" fill="#5cb83c"/>
<circle cx="349.42" cy="794.23" r="2.12" fill="#5cb83c"/>
<circle cx="353.07" cy="794.23" r="2.12" fill="#5cb83c"/>
<circle cx="345.04" cy="795.99" r="2.12" fill="#5cb83c"/>
<circle cx="347.96" cy="797.45" r="2.12" fill="#5cb83c"/>
<circle cx="350.88" cy="797.45" r="2.12" fill="#5cb83c"/>
<circle cx="353.8" cy="798.61" r="2.12" fill="#5cb83c"/>
<circle cx="345.77" cy="800.07" r="2.12" fill="#5cb83c"/>
<circle cx="349.42" cy="800.8" r="2.12" fill="#5cb83c"/>
<circle cx="354.53" cy="800.8" r="2.12" fill="#5cb83c"/>
<circle cx="348.98" cy="805.18" r="2.12" fill="#5cb83c"/>
<circle cx="347.23" cy="810" r="2.12" fill="#5cb83c"/>
<circle cx="350.15" cy="811.75" r="2.12" fill="#5cb83c"/>
<circle cx="348.25" cy="813.5" r="2.12" fill="#5cb83c"/>
<circle cx="351.17" cy="813.5" r="2.12" fill="#5cb83c"/>
<circle cx="347.23" cy="815.4" r="2.12" fill="#5cb83c"/>
<circle cx="371.02" cy="775.55" r="2.12" fill="#e8262b"/>
<circle cx="371.02" cy="789.12" r="2.12" fill="#e8262b"/>
<circle cx="365.77" cy="794.23" r="2.12" fill="#e8262b"/>
<circle cx="376.42" cy="796.42" r="2.12" fill="#e8262b"/>
<circle cx="365.77" cy="798.32" r="2.12" fill="#e8262b"/>
<circle cx="376.42" cy="802.7" r="2.12" fill="#e8262b"/>
<circle cx="365.77" cy="804.45" r="2.12" fill="#e8262b"/>
<circle cx="376.42" cy="808.39" r="2.12" fill="#e8262b"/>
<circle cx="365.77" cy="810" r="2.12" fill="#e8262b"/>
<circle cx="365.77" cy="813.94" r="2.12" fill="#e8262b"/>
<circle cx="376.42" cy="813.94" r="2.12" fill="#e8262b"/>
<circle cx="392.92" cy="774.09" r="2.12" fill="#111111"/>
<circle cx="392.92" cy="778.18" r="2.12" fill="#111111"/>
<circle cx="392.92" cy="788.69" r="2.12" fill="#111111"/>
<circle cx="392.92" cy="794.23" r="2.12" fill="#111111"/>
<circle cx="392.92" cy="799.78" r="2.12" fill="#111111"/>
<circle cx="398.32" cy="809.12" r="2.12" fill="#111111"/>
<circle cx="392.92" cy="811.02" r="2.12" fill="#111111"/>
<circle cx="398.32" cy="812.48" r="2.12" fill="#111111"/>
<circle cx="387.37" cy="813.21" r="2.12" fill="#111111"/>
<circle cx="387.37" cy="818.32" r="2.12" fill="#111111"/>
<circle cx="392.92" cy="820.51" r="2.12" fill="#111111"/>
<circle cx="398.32" cy="821.97" r="2.12" fill="#111111"/>
<circle cx="387.37" cy="824.16" r="2.12" fill="#111111"/>
<rect x="313.3" y="798.9" width="94.5" height="47.2" fill="#9c9c9c" fill-opacity="0.25"/>
<text x="367.8" y="728.2" font-size="7.8" text-anchor="middle">Unsaturation index (UI)</text>
<line x1="313.3" y1="751.1" x2="313.3" y2="846.55" stroke="#2a2a2a" stroke-width="1"/>
<line x1="312.85" y1="846.1" x2="407.9" y2="846.1" stroke="#2a2a2a" stroke-width="1"/>
<line x1="309.3" y1="751.5" x2="313.3" y2="751.5" stroke="#2a2a2a" stroke-width="0.9"/>
<text x="308.8" y="753.85" font-size="6.7" text-anchor="end">200</text>
<line x1="309.3" y1="770.42" x2="313.3" y2="770.42" stroke="#2a2a2a" stroke-width="0.9"/>
<text x="308.8" y="772.77" font-size="6.7" text-anchor="end">190</text>
<line x1="309.3" y1="789.34" x2="313.3" y2="789.34" stroke="#2a2a2a" stroke-width="0.9"/>
<text x="308.8" y="791.69" font-size="6.7" text-anchor="end">180</text>
<line x1="309.3" y1="808.26" x2="313.3" y2="808.26" stroke="#2a2a2a" stroke-width="0.9"/>
<text x="308.8" y="810.61" font-size="6.7" text-anchor="end">170</text>
<line x1="309.3" y1="827.18" x2="313.3" y2="827.18" stroke="#2a2a2a" stroke-width="0.9"/>
<text x="308.8" y="829.53" font-size="6.7" text-anchor="end">160</text>
<line x1="309.3" y1="846.1" x2="313.3" y2="846.1" stroke="#2a2a2a" stroke-width="0.9"/>
<text x="308.8" y="848.45" font-size="6.7" text-anchor="end">150</text>
<text x="291.5" y="794.2" font-size="7.7" text-anchor="middle" transform="rotate(-90 291.5 794.2)">% Rel Quant.</text>
<line x1="327.5" y1="846.1" x2="327.5" y2="850.3" stroke="#2a2a2a" stroke-width="0.9"/>
<text x="328.2" y="857.4" font-size="6.6" text-anchor="end" transform="rotate(-45 328.2 857.4)">HEALTHY</text>
<line x1="349" y1="846.1" x2="349" y2="850.3" stroke="#2a2a2a" stroke-width="0.9"/>
<text x="351.7" y="856.4" font-size="6.6" text-anchor="end" transform="rotate(-45 351.7 856.4)">BC NW</text>
<line x1="370.9" y1="846.1" x2="370.9" y2="850.3" stroke="#2a2a2a" stroke-width="0.9"/>
<text x="373.5" y="856.4" font-size="6.6" text-anchor="end" transform="rotate(-45 373.5 856.4)">BC OW</text>
<line x1="392.5" y1="846.1" x2="392.5" y2="850.3" stroke="#2a2a2a" stroke-width="0.9"/>
<text x="396" y="856.4" font-size="6.6" text-anchor="end" transform="rotate(-45 396 856.4)">BC OB</text>
<text x="369.1" y="834.8" font-size="6.55" text-anchor="middle">normal values</text>
<text x="368.8" y="842.6" font-size="6.8" text-anchor="middle">(118 – 174)</text>
<path d="M354.2 751.2 V745 H392.9 V751.2" fill="none" stroke="#2a2a2a" stroke-width="0.95"/>
<path d="M371.6 739.78 L371.6 744.02 M369.76 740.84 L373.44 742.96 M373.44 740.84 L369.76 742.96" stroke="#1a1a1a" stroke-width="0.95" fill="none"/>
<path d="M326.4 769.4 V764.6 H349.7 V769.4" fill="none" stroke="#2a2a2a" stroke-width="0.95"/>
<path d="M330.2 758.58 L330.2 762.82 M328.36 759.64 L332.04 761.76 M332.04 759.64 L328.36 761.76" stroke="#1a1a1a" stroke-width="0.95" fill="none"/>
<path d="M335.4 758.58 L335.4 762.82 M333.56 759.64 L337.24 761.76 M337.24 759.64 L333.56 761.76" stroke="#1a1a1a" stroke-width="0.95" fill="none"/>
<path d="M340.6 758.58 L340.6 762.82 M338.76 759.64 L342.44 761.76 M342.44 759.64 L338.76 761.76" stroke="#1a1a1a" stroke-width="0.95" fill="none"/>
<path d="M345.8 758.58 L345.8 762.82 M343.96 759.64 L347.64 761.76 M347.64 759.64 L343.96 761.76" stroke="#1a1a1a" stroke-width="0.95" fill="none"/>
<rect x="459.8" y="794.2" width="90.8" height="50" fill="#ebecec" stroke="#c9c9c9" stroke-width="0.6"/>
<circle cx="473.98" cy="755.26" r="2.12" fill="#2b2792"/>
<circle cx="476.17" cy="768.69" r="2.12" fill="#2b2792"/>
<circle cx="472.52" cy="772.04" r="2.12" fill="#2b2792"/>
<circle cx="475.15" cy="773.8" r="2.12" fill="#2b2792"/>
<circle cx="473.98" cy="775.99" r="2.12" fill="#2b2792"/>
<circle cx="479.09" cy="784.01" r="2.12" fill="#2b2792"/>
<circle cx="468.87" cy="785.91" r="2.12" fill="#2b2792"/>
<circle cx="472.52" cy="785.91" r="2.12" fill="#2b2792"/>
<circle cx="476.9" cy="785.91" r="2.12" fill="#2b2792"/>
<circle cx="474.71" cy="787.66" r="2.12" fill="#2b2792"/>
<circle cx="471.06" cy="789.85" r="2.12" fill="#2b2792"/>
<circle cx="478.36" cy="789.85" r="2.12" fill="#2b2792"/>
<circle cx="473.98" cy="792.04" r="2.12" fill="#2b2792"/>
<circle cx="468.87" cy="793.5" r="2.12" fill="#2b2792"/>
<circle cx="476.9" cy="793.5" r="2.12" fill="#2b2792"/>
<circle cx="479.82" cy="793.5" r="2.12" fill="#2b2792"/>
<circle cx="471.79" cy="795.4" r="2.12" fill="#2b2792"/>
<circle cx="474.71" cy="797.15" r="2.12" fill="#2b2792"/>
<circle cx="478.36" cy="797.15" r="2.12" fill="#2b2792"/>
<circle cx="470.33" cy="799.34" r="2.12" fill="#2b2792"/>
<circle cx="476.9" cy="799.34" r="2.12" fill="#2b2792"/>
<circle cx="473.98" cy="801.53" r="2.12" fill="#2b2792"/>
<circle cx="479.09" cy="801.53" r="2.12" fill="#2b2792"/>
<circle cx="468.43" cy="802.99" r="2.12" fill="#2b2792"/>
<circle cx="471.79" cy="802.99" r="2.12" fill="#2b2792"/>
<circle cx="476.17" cy="804.74" r="2.12" fill="#2b2792"/>
<circle cx="473.25" cy="806.2" r="2.12" fill="#2b2792"/>
<circle cx="476.17" cy="808.83" r="2.12" fill="#2b2792"/>
<circle cx="476.17" cy="813.21" r="2.12" fill="#2b2792"/>
<circle cx="470.77" cy="815.4" r="2.12" fill="#2b2792"/>
<circle cx="473.98" cy="817.59" r="2.12" fill="#2b2792"/>
<circle cx="477.63" cy="817.59" r="2.12" fill="#2b2792"/>
<circle cx="470.33" cy="819.34" r="2.12" fill="#2b2792"/>
<circle cx="476.17" cy="821.97" r="2.12" fill="#2b2792"/>
<circle cx="473.98" cy="823.72" r="2.12" fill="#2b2792"/>
<circle cx="473.98" cy="831.9" r="2.12" fill="#2b2792"/>
<circle cx="496.9" cy="760.66" r="2.12" fill="#5cb83c"/>
<circle cx="494.71" cy="763.28" r="2.12" fill="#5cb83c"/>
<circle cx="497.34" cy="766.2" r="2.12" fill="#5cb83c"/>
<circle cx="492.23" cy="775.55" r="2.12" fill="#5cb83c"/>
<circle cx="490.04" cy="777.45" r="2.12" fill="#5cb83c"/>
<circle cx="497.34" cy="777.45" r="2.12" fill="#5cb83c"/>
<circle cx="500.26" cy="778.47" r="2.12" fill="#5cb83c"/>
<circle cx="502.01" cy="778.47" r="2.12" fill="#5cb83c"/>
<circle cx="494.42" cy="780.36" r="2.12" fill="#5cb83c"/>
<circle cx="490.77" cy="781.39" r="2.12" fill="#5cb83c"/>
<circle cx="497.34" cy="783.28" r="2.12" fill="#5cb83c"/>
<circle cx="495.15" cy="785.18" r="2.12" fill="#5cb83c"/>
<circle cx="501.72" cy="787.66" r="2.12" fill="#5cb83c"/>
<circle cx="490.77" cy="788.69" r="2.12" fill="#5cb83c"/>
<circle cx="497.34" cy="788.69" r="2.12" fill="#5cb83c"/>
<circle cx="493.69" cy="790.15" r="2.12" fill="#5cb83c"/>
<circle cx="498.8" cy="792.04" r="2.12" fill="#5cb83c"/>
<circle cx="492.66" cy="793.5" r="2.12" fill="#5cb83c"/>
<circle cx="495.88" cy="793.5" r="2.12" fill="#5cb83c"/>
<circle cx="497.34" cy="796.86" r="2.12" fill="#5cb83c"/>
<circle cx="492.23" cy="797.88" r="2.12" fill="#5cb83c"/>
<circle cx="499.53" cy="797.88" r="2.12" fill="#5cb83c"/>
<circle cx="495.15" cy="801.82" r="2.12" fill="#5cb83c"/>
<circle cx="497.34" cy="805.18" r="2.12" fill="#5cb83c"/>
<circle cx="493.69" cy="806.2" r="2.12" fill="#5cb83c"/>
<circle cx="495.15" cy="808.1" r="2.12" fill="#5cb83c"/>
<circle cx="517.77" cy="757.3" r="2.12" fill="#e8262b"/>
<circle cx="517.77" cy="776.72" r="2.12" fill="#e8262b"/>
<circle cx="517.77" cy="785.04" r="2.12" fill="#e8262b"/>
<circle cx="512.37" cy="785.91" r="2.12" fill="#e8262b"/>
<circle cx="523.18" cy="787.66" r="2.12" fill="#e8262b"/>
<circle cx="517.77" cy="791.31" r="2.12" fill="#e8262b"/>
<circle cx="512.37" cy="798.18" r="2.12" fill="#e8262b"/>
<circle cx="523.18" cy="800.8" r="2.12" fill="#e8262b"/>
<circle cx="517.77" cy="802.99" r="2.12" fill="#e8262b"/>
<circle cx="523.18" cy="805.47" r="2.12" fill="#e8262b"/>
<circle cx="512.37" cy="806.2" r="2.12" fill="#e8262b"/>
<circle cx="539.67" cy="757.01" r="2.12" fill="#111111"/>
<circle cx="539.67" cy="764.6" r="2.12" fill="#111111"/>
<circle cx="539.67" cy="777.01" r="2.12" fill="#111111"/>
<circle cx="539.67" cy="785.47" r="2.12" fill="#111111"/>
<circle cx="539.67" cy="789.42" r="2.12" fill="#111111"/>
<circle cx="545.07" cy="796.42" r="2.12" fill="#111111"/>
<circle cx="539.67" cy="797.45" r="2.12" fill="#111111"/>
<circle cx="534.27" cy="797.88" r="2.12" fill="#111111"/>
<circle cx="539.67" cy="801.53" r="2.12" fill="#111111"/>
<circle cx="534.27" cy="810" r="2.12" fill="#111111"/>
<circle cx="539.67" cy="812.77" r="2.12" fill="#111111"/>
<circle cx="545.07" cy="813.5" r="2.12" fill="#111111"/>
<circle cx="534.27" cy="815.69" r="2.12" fill="#111111"/>
<text x="508.7" y="725.7" font-size="7.8" text-anchor="middle">Peroxidation Index (PI)</text>
<line x1="459.8" y1="749.7" x2="459.8" y2="844.65" stroke="#2a2a2a" stroke-width="1"/>
<line x1="459.35" y1="844.2" x2="555" y2="844.2" stroke="#2a2a2a" stroke-width="1"/>
<line x1="455.8" y1="750.1" x2="459.8" y2="750.1" stroke="#2a2a2a" stroke-width="0.9"/>
<text x="455.3" y="752.45" font-size="6.7" text-anchor="end">180</text>
<line x1="455.8" y1="781.47" x2="459.8" y2="781.47" stroke="#2a2a2a" stroke-width="0.9"/>
<text x="455.3" y="783.82" font-size="6.7" text-anchor="end">160</text>
<line x1="455.8" y1="812.83" x2="459.8" y2="812.83" stroke="#2a2a2a" stroke-width="0.9"/>
<text x="455.3" y="815.18" font-size="6.7" text-anchor="end">140</text>
<line x1="455.8" y1="844.2" x2="459.8" y2="844.2" stroke="#2a2a2a" stroke-width="0.9"/>
<text x="455.3" y="846.55" font-size="6.7" text-anchor="end">120</text>
<text x="439.2" y="793" font-size="7.7" text-anchor="middle" transform="rotate(-90 439.2 793)">% Rel Quant.</text>
<line x1="474" y1="844.2" x2="474" y2="848.4" stroke="#2a2a2a" stroke-width="0.9"/>
<text x="474.8" y="855.7" font-size="6.6" text-anchor="end" transform="rotate(-45 474.8 855.7)">HEALTHY</text>
<line x1="495.6" y1="844.2" x2="495.6" y2="848.4" stroke="#2a2a2a" stroke-width="0.9"/>
<text x="498.1" y="854.9" font-size="6.6" text-anchor="end" transform="rotate(-45 498.1 854.9)">BC NW</text>
<line x1="517.5" y1="844.2" x2="517.5" y2="848.4" stroke="#2a2a2a" stroke-width="0.9"/>
<text x="519.7" y="854.9" font-size="6.6" text-anchor="end" transform="rotate(-45 519.7 854.9)">BC OW</text>
<line x1="539.4" y1="844.2" x2="539.4" y2="848.4" stroke="#2a2a2a" stroke-width="0.9"/>
<text x="542.2" y="854.9" font-size="6.6" text-anchor="end" transform="rotate(-45 542.2 854.9)">BC OB</text>
<text x="521.7" y="832.6" font-size="6.55" text-anchor="middle">normal values</text>
<text x="521" y="840.4" font-size="6.8" text-anchor="middle">(108-151)</text>
<path d="M473.2 751.9 V747.5 H493.7 V751.9" fill="none" stroke="#2a2a2a" stroke-width="0.95"/>
<path d="M483.8 739.88 L483.8 744.12 M481.96 740.94 L485.64 743.06 M485.64 740.94 L481.96 743.06" stroke="#1a1a1a" stroke-width="0.95" fill="none"/>
</svg>
</body></html>
